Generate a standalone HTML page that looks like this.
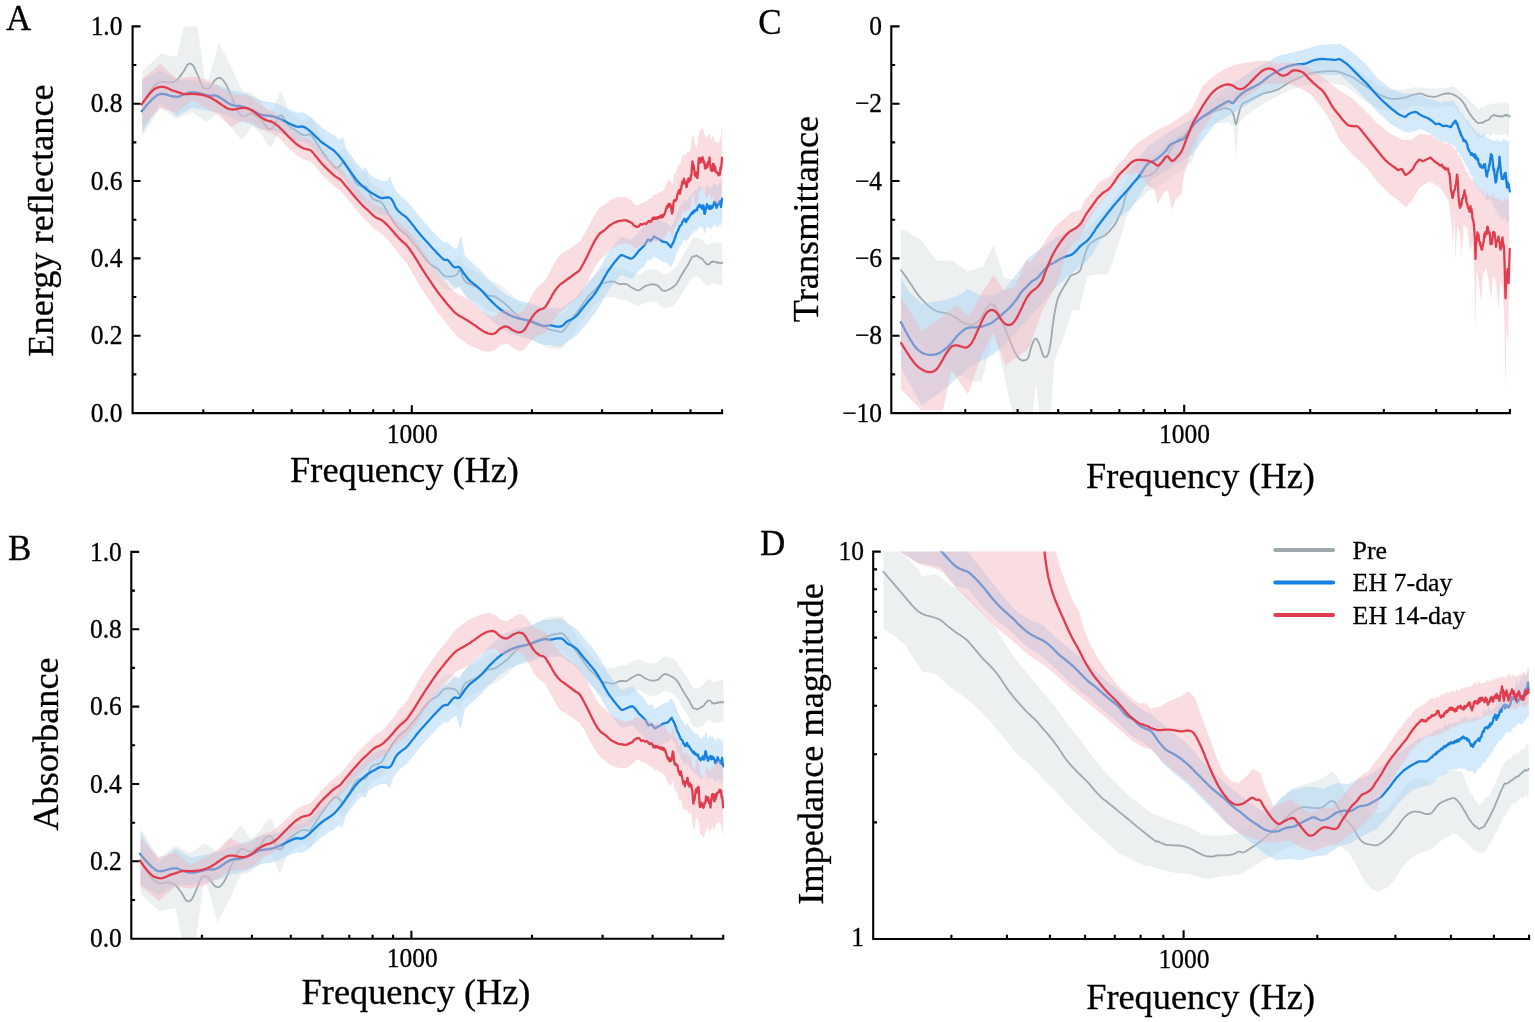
<!DOCTYPE html>
<html lang="en"><head><meta charset="utf-8"><title>Figure</title>
<style>
html,body{margin:0;padding:0;background:#fff;}
body{width:1535px;height:1022px;overflow:hidden;}
svg{display:block;}
text{font-family:'Liberation Serif', serif;fill:#000;stroke:#000;stroke-width:0.3px;stroke-linejoin:round;}
.tk{font-size:25.5px;}
.al{font-size:36.3px;}
.pl{font-size:35px;}
.lg{font-size:25.9px;}
.ax{stroke:#000;stroke-width:2.1;fill:none;stroke-linecap:square;}
.ln{fill:none;stroke-linejoin:round;stroke-linecap:round;}
</style></head>
<body>
<svg width="1535" height="1022" viewBox="0 0 1535 1022">
<rect width="1535" height="1022" fill="#fff"/>
<g id="panel-A">
<clipPath id="clipA"><rect x="132.6" y="26.4" width="590.5" height="386.7"/></clipPath>
<g clip-path="url(#clipA)">
<path d="M142.2 71.4 L160.5 53.8 L177 56.9 L192.1 -11.3 L206 88 L218.9 42.5 L230.8 66.3 L242 90.1 L242 89.3 L243.5 90.9 L245 91.3 L246.5 91.7 L248 92.1 L249.5 92.4 L251 92.8 L252.5 93.9 L254 95.2 L255.5 96.5 L257 97.8 L258.5 99.1 L260 100.4 L261.5 101.7 L263 104 L264.5 106.6 L266 109.2 L267.5 110.9 L269 111.9 L270.5 112.8 L272 112 L273.5 109.1 L275 104.7 L276.5 100.4 L278 96.8 L279.5 93.3 L281 92.1 L282.5 94.5 L284 98.3 L285.5 102.3 L287 106.3 L288.5 110.3 L290 112.2 L291.5 113.4 L293 114.5 L294.5 115.6 L296 116.7 L297.5 117.7 L299 118.7 L300.5 119.6 L302 120.4 L303.5 121.1 L305 121.1 L306.5 120.1 L308 118.7 L309.5 117.3 L311 117.3 L312.5 117.9 L314 121 L315.5 124.3 L317 127.7 L318.5 131.2 L320 134.2 L321.5 136.3 L323 138.4 L324.5 140.5 L326 142.6 L327.5 144.7 L329 146.7 L330.5 148.4 L332 150.1 L333.5 151.8 L335 153.4 L336.5 153.6 L338 153.4 L339.5 152.4 L341 150.9 L342.5 149 L344 148.3 L345.5 149.8 L347 152.6 L348.5 156.1 L350 158.2 L351.5 160.8 L353 163.5 L354.5 166.2 L356 168.9 L357.5 170.3 L359 171 L360.5 171.8 L362 172.4 L363.5 172.6 L365 172.8 L366.5 173 L368 176.1 L369.5 179.3 L371 182.4 L372.5 184.2 L374 185.2 L375.5 186.2 L377 186.8 L378.5 187.4 L380 188 L381.5 188.6 L383 190.9 L384.5 193.3 L386 195.7 L387.5 198.1 L389 200.5 L390.5 202.9 L392 205.3 L393.5 207.7 L395 209.7 L396.5 211.5 L398 213.3 L399.5 215.1 L401 216.6 L402.5 217.8 L404 219 L405.5 220.1 L407 221.4 L408.5 223.2 L410 224.9 L411.5 226.7 L413 228.5 L414.5 230.2 L416 232 L417.5 233.8 L419 235.5 L420.5 237.6 L422 239.6 L423.5 241.7 L425 243.7 L426.5 245.4 L428 246.8 L429.5 248.3 L431 249.8 L432.5 250.9 L434 251.8 L435.5 252.6 L437 253.5 L438.5 254.6 L440 256.2 L441.5 257.8 L443 259.4 L444.5 260.8 L446 260.9 L447.5 261.1 L449 261.3 L450.5 261.5 L452 261.1 L453.5 260.6 L455 260.2 L456.5 259.8 L458 257.8 L459.5 255.6 L461 258 L462.5 261.4 L464 264.7 L465.5 266.2 L467 267.3 L468.5 268.4 L470 269.3 L471.5 269.9 L473 270.5 L474.5 271.1 L476 271.8 L477.5 272.7 L479 273.6 L480.5 274.5 L482 275.4 L483.5 276.6 L485 277.8 L486.5 279 L488 280.2 L489.5 280.6 L491 280.9 L492.5 281.2 L494 281.5 L495.5 282.2 L497 283.1 L498.5 284 L500 284.9 L501.5 286 L503 287.2 L504.5 288.4 L506 289.6 L507.5 291 L509 292.5 L510.5 294 L512 295.5 L513.5 296.9 L515 298.3 L516.5 299.7 L518 301.1 L519.5 302.4 L521 303 L522.5 303.4 L524 303.9 L525.5 304.4 L527 304.8 L528.5 305.2 L530 305.5 L531.5 305.9 L533 306.3 L534.5 306.6 L536 307 L537.5 307.4 L539 307.7 L540.5 307.9 L542 308.2 L543.5 308.4 L545 308.7 L546.5 309.2 L548 310.1 L549.5 310.9 L551 311.6 L552.5 312.1 L554 312.6 L555.5 313.2 L557 313.7 L558.5 314 L560 314.4 L561.5 314.6 L563 313.7 L564.5 312.3 L566 310.7 L567.5 308.8 L569 306.9 L570.5 304.9 L572 302.9 L573.5 300.8 L575 298.8 L576.5 296.8 L578 294.8 L579.5 292.7 L581 290.7 L582.5 288.7 L584 286.7 L585.5 284.6 L587 282.6 L588.5 280.7 L590 279.3 L591.5 277.8 L593 276.4 L594.5 275 L596 273.6 L597.5 272.1 L599 270.7 L600.5 269.3 L602 268.7 L603.5 268.2 L605 267.8 L606.5 267.4 L608 267.1 L609.5 266.9 L611 266.8 L612.5 266.6 L614 266.8 L615.5 267.4 L617 268 L618.5 268.6 L620 269 L621.5 269 L623 269 L624.5 269 L626 269.1 L627.5 270 L629 270.9 L630.5 271.8 L632 272.7 L633.5 273.3 L635 273.9 L636.5 274.5 L638 275.1 L639.5 274.6 L641 273.6 L642.5 272.6 L644 271.7 L645.5 270.9 L647 270.4 L648.5 269.8 L650 269.3 L651.5 269 L653 269.1 L654.5 269.2 L656 269.3 L657.5 269.7 L659 270.9 L660.5 272.2 L662 273.4 L663.5 274.6 L665 274.1 L666.5 273.6 L668 273.1 L669.5 272.6 L671 271.5 L672.5 270.3 L674 269.2 L675.5 268 L677 265.8 L678.5 263.2 L680 260.6 L681.5 258 L683 255.4 L684.5 252.8 L686 250.3 L687.5 247.7 L689 245 L690.5 241.9 L692 238.8 L693.5 238.1 L695 237.8 L696.5 237 L698 237.7 L699.5 238.4 L701 238.8 L702.5 240.1 L704 242 L705.5 243.6 L707 245.3 L708.5 245 L710 244 L711.5 242.5 L713 241.6 L714.5 242.2 L716 242.1 L717.5 242.9 L719 242.5 L720.5 243.4 L722 242.4 L722.3 242.7 L722.3 284.7 L722 284.4 L720.5 285.2 L719 284.2 L717.5 284.5 L716 283.5 L714.5 283.5 L713 282.8 L711.5 283.5 L710 284.9 L708.5 285.7 L707 286 L705.5 284.1 L704 282.4 L702.5 280.4 L701 278.9 L699.5 278.3 L698 277.3 L696.5 276.3 L695 276.8 L693.5 276.8 L692 277.2 L690.5 280 L689 282.8 L687.5 285.2 L686 287.5 L684.5 289.7 L683 292 L681.5 294.3 L680 296.6 L678.5 299 L677 301.4 L675.5 303.5 L674 304.4 L672.5 305.4 L671 306.4 L669.5 307.3 L668 307.6 L666.5 307.9 L665 308.2 L663.5 308.5 L662 307.2 L660.5 305.8 L659 304.3 L657.5 302.9 L656 302.3 L654.5 302 L653 301.7 L651.5 301.4 L650 301.5 L648.5 301.9 L647 302.3 L645.5 302.6 L644 303.2 L642.5 304 L641 304.7 L639.5 305.6 L638 306.1 L636.5 305.4 L635 304.8 L633.5 304.2 L632 303.5 L630.5 302.6 L629 301.6 L627.5 300.7 L626 299.8 L624.5 299.6 L623 299.6 L621.5 299.5 L620 299.5 L618.5 299 L617 298.4 L615.5 297.8 L614 297.1 L612.5 296.9 L611 297 L609.5 297.2 L608 297.3 L606.5 297.6 L605 297.9 L603.5 298.3 L602 298.7 L600.5 299.3 L599 300.8 L597.5 302.4 L596 304 L594.5 305.5 L593 307.1 L591.5 308.7 L590 310.3 L588.5 311.8 L587 313.9 L585.5 316.1 L584 318.3 L582.5 320.4 L581 322.6 L579.5 324.8 L578 327 L576.5 329.1 L575 331.3 L573.5 333.5 L572 335.7 L570.5 337.8 L569 340 L567.5 342.1 L566 344.1 L564.5 345.8 L563 347.4 L561.5 348.5 L560 348.4 L558.5 348.5 L557 348.5 L555.5 348.4 L554 348.4 L552.5 348.3 L551 348.2 L549.5 347.9 L548 347.5 L546.5 347.1 L545 346.4 L543.5 345.7 L542 345 L540.5 344.2 L539 343.5 L537.5 342.8 L536 341.9 L534.5 341.1 L533 340.3 L531.5 339.4 L530 338.6 L528.5 337.8 L527 337 L525.5 336.1 L524 335.2 L522.5 334.2 L521 333.3 L519.5 332.4 L518 331.1 L516.5 329.7 L515 328.3 L513.5 326.9 L512 325.5 L510.5 324 L509 322.5 L507.5 321 L506 319.6 L504.5 318.4 L503 317.2 L501.5 316 L500 314.9 L498.5 314 L497 313.1 L495.5 312.2 L494 311.5 L492.5 311.2 L491 310.9 L489.5 310.6 L488 310.2 L486.5 309 L485 307.8 L483.5 306.6 L482 305.4 L480.5 304.5 L479 303.6 L477.5 302.6 L476 301.7 L474.5 301 L473 300.3 L471.5 299.7 L470 299 L468.5 298.1 L467 297 L465.5 295.8 L464 294.3 L462.5 290.9 L461 287.6 L459.5 285.1 L458 287.3 L456.5 289.2 L455 289.6 L453.5 290 L452 290.4 L450.5 290.7 L449 290.5 L447.5 290.3 L446 290.1 L444.5 289.9 L443 288.5 L441.5 286.9 L440 285.2 L438.5 283.6 L437 282.4 L435.5 281.5 L434 280.6 L432.5 279.7 L431 278.5 L429.5 277 L428 275.5 L426.5 274 L425 272.4 L423.5 270.3 L422 268.2 L420.5 266.1 L419 264 L417.5 262.2 L416 260.4 L414.5 258.6 L413 256.8 L411.5 255 L410 253.2 L408.5 251.4 L407 249.6 L405.5 248.3 L404 247.1 L402.5 245.9 L401 244.7 L399.5 243.1 L398 241.3 L396.5 239.5 L395 237.7 L393.5 235.7 L392 233.3 L390.5 230.9 L389 228.5 L387.5 226.1 L386 223.7 L384.5 221.3 L383 218.9 L381.5 216.6 L380 216 L378.5 215.4 L377 214.8 L375.5 214.2 L374 213.2 L372.5 212.2 L371 210.4 L369.5 207.3 L368 204.1 L366.5 201 L365 200.8 L363.5 200.6 L362 200.4 L360.5 199.8 L359 199 L357.5 198.3 L356 196.9 L354.5 194.2 L353 191.5 L351.5 188.8 L350 186.2 L348.5 184.1 L347 180.6 L345.5 177.8 L344 176.3 L342.5 177 L341 178.9 L339.5 180.4 L338 181.4 L336.5 181.6 L335 181.4 L333.5 179.8 L332 178.1 L330.5 176.4 L329 174.7 L327.5 172.7 L326 170.6 L324.5 168.5 L323 166.4 L321.5 164.3 L320 162.2 L318.5 159.9 L317 157.5 L315.5 155.1 L314 152.9 L312.5 150.9 L311 149.4 L309.5 148.4 L308 148.7 L306.5 149.1 L305 149.1 L303.5 149.1 L302 148.4 L300.5 147.6 L299 146.7 L297.5 145.7 L296 144.7 L294.5 143.6 L293 142.5 L291.5 141.4 L290 140.2 L288.5 139.1 L287 136.9 L285.5 134.7 L284 132.4 L282.5 130.4 L281 129.8 L279.5 130.8 L278 133.6 L276.5 136.5 L275 140.2 L273.5 143.9 L272 146.1 L270.5 146.7 L269 145.6 L267.5 144.5 L266 142.6 L264.5 139.8 L263 137.1 L261.5 134.6 L260 133.1 L258.5 131.7 L257 130.2 L255.5 128.8 L254 127.3 L252.5 125.9 L251 127.4 L249.5 129.6 L248 131.8 L246.5 134 L245 136.2 L243.5 138.3 L242 139.3 L242 140.9 L230.8 126.5 L218.9 112.7 L206 122.1 L192.1 112.1 L177 118.9 L160.5 107.7 L142.2 136.5Z" fill="#d7dee0" fill-opacity="0.45" stroke="none"/>
<path class="ln" d="M141.7 105.1 L142.1 104.4 L142.5 103.6 L143.1 102.6 L143.8 101.5 L144.5 100.3 L145.2 99.1 L145.9 97.9 L146.7 96.7 L147.3 95.8 L147.9 94.7 L148.6 93.7 L149.2 92.6 L149.9 91.5 L150.6 90.4 L151.3 89.4 L152 88.4 L152.7 87.5 L153.4 86.7 L154.5 85.6 L155.6 84.6 L156.8 83.8 L157.9 83.1 L159 82.5 L160 82 L161.4 81.7 L162.6 81.7 L163.8 81.9 L165 82 L166.2 82.2 L167.4 82.5 L168.7 82.6 L170 82.5 L171.3 82.3 L172.6 82 L174 81.6 L175.3 81 L176.7 80 L177.6 79.3 L178.5 78.3 L179.4 77.2 L180.2 76.1 L181.1 74.9 L181.9 73.8 L182.7 72.7 L183.4 71.7 L184.3 70.3 L185 69 L185.6 67.8 L186.2 66.8 L186.7 65.9 L188 64.4 L189.2 63.7 L190.5 63.6 L191.7 64.2 L192.5 64.9 L193.3 65.9 L194.2 67.5 L194.7 68.4 L195.2 69.4 L195.7 70.6 L196.2 71.8 L196.8 73.1 L197.4 74.3 L197.9 75.6 L198.4 76.7 L198.9 78 L199.4 79.3 L199.9 80.6 L200.4 81.9 L200.9 83.1 L201.3 84.1 L201.7 85.1 L202.6 86.6 L203.4 87.7 L204.2 88.4 L205.9 88.8 L207.6 88.7 L208.7 88.6 L210.1 87.6 L210.7 86.8 L211.3 85.7 L212.1 84.5 L212.8 83.2 L213.6 82 L214.4 80.9 L215.1 80 L216.5 78.8 L217.9 78.1 L219.2 77.9 L220.4 78 L221.4 78.6 L222.6 79.7 L223.2 80.5 L223.9 81.4 L224.7 82.4 L225.4 83.6 L226.1 84.7 L226.7 85.9 L227.3 87 L227.8 88.1 L228.4 89.3 L228.9 90.5 L229.4 91.9 L230.1 93.4 L230.5 94.4 L231 95.5 L231.5 96.7 L232 97.9 L232.5 99.1 L233 100.4 L233.5 101.6 L234 102.8 L234.6 104 L235.1 105.1 L235.7 106.4 L236.4 107.7 L237 109 L237.7 110.3 L238.3 111.4 L238.9 112.5 L239.5 113.5 L240.1 114.2 L241.3 115.5 L242.4 115.9 L243.4 116.1 L245 115.8 L246.8 115.1 L247.9 114.6 L249.1 114 L250.5 113.5 L251.8 113.4 L252.8 113.7 L253.8 114.4 L254.8 115.2 L255.8 116 L256.8 116.7 L257.8 117.3 L258.8 117.9 L259.8 118.4 L260.8 119.1 L261.8 120.1 L262.5 121 L263.2 122.1 L263.9 123.3 L264.7 124.6 L265.4 125.7 L266.1 126.8 L266.8 127.6 L268.3 128.7 L269.7 129.2 L270.9 129.2 L272.2 128.5 L273.4 126.7 L273.9 125.9 L274.5 124.8 L275.1 123.5 L275.6 122.3 L276.2 121.1 L276.8 120.1 L277.6 118.6 L278.5 117.3 L279.3 116.1 L280.1 115.4 L281.4 115.4 L282.6 116.4 L283.4 117.4 L284.2 118.7 L285.1 120.1 L285.7 121 L286.2 122 L286.8 123 L287.6 124.1 L288.4 125.1 L289.4 125.9 L290.5 126.8 L291.7 127.7 L292.9 128.5 L294.1 129.3 L295.1 130.1 L296.3 130.9 L297.3 131.6 L298.3 132.3 L299.3 132.9 L300.1 133.4 L301.4 134.2 L302.4 134.7 L303.5 135.1 L305.2 135.2 L306.8 135.1 L308.1 134.6 L309.3 134.2 L310.5 134.8 L311.8 135.9 L312.5 136.7 L313.2 137.6 L314.3 139.3 L314.8 140 L315.3 140.9 L315.9 141.8 L316.5 142.8 L317.2 143.9 L317.9 145 L318.6 146.1 L319.4 147.3 L320.1 148.4 L320.8 149.4 L321.5 150.5 L322.3 151.5 L323.1 152.7 L323.8 153.8 L324.7 154.9 L325.5 156.1 L326.3 157.1 L327 158.2 L327.8 159.2 L328.5 160.1 L329.4 161.3 L330.4 162.4 L331.3 163.5 L332.2 164.6 L333 165.5 L333.8 166.4 L334.5 167.1 L335.1 167.6 L336.7 168.2 L337.6 167.6 L338.8 167 L340.1 165.9 L340.9 164.9 L341.8 163.6 L342.7 162.4 L343.5 161.8 L344.8 162.4 L346 164.3 L346.5 165.3 L347 166.5 L347.5 167.9 L348 169.1 L348.5 170.1 L349.1 171 L350.3 172.5 L350.7 173.3 L351.2 174.4 L351.9 175.5 L352.5 176.8 L353.2 178.2 L353.9 179.5 L354.6 180.8 L355.3 182 L355.9 183 L356.5 183.8 L357.9 185.1 L359.1 185.7 L360.3 186 L361.5 186.3 L362.8 186.4 L364 186.2 L365.3 186.2 L366.5 187.1 L367.1 187.8 L367.7 188.9 L368.3 190.1 L368.8 191.5 L369.4 192.9 L370 194.3 L370.5 195.6 L371.1 196.7 L371.6 197.6 L372.8 199 L373.9 199.5 L375.3 200.1 L376.4 200.5 L377.6 200.7 L378.9 201 L380.3 201.6 L381.6 202.6 L382.3 203.4 L383 204.3 L383.7 205.4 L384.4 206.5 L385.1 207.7 L385.8 209 L386.4 210.2 L387.1 211.5 L387.8 212.6 L388.5 213.7 L389.2 214.9 L389.9 216 L390.6 217.2 L391.3 218.3 L392 219.5 L392.7 220.6 L393.4 221.6 L394.1 222.6 L394.9 223.7 L395.7 224.7 L396.4 225.7 L397.2 226.7 L398 227.6 L398.8 228.5 L399.6 229.3 L400.4 230.1 L401.4 231.1 L402.5 231.9 L403.5 232.6 L404.5 233.4 L405.6 234.2 L406.6 235.2 L407.4 236 L408.2 236.9 L409 237.8 L409.8 238.8 L410.5 239.7 L411.3 240.7 L412.1 241.7 L412.9 242.7 L413.7 243.6 L414.5 244.5 L415.2 245.4 L416 246.3 L416.8 247.3 L417.6 248.2 L418.4 249.2 L419.2 250.2 L419.9 251.2 L420.7 252.3 L421.5 253.5 L422.3 254.6 L423.1 255.8 L423.8 256.9 L424.6 258 L425.4 258.9 L426.3 260 L427.2 261 L428.1 261.9 L429 262.8 L429.9 263.7 L430.8 264.5 L431.7 265.2 L432.7 265.9 L433.8 266.5 L434.8 267.1 L435.9 267.6 L436.9 268.2 L437.9 269 L438.8 269.8 L439.7 270.9 L440.6 272 L441.5 273.1 L442.4 274.1 L443.3 275.1 L444.2 275.7 L445.5 276.3 L446.7 276.6 L448 276.7 L449.2 276.6 L450.5 276.5 L451.8 276.3 L453.1 276.1 L454.5 275.7 L455.7 275.3 L456.7 274.7 L457.7 273.5 L458.3 271.7 L459 270.4 L459.7 270.2 L460.2 270.7 L460.6 271.6 L461.1 272.7 L461.6 274 L462.1 275.4 L462.6 276.8 L463.2 278.2 L463.7 279.3 L464.2 280.2 L465.2 281.4 L466.1 282.3 L467.1 282.9 L468.2 283.4 L469.3 284 L470.4 284.6 L471.7 285 L472.9 285.5 L474.2 285.9 L475.5 286.5 L476.6 287 L477.6 287.6 L478.6 288.2 L479.7 288.9 L480.7 289.5 L481.8 290.3 L482.8 291.1 L483.9 292 L484.9 292.9 L486 293.8 L487 294.6 L488 295.3 L489.3 295.7 L490.5 295.9 L491.8 296 L493 296.2 L494.3 296.5 L495.3 297 L496.4 297.5 L497.4 298.2 L498.5 298.8 L499.5 299.6 L500.6 300.3 L501.6 301 L502.7 301.8 L503.7 302.6 L504.7 303.5 L505.8 304.4 L506.8 305.3 L507.7 306.1 L508.6 307 L509.5 307.9 L510.4 308.8 L511.3 309.8 L512.2 310.7 L513.1 311.6 L514 312.4 L514.9 313.3 L515.8 314.2 L516.7 315.1 L517.6 315.9 L518.5 316.6 L519.4 317.3 L520.6 318.1 L521.9 318.7 L523.1 319.3 L524.4 319.8 L525.6 320.3 L526.9 320.9 L528.1 321.4 L529.4 321.8 L530.6 322.3 L531.9 322.8 L533.1 323.3 L534.4 323.9 L535.6 324.4 L536.9 324.9 L538.1 325.3 L539.4 325.8 L540.6 326.1 L541.9 326.5 L543.1 326.9 L544.4 327.3 L545.7 327.8 L546.9 328.4 L548.2 328.9 L549.4 329.4 L550.7 329.8 L551.9 330.2 L553.2 330.5 L554.5 330.7 L555.8 330.9 L556.9 331.1 L558.3 331.4 L559.6 331.7 L560.8 331.8 L561.9 331.6 L563 331 L563.9 330.1 L564.8 329 L565.7 327.8 L566.4 327 L567.1 326.1 L567.8 325.2 L568.5 324.1 L569.5 322.8 L570.1 321.9 L570.8 320.9 L571.6 319.8 L572.4 318.7 L573.3 317.5 L574.1 316.3 L574.9 315.2 L575.7 314.1 L576.5 313 L577.3 311.9 L578.1 310.8 L578.8 309.7 L579.6 308.6 L580.4 307.5 L581.2 306.4 L582 305.3 L582.8 304.2 L583.5 303 L584.3 301.9 L585.1 300.8 L585.9 299.6 L586.7 298.5 L587.5 297.5 L588.2 296.5 L589.1 295.5 L590 294.6 L590.9 293.7 L591.8 292.8 L592.7 292 L593.6 291.1 L594.5 290.3 L595.4 289.3 L596.3 288.3 L597.2 287.3 L598.1 286.4 L599 285.5 L599.9 284.7 L600.8 284 L602 283.3 L603.3 282.9 L604.5 282.7 L605.8 282.5 L607 282.2 L608.3 282 L609.5 281.7 L610.8 281.5 L612 281.4 L613.3 281.5 L614.5 281.8 L615.8 282.4 L617 283 L618.3 283.6 L619.6 284 L620.8 284.1 L622.1 284 L623.3 283.8 L624.6 283.8 L625.8 284 L626.9 284.4 L627.9 285 L628.9 285.7 L630 286.5 L631 287.2 L632.1 287.8 L633.3 288.4 L634.6 289.1 L635.8 289.8 L637.1 290.2 L638.3 290.3 L639.4 290 L640.4 289.4 L641.5 288.7 L642.5 287.9 L643.6 287.1 L644.6 286.5 L645.9 285.9 L647.1 285.4 L648.4 285 L649.6 284.7 L650.9 284.5 L652.1 284.4 L653.4 284.4 L654.6 284.5 L655.9 284.8 L657.1 285.3 L658.2 286 L659.2 287 L660.3 288.2 L661.3 289.3 L662.3 290.2 L663.4 290.8 L664.6 290.9 L665.9 290.7 L667.1 290.3 L668.4 289.7 L669.7 289 L670.7 288.5 L671.7 287.9 L672.8 287.3 L673.8 286.5 L674.9 285.6 L675.9 284.5 L676.5 283.7 L677.2 282.8 L677.8 281.8 L678.4 280.7 L679 279.6 L679.7 278.4 L680.3 277.3 L680.9 276.1 L681.6 275 L682.2 274 L682.9 272.8 L683.7 271.6 L684.4 270.3 L685.2 269.1 L686 267.9 L686.7 266.8 L687.4 265.7 L687.9 264.8 L688.4 264 L689.5 261.9 L690 260.9 L691 258.9 L692 257 L693 256.5 L694 256.3 L695 256.3 L696 255.6 L697 255.7 L698 256.5 L699 257 L700 257.8 L701 257.9 L702 258.8 L703 259.7 L704 261.2 L705 262.5 L706 263.2 L707 264.7 L708 264.4 L709 264.3 L710 263.4 L711 262 L712 262 L713 261.2 L714 262 L715 261.7 L716 261.8 L717 263.1 L718 262.3 L719 262.3 L720 263.4 L721 263.2 L722 262.4 L722.3 262.7" stroke="#9ea8af" stroke-width="1.8"/>
<path d="M142.2 80.1 L160.5 70.1 L177 80.1 L192.1 80.1 L206 82.6 L218.9 85.1 L230.8 90.1 L242 92.6 L242 92.6 L243 92.9 L244 93.2 L245 93.5 L246 93.9 L247 94.2 L248 94.6 L249 95 L250 95.4 L251 95.8 L252 96.2 L253 96.6 L254 97.1 L255 97.7 L256 98.2 L257 98.8 L258 99.3 L259 99.9 L260 100.3 L261 100.5 L262 100.7 L263 100.9 L264 101.1 L265 101.3 L266 101.5 L267 101.6 L268 101.7 L269 101.8 L270 102 L271 102.1 L272 102.2 L273 102.5 L274 102.8 L275 103.1 L276 103.5 L277 103.8 L278 104.1 L279 104.5 L280 105 L281 105.5 L282 106 L283 106.5 L284 106.9 L285 107.4 L286 107.8 L287 108.3 L288 108.8 L289 109.2 L290 109.7 L291 110.1 L292 110.5 L293 110.9 L294 111.3 L295 111.6 L296 112 L297 112.4 L298 112.4 L299 112.4 L300 112.4 L301 112.3 L302 112.3 L303 112.3 L304 112.7 L305 113.3 L306 113.9 L307 114.5 L308 115.2 L309 115.8 L310 116.5 L311 117.5 L312 118.4 L313 119.3 L314 120.3 L315 121.2 L316 122.2 L317 123.1 L318 124 L319 124.8 L320 125.7 L321 126.6 L322 127.5 L323 128.2 L324 128.9 L325 129.6 L326 130.2 L327 130.9 L328 131.5 L329 132.2 L330 132.9 L331 133.4 L332 134 L333 134.5 L334 135 L335 135.6 L336 136.6 L337 137.5 L338 138.4 L339 139.3 L340 140.2 L341 139.1 L342 138.1 L343 137.1 L344 140.8 L345 144.6 L346 148.3 L347 149.7 L348 151.1 L349 152.5 L350 153.9 L351 155.3 L352 156.7 L353 158.1 L354 159.5 L355 160.9 L356 162.3 L357 163.5 L358 164.5 L359 165.5 L360 166.5 L361 167.5 L362 168.5 L363 169.5 L364 168.6 L365 167.7 L366 166.9 L367 169.3 L368 171.8 L369 174.3 L370 174.9 L371 175.5 L372 176.1 L373 176.7 L374 177.3 L375 177.9 L376 178.4 L377 178.9 L378 179.4 L379 179.8 L380 180.3 L381 180.8 L382 181.1 L383 181.1 L384 181.1 L385 181.1 L386 181.1 L387 181.1 L388 179.4 L389 177.7 L390 176.1 L391 178.9 L392 182.3 L393 185.6 L394 187.4 L395 189.1 L396 190.8 L397 192.2 L398 193.2 L399 194.2 L400 195.2 L401 196.2 L402 197.1 L403 197.9 L404 198.6 L405 199.4 L406 200.1 L407 201.1 L408 202.3 L409 203.5 L410 204.7 L411 205.9 L412 207.1 L413 208.3 L414 209.6 L415 210.8 L416 212.1 L417 213.4 L418 214.7 L419 216 L420 217.1 L421 218.2 L422 219.3 L423 220.5 L424 221.6 L425 222.7 L426 223.8 L427 224.9 L428 226.1 L429 227.2 L430 228.3 L431 229.4 L432 230.5 L433 231.6 L434 232.7 L435 233.8 L436 234.8 L437 235.9 L438 237 L439 237.9 L440 238.8 L441 239.8 L442 240.7 L443 241.6 L444 242.5 L445 242.7 L446 242.6 L447 242.6 L448 242.6 L449 243.6 L450 244.6 L451 245.5 L452 246.5 L453 247.5 L454 248.4 L455 248.5 L456 248.4 L457 248.2 L458 244.5 L459 240.7 L460 238 L461 235.6 L462 240.7 L463 245.8 L464 250.9 L465 255.9 L466 256.9 L467 257.9 L468 258.9 L469 259.9 L470 260.9 L471 261.7 L472 262.6 L473 263.4 L474 264.2 L475 265.1 L476 266 L477 266.9 L478 267.8 L479 268.7 L480 269.6 L481 270.5 L482 271.5 L483 272.7 L484 273.8 L485 275 L486 276.2 L487 277.3 L488 278.5 L489 279.5 L490 280.6 L491 281.6 L492 282.6 L493 283.7 L494 284.7 L495 285.7 L496 286.6 L497 287.5 L498 288.4 L499 289.4 L500 290.3 L501 291.1 L502 291.8 L503 292.4 L504 293.1 L505 293.8 L506 294.5 L507 295.1 L508 295.7 L509 296.2 L510 296.7 L511 297.2 L512 297.7 L513 298.2 L514 298.6 L515 299 L516 299.3 L517 299.7 L518 300.1 L519 300.4 L520 300.7 L521 300.9 L522 301.1 L523 301.3 L524 301.5 L525 301.7 L526 301.9 L527 302.2 L528 302.5 L529 302.8 L530 303 L531 303.3 L532 303.6 L533 304 L534 304.4 L535 304.8 L536 305.2 L537 305.6 L538 306 L539 306.3 L540 306.6 L541 306.9 L542 307.2 L543 307.4 L544 307.7 L545 307.8 L546 307.7 L547 307.6 L548 307.5 L549 307.5 L550 307.4 L551 307.4 L552 307.6 L553 307.8 L554 308 L555 308.2 L556 308.4 L557 308.6 L558 308.5 L559 308.4 L560 308.3 L561 308.2 L562 308 L563 307.1 L564 306.2 L565 305.3 L566 304.4 L567 303.5 L568 303 L569 302.5 L570 302 L571 301.5 L572 301 L573 300.3 L574 299.5 L575 298.8 L576 298 L577 297.3 L578 296 L579 294.8 L580 293.5 L581 292.3 L582 291 L583 289.8 L584 288.6 L585 287.4 L586 286.2 L587 285 L588 283.8 L589 282.6 L590 281.4 L591 280.2 L592 279 L593 277.8 L594 276.6 L595 275.2 L596 273.6 L597 272 L598 270.4 L599 268.8 L600 267.2 L601 265.5 L602 263.7 L603 261.9 L604 260.1 L605 258.2 L606 256.4 L607 254.6 L608 253.2 L609 251.7 L610 250.3 L611 248.9 L612 247.5 L613 246 L614 244.8 L615 243.5 L616 242.3 L617 241.1 L618 239.9 L619 238.6 L620 237.7 L621 237.2 L622 236.7 L623 237 L624 237.4 L625 237.7 L626 238.1 L627 238.5 L628 238.7 L629 239 L630 239.2 L631 239.4 L632 239.6 L633 238.6 L634 237.4 L635 236.3 L636 235.2 L637 234 L638 232.9 L639 231.8 L640 230.8 L641 229.7 L642 228.7 L643 227.7 L644 226.7 L645 225.3 L646 223.5 L647 221.6 L648 220.6 L649 220.9 L650 221.1 L651 221.2 L652 219.9 L653 218.5 L654 217.2 L655 217.5 L656 218.1 L657 218.7 L658 219.1 L659 219.6 L660 220.1 L661 220.9 L662 221.7 L663 222.1 L664 222.3 L665 222.5 L666 222.7 L667 223 L668 224 L669 225.2 L670 226.5 L671 227.6 L672 224.8 L673 223.5 L674 220.9 L675 218.2 L676 215 L677 212.3 L678 210.6 L679 208.4 L680 205.9 L681 205 L682 203.6 L683 201.3 L684 199.2 L685 200 L686 202.2 L687 199.8 L688 199.1 L689 197.5 L690 195.3 L691 194.5 L692 192.5 L693 193.3 L694 190.7 L695 190.5 L696 190 L697 190.4 L698 187.4 L699 186.5 L700 185 L701 186.2 L702 188.7 L703 185.3 L704 190.9 L705 192.8 L706 187.7 L707 184.2 L708 187.3 L709 187.7 L710 185.7 L711 188.7 L712 186.1 L713 185.7 L714 182.9 L715 182.9 L716 184.6 L717 186.4 L718 183.9 L719 184.3 L720 181.2 L721 187 L722 178.9 L722.3 178.8 L722.3 220.8 L722 220.9 L721 228.9 L720 223.1 L719 226.2 L718 225.7 L717 228.2 L716 226.3 L715 224.5 L714 224.5 L713 227.2 L712 227.6 L711 230.2 L710 227.1 L709 229.1 L708 228.6 L707 225.5 L706 228.9 L705 234 L704 232.1 L703 226.4 L702 229.7 L701 227.1 L700 226 L699 227.4 L698 228.3 L697 231.2 L696 230.7 L695 231.2 L694 231.3 L693 233.9 L692 233 L691 235.1 L690 235.8 L689 238 L688 239.5 L687 240.2 L686 242.5 L685 240.2 L684 239.4 L683 241.4 L682 243.7 L681 245 L680 245.9 L679 248.4 L678 250.5 L677 252.3 L676 254.9 L675 258.1 L674 260.8 L673 263.3 L672 264.6 L671 267.3 L670 266.2 L669 265 L668 263.7 L667 262.6 L666 262.4 L665 262.1 L664 261.9 L663 261.6 L662 261.3 L661 260.4 L660 259.6 L659 259.1 L658 258.6 L657 258.1 L656 257.5 L655 256.9 L654 256.6 L653 257.9 L652 259.2 L651 260.5 L650 260.4 L649 260.1 L648 259.8 L647 260.8 L646 262.6 L645 264.4 L644 265.8 L643 266.8 L642 267.8 L641 268.8 L640 269.8 L639 270.8 L638 271.8 L637 272.9 L636 274.1 L635 275.2 L634 276.3 L633 277.4 L632 278.4 L631 278.2 L630 277.9 L629 277.7 L628 277.4 L627 277.2 L626 276.8 L625 276.4 L624 276 L623 275.6 L622 275.2 L621 275.7 L620 276.2 L619 277.1 L618 278.3 L617 279.5 L616 280.7 L615 281.9 L614 283.1 L613 284.4 L612 285.8 L611 287.2 L610 288.6 L609 290 L608 291.4 L607 292.8 L606 294.6 L605 296.4 L604 298.2 L603 300 L602 301.8 L601 303.6 L600 305.2 L599 306.8 L598 308.4 L597 310 L596 311.6 L595 313.2 L594 314.6 L593 315.8 L592 317 L591 318.2 L590 319.4 L589 320.6 L588 321.8 L587 323 L586 324.2 L585 325.4 L584 326.6 L583 327.8 L582 329 L581 330.3 L580 331.5 L579 332.8 L578 334 L577 335.3 L576 336 L575 336.8 L574 337.5 L573 338.3 L572 339 L571 339.5 L570 340 L569 340.5 L568 341 L567 341.5 L566 342.4 L565 343.3 L564 344.2 L563 345.1 L562 346 L561 346.2 L560 346.3 L559 346.3 L558 346.4 L557 346.4 L556 346.2 L555 345.9 L554 345.7 L553 345.4 L552 345.2 L551 344.9 L550 344.9 L549 344.9 L548 344.9 L547 345 L546 345 L545 345 L544 344.9 L543 344.6 L542 344.3 L541 343.9 L540 343.6 L539 343.3 L538 342.9 L537 342.5 L536 342 L535 341.6 L534 341.1 L533 340.7 L532 340.2 L531 339.9 L530 339.5 L529 339.2 L528 338.9 L527 338.6 L526 338.2 L525 337.9 L524 337.7 L523 337.4 L522 337.2 L521 336.9 L520 336.7 L519 336.5 L518 336.2 L517 335.9 L516 335.7 L515 335.4 L514 335.1 L513 334.8 L512 334.4 L511 333.9 L510 333.5 L509 333 L508 332.6 L507 332.2 L506 331.6 L505 331 L504 330.4 L503 329.8 L502 329.2 L501 328.6 L500 327.8 L499 327 L498 326.2 L497 325.3 L496 324.5 L495 323.6 L494 322.8 L493 321.8 L492 320.8 L491 319.9 L490 318.9 L489 318 L488 317 L487 315.9 L486 314.8 L485 313.7 L484 312.7 L483 311.6 L482 310.5 L481 309.6 L480 308.8 L479 307.9 L478 307.1 L477 306.2 L476 305.4 L475 304.6 L474 303.8 L473 303.1 L472 302.3 L471 301.6 L470 300.8 L469 299.9 L468 298.7 L467 297.4 L466 296.2 L465 294.9 L464 293.7 L463 292.3 L462 291 L461 289.6 L460 288.3 L459 287.2 L458 287.2 L457 287.2 L456 287.2 L455 287.2 L454 287 L453 285.8 L452 284.7 L451 283.6 L450 282.5 L449 281.4 L448 280.2 L447 280.1 L446 279.9 L445 279.8 L444 279.5 L443 278.5 L442 277.6 L441 276.6 L440 275.7 L439 274.7 L438 273.7 L437 272.6 L436 271.5 L435 270.4 L434 269.2 L433 268.1 L432 267 L431 265.8 L430 264.7 L429 263.5 L428 262.3 L427 261.2 L426 260 L425 258.8 L424 257.7 L423 256.5 L422 255.3 L421 254.2 L420 253 L419 251.8 L418 250.5 L417 249.2 L416 247.8 L415 246.5 L414 245.2 L413 243.9 L412 242.6 L411 241.4 L410 240.1 L409 238.9 L408 237.6 L407 236.4 L406 235.4 L405 234.6 L404 233.8 L403 233 L402 232.2 L401 231.3 L400 230.2 L399 229.1 L398 228 L397 226.8 L396 225.2 L395 223.4 L394 221.5 L393 219.6 L392 217.9 L391 216.2 L390 215.1 L389 215.1 L388 215.1 L387 215.1 L386 215.1 L385 215.1 L384 215.1 L383 215.1 L382 215.1 L381 214.8 L380 214.3 L379 213.8 L378 213.4 L377 212.9 L376 212.4 L375 211.9 L374 211.3 L373 210.7 L372 210.1 L371 209.5 L370 208.9 L369 208.3 L368 207.5 L367 206.7 L366 205.9 L365 205.1 L364 204.3 L363 203.5 L362 202.5 L361 201.5 L360 200.5 L359 199.5 L358 198.5 L357 197.5 L356 196.3 L355 194.9 L354 193.5 L353 192.1 L352 190.7 L351 189.3 L350 187.9 L349 186.5 L348 185.1 L347 183.7 L346 182.3 L345 180.9 L344 179.5 L343 178.1 L342 176.8 L341 175.4 L340 174.2 L339 172.9 L338 171.6 L337 170.3 L336 169 L335 167.6 L334 166.6 L333 165.7 L332 164.8 L331 163.8 L330 162.9 L329 162.2 L328 161.4 L327 160.7 L326 160 L325 159.3 L324 158.6 L323 157.9 L322 157.2 L321 156.3 L320 155.3 L319 154.4 L318 153.4 L317 152.5 L316 151.6 L315 150.6 L314 149.6 L313 148.6 L312 147.6 L311 146.7 L310 145.7 L309 144.9 L308 144.2 L307 143.6 L306 142.9 L305 142.2 L304 141.6 L303 141.1 L302 141.1 L301 141.1 L300 141.1 L299 141.1 L298 141 L297 141 L296 140.6 L295 140.1 L294 139.7 L293 139.3 L292 138.9 L291 138.5 L290 138 L289 137.5 L288 137 L287 136.5 L286 136 L285 135.5 L284 135 L283 134.5 L282 134 L281 133.5 L280 133.1 L279 132.6 L278 132.2 L277 131.9 L276 131.6 L275 131.3 L274 131 L273 130.8 L272 130.5 L271 130.4 L270 130.3 L269 130.2 L268 130.1 L267 130 L266 129.9 L265 129.7 L264 129.6 L263 129.4 L262 129.2 L261 129 L260 128.9 L259 128.5 L258 128 L257 127.4 L256 126.9 L255 126.4 L254 125.8 L253 125.3 L252 124.9 L251 124.6 L250 124.2 L249 123.8 L248 123.4 L247 123.1 L246 122.8 L245 122.5 L244 122.2 L243 121.9 L242 121.6 L242 121.5 L230.8 117.7 L218.9 112.7 L206 110.2 L192.1 107.7 L177 116.4 L160.5 102.7 L142.2 132.7Z" fill="#9fd0f4" fill-opacity="0.45" stroke="none"/>
<path class="ln" d="M141.8 111.2 L142.3 110.6 L142.9 109.8 L143.7 108.9 L144.5 107.8 L145.4 106.7 L146.3 105.6 L147.2 104.6 L148 103.7 L148.9 102.7 L149.9 101.7 L150.8 100.7 L151.7 99.8 L152.6 98.9 L153.5 98.1 L154.3 97.4 L155.6 96.3 L156.8 95.4 L158 94.7 L159.3 94.2 L160.5 94 L161.7 93.9 L163 94 L164.3 94.2 L165.6 94.4 L166.8 94.7 L168.1 95.1 L169.3 95.5 L170.6 95.9 L171.8 96.2 L173.1 96.4 L174.3 96.6 L175.6 96.7 L176.8 96.8 L178.1 96.7 L179.4 96.3 L180.6 95.8 L181.9 95.2 L183.1 94.7 L184.4 94.2 L185.6 93.7 L186.9 93.3 L188.1 92.9 L189.4 92.6 L190.6 92.4 L191.9 92.3 L193.1 92.3 L194.4 92.4 L195.6 92.5 L196.9 92.7 L198.1 92.9 L199.4 93.2 L200.6 93.5 L201.9 93.8 L203.2 94.2 L204.4 94.5 L205.7 94.8 L206.9 95.2 L208.2 95.5 L209.4 95.7 L210.7 95.7 L211.9 95.6 L213.2 95.5 L214.4 95.5 L215.7 95.7 L216.9 96 L218.2 96.6 L219.4 97.2 L220.7 97.9 L221.9 98.7 L223 99.4 L224 100.1 L225.1 101 L226.1 101.8 L227.2 102.5 L228.2 103.2 L229.5 103.8 L230.7 104.4 L232 104.9 L233.2 105.3 L234.5 105.7 L235.7 105.9 L237 106 L238.2 106 L239.5 106 L240.7 106.2 L242 106.5 L243.2 106.8 L244.5 107.3 L245.7 107.7 L247 108.2 L248.2 108.6 L249.5 109.1 L250.7 109.6 L252 110.1 L253.3 110.7 L254.5 111.4 L255.8 112.1 L257 112.9 L258.3 113.6 L259.5 114.2 L260.8 114.6 L262 114.9 L263.3 115.1 L264.5 115.3 L265.8 115.4 L267 115.6 L268.3 115.7 L269.5 115.8 L270.8 116 L272 116.2 L273.3 116.5 L274.5 116.9 L275.8 117.3 L277 117.7 L278.3 118.2 L279.6 118.7 L280.8 119.3 L282.1 120 L283.3 120.6 L284.6 121.2 L285.8 121.8 L287.1 122.4 L288.3 123.1 L289.6 123.6 L290.8 124.2 L292.1 124.8 L293.3 125.4 L294.6 125.9 L295.8 126.4 L297.1 126.7 L298.3 126.8 L299.6 126.7 L300.8 126.6 L302.1 126.5 L303.4 126.7 L304.4 127.1 L305.4 127.7 L306.5 128.3 L307.5 129.1 L308.6 129.9 L309.6 130.7 L310.5 131.5 L311.4 132.3 L312.3 133.2 L313.2 134.1 L314.1 135 L315 135.9 L315.9 136.7 L316.8 137.6 L317.7 138.4 L318.6 139.3 L319.5 140.2 L320.3 141 L321.2 141.8 L322.1 142.5 L323.2 143.3 L324.2 144 L325.3 144.7 L326.3 145.4 L327.4 146.1 L328.4 146.8 L329.4 147.5 L330.5 148.2 L331.5 148.8 L332.6 149.6 L333.6 150.4 L334.7 151.3 L335.6 152.2 L336.5 153.2 L337.5 154.2 L338.5 155.3 L339.4 156.4 L340.2 157.4 L340.9 158.3 L341.8 159.4 L342.5 160.3 L343.1 161.2 L344 162.5 L344.6 163.4 L345.3 164.4 L346.1 165.5 L346.9 166.6 L347.8 167.8 L348.6 169 L349.5 170.1 L350.3 171.3 L351 172.4 L351.8 173.5 L352.6 174.7 L353.4 175.8 L354.2 176.9 L355 178 L355.7 179.1 L356.5 180 L357.4 181.1 L358.3 182 L359.2 183 L360.1 183.8 L361 184.7 L361.9 185.5 L362.8 186.3 L363.8 187.2 L364.9 188.1 L365.9 189 L367 189.8 L368 190.6 L369.1 191.3 L370.1 192 L371.1 192.7 L372.2 193.3 L373.2 193.9 L374.3 194.5 L375.3 195.1 L376.5 195.8 L377.7 196.5 L378.9 197.1 L380.2 197.7 L381.6 198.1 L382.7 198.1 L384 198 L385.3 197.7 L386.6 197.5 L387.9 197.4 L389.2 197.5 L390.3 198.1 L391.1 198.7 L391.8 199.6 L392.4 200.7 L393.1 201.9 L393.7 203.1 L394.3 204.4 L394.9 205.7 L395.5 206.9 L396 208 L396.6 208.8 L397.7 210.2 L398.7 211.3 L399.7 212.2 L400.6 213 L401.6 213.9 L402.6 214.6 L403.6 215.3 L404.5 215.9 L405.5 216.6 L406.6 217.6 L407.3 218.4 L408.1 219.2 L408.9 220.1 L409.7 221.1 L410.5 222.1 L411.3 223.1 L412.1 224.1 L412.9 225.1 L413.7 226.1 L414.5 227.1 L415.2 228.1 L416 229.2 L416.8 230.2 L417.6 231.2 L418.4 232.2 L419.2 233.1 L420 234.2 L420.9 235.2 L421.8 236.2 L422.7 237.2 L423.6 238.2 L424.5 239.2 L425.4 240.2 L426.3 241.2 L427.2 242.2 L428.1 243.2 L429 244.2 L429.9 245.2 L430.8 246.2 L431.7 247.2 L432.6 248.2 L433.5 249.2 L434.4 250.1 L435.3 251.1 L436.1 252.1 L437 253 L437.9 253.9 L438.9 254.9 L439.8 255.8 L440.8 256.8 L441.7 257.7 L442.6 258.5 L443.4 259.2 L444.2 259.7 L445.5 260 L446.6 259.7 L448 260.2 L448.7 260.9 L449.6 261.9 L450.5 263.1 L451.5 264.4 L452.4 265.5 L453.4 266.5 L454.2 267.2 L455.6 267.5 L456.8 267.2 L458 266.9 L459.2 267.2 L459.9 267.8 L460.7 268.7 L461.4 269.7 L462.1 270.8 L462.8 271.9 L463.5 273 L464.2 274 L465.1 275.1 L465.9 276.1 L466.7 277.2 L467.5 278.3 L468.3 279.3 L469.3 280.2 L470.2 281.1 L471.2 282 L472.3 282.8 L473.4 283.6 L474.5 284.4 L475.5 285.3 L476.6 286.1 L477.6 287 L478.6 287.9 L479.7 288.8 L480.7 289.8 L481.8 290.8 L482.7 291.7 L483.6 292.7 L484.5 293.7 L485.4 294.7 L486.2 295.8 L487.1 296.8 L488 297.8 L488.9 298.7 L489.8 299.6 L490.7 300.6 L491.6 301.4 L492.5 302.3 L493.4 303.2 L494.3 304 L495.3 305 L496.4 306 L497.4 306.9 L498.5 307.9 L499.5 308.7 L500.6 309.5 L501.6 310.3 L502.7 311 L503.7 311.7 L504.7 312.4 L505.8 313 L506.8 313.6 L508.1 314.2 L509.3 314.9 L510.6 315.5 L511.8 316 L513.1 316.6 L514.3 317 L515.6 317.5 L516.8 317.9 L518.1 318.2 L519.4 318.6 L520.6 318.9 L521.9 319.1 L523.1 319.3 L524.4 319.5 L525.6 319.8 L526.9 320.1 L528.1 320.4 L529.4 320.8 L530.6 321.2 L531.9 321.6 L533.1 322 L534.4 322.6 L535.6 323.1 L536.9 323.6 L538.1 324.1 L539.4 324.5 L540.6 324.9 L541.9 325.3 L543.1 325.6 L544.4 325.8 L545.7 325.8 L546.9 325.7 L548.2 325.5 L549.4 325.4 L550.7 325.3 L551.9 325.5 L553.2 325.8 L554.5 326.1 L555.8 326.4 L556.9 326.6 L558.3 326.7 L559.5 326.7 L560.7 326.5 L561.9 326.1 L562.9 325.4 L563.9 324.5 L564.9 323.4 L565.9 322.4 L566.9 321.6 L568.2 320.8 L569.5 320.3 L570.7 319.7 L572 319.1 L573 318.4 L574 317.8 L575 317.1 L576 316.2 L577 315.3 L577.8 314.4 L578.6 313.5 L579.4 312.4 L580.2 311.3 L581.1 310.2 L582 309 L582.7 308.2 L583.5 307.3 L584.2 306.3 L585 305.4 L585.8 304.4 L586.6 303.4 L587.4 302.5 L588.2 301.5 L589 300.6 L589.8 299.7 L590.6 298.8 L591.4 297.9 L592.2 297 L592.9 296.1 L593.7 295.1 L594.5 294 L595.2 293 L595.9 292 L596.6 290.9 L597.3 289.8 L598 288.7 L598.7 287.5 L599.4 286.4 L600.1 285.2 L600.8 284 L601.4 282.9 L602 281.8 L602.6 280.6 L603.3 279.5 L603.9 278.3 L604.5 277.1 L605.1 276 L605.8 274.8 L606.4 273.8 L607 272.7 L607.8 271.5 L608.6 270.3 L609.4 269.2 L610.2 268.1 L610.9 267 L611.7 266 L612.5 265 L613.3 264 L614.1 262.9 L614.9 261.8 L615.8 260.8 L616.7 259.7 L617.5 258.7 L618.2 257.9 L618.9 257.1 L619.6 256.4 L620.9 255.2 L622.1 255.2 L623.1 255.5 L624.4 256 L625.8 256.7 L627.1 257.2 L628.3 257.8 L629.5 258.4 L630.7 258.7 L632.1 258.4 L633 257.8 L634 256.8 L635 255.7 L636 254.4 L637 253.2 L637.8 252.1 L638.3 251.4 L644.6 245.2 L647.6 239.7 L650.9 240.7 L654.1 236.4 L657.1 238.2 L660.1 239.7 L662.1 241.4 L667.1 242.7 L670 246.2 L670.5 246.7 L671 247.3 L671.5 245.9 L672 244.6 L672.5 243.8 L673 243.3 L673.5 242 L674 240.8 L674.5 238.9 L675 238.1 L675.5 236.4 L676 234.9 L676.5 233.4 L677 232.3 L677.5 232 L678 230.5 L678.5 229.2 L679 228.4 L679.5 226.6 L680 225.9 L680.5 225.6 L681 225 L681.5 224.4 L682 223.6 L682.5 221.3 L683 221.3 L683.5 220.5 L684 219.2 L684.5 218.7 L685 220 L685.5 219.9 L686 222.2 L686.5 221.3 L687 219.8 L687.5 218.5 L688 219.1 L688.5 217.6 L689 217.5 L689.5 216.7 L690 215.3 L690.5 214.6 L691 214.5 L691.5 213.6 L692 212.5 L692.5 212.4 L693 213.3 L693.5 211 L694 210.7 L694.5 211.8 L695 210.5 L695.5 210.6 L696 210 L696.5 209.1 L697 210.4 L697.5 207.5 L698 207.4 L698.5 206 L699 206.5 L699.5 204.7 L700 205 L700.5 206.8 L701 206.2 L701.5 207.5 L702 208.7 L702.5 205.8 L703 205.3 L703.5 205.7 L704 210.9 L704.5 213.9 L705 212.8 L705.5 210.6 L706 207.7 L706.5 207.1 L707 204.2 L707.5 206.1 L708 207.3 L708.5 208 L709 207.7 L709.5 209 L710 205.7 L710.5 206.4 L711 208.7 L711.5 207.7 L712 206.1 L712.5 207.6 L713 205.7 L713.5 205.7 L714 202.9 L714.5 201.7 L715 202.9 L715.5 202.6 L716 204.6 L716.5 207.9 L717 206.4 L717.5 205 L718 203.9 L718.5 203.1 L719 204.3 L719.5 201.4 L720 201.2 L720.5 202 L721 207 L721.5 202.3 L722 198.9 L722.3 198.8" stroke="#1581e0" stroke-width="2.3"/>
<path d="M142.2 78.9 L160.5 63.8 L177 78.9 L192.1 76.4 L206 79.5 L218.9 86.4 L230.8 93.9 L242 95.2 L242 95.2 L243.5 95.3 L245 95.3 L246.5 95.4 L248 96 L249.5 96.8 L251 97.5 L252.5 98.3 L254 99.4 L255.5 100.6 L257 101.9 L258.5 103.2 L260 104.4 L261.5 105.3 L263 106.3 L264.5 107.3 L266 108.3 L267.5 108.9 L269 109.5 L270.5 110.1 L272 110.6 L273.5 111.8 L275 112.9 L276.5 114 L278 115.2 L279.5 116.7 L281 118.3 L282.5 119.9 L284 121.4 L285.5 122.8 L287 124.3 L288.5 125.8 L290 127.2 L291.5 128.6 L293 130 L294.5 131.3 L296 132.6 L297.5 133.8 L299 134.7 L300.5 135.6 L302 136.5 L303.5 137.3 L305 137.8 L306.5 138.2 L308 138.7 L309.5 139.1 L311 139.7 L312.5 141.4 L314 143.1 L315.5 144.8 L317 146.6 L318.5 148.4 L320 150.2 L321.5 152 L323 153.7 L324.5 155.2 L326 156.7 L327.5 158.2 L329 159.6 L330.5 161 L332 162.4 L333.5 163.7 L335 165 L336.5 166.1 L338 167.1 L339.5 168.1 L341 169.2 L342.5 171 L344 172.8 L345.5 174.6 L347 176.4 L348.5 178.2 L350 180 L351.5 181.8 L353 183.6 L354.5 185.4 L356 187.2 L357.5 188.9 L359 190.5 L360.5 192.1 L362 193.7 L363.5 195.2 L365 196.6 L366.5 198 L368 199.4 L369.5 200.7 L371 201.9 L372.5 203.1 L374 204.3 L375.5 205.4 L377 206 L378.5 206.5 L380 207 L381.5 207.6 L383 208.7 L384.5 209.8 L386 211 L387.5 212.1 L389 213.5 L390.5 215 L392 216.5 L393.5 218 L395 219.5 L396.5 220.8 L398 222.2 L399.5 223.6 L401 224.8 L402.5 225.8 L404 226.9 L405.5 227.9 L407 229.1 L408.5 230.9 L410 232.7 L411.5 234.5 L413 236.3 L414.5 238.4 L416 240.5 L417.5 242.6 L419 244.7 L420.5 247.1 L422 249.5 L423.5 251.9 L425 254.3 L426.5 256.6 L428 258.8 L429.5 261 L431 263.2 L432.5 265.4 L434 267.6 L435.5 269.8 L437 271.9 L438.5 274 L440 275.9 L441.5 277.8 L443 279.7 L444.5 281.6 L446 283.2 L447.5 284.8 L449 286.4 L450.5 288.1 L452 289.4 L453.5 290.7 L455 292 L456.5 293.3 L458 294.1 L459.5 294.9 L461 295.6 L462.5 296.3 L464 297 L465.5 297.7 L467 298.5 L468.5 299.2 L470 300.3 L471.5 301.6 L473 302.9 L474.5 304.2 L476 305.6 L477.5 307 L479 308.3 L480.5 309.7 L482 311 L483.5 312.1 L485 313.1 L486.5 314.1 L488 315.1 L489.5 315.5 L491 315.9 L492.5 316.2 L494 316.6 L495.5 315.6 L497 314.3 L498.5 313.1 L500 311.8 L501.5 311.1 L503 310.7 L504.5 310.2 L506 309.8 L507.5 310 L509 310.9 L510.5 311.7 L512 312.3 L513.5 312.8 L515 313 L516.5 313.1 L518 313.3 L519.5 313.4 L521 312.3 L522.5 311.3 L524 310.2 L525.5 307.8 L527 304.8 L528.5 301.8 L530 299 L531.5 296.2 L533 293.5 L534.5 290.8 L536 289 L537.5 287.2 L539 285.5 L540.5 284.2 L542 283.3 L543.5 282.3 L545 280.6 L546.5 278 L548 275.4 L549.5 272.7 L551 269.7 L552.5 266.7 L554 263.7 L555.5 261.3 L557 259 L558.5 256.8 L560 254.8 L561.5 253.8 L563 252.9 L564.5 251.9 L566 250.9 L567.5 249.9 L569 249 L570.5 248 L572 247 L573.5 246 L575 245.1 L576.5 244.1 L578 243.1 L579.5 242.1 L581 239.6 L582.5 237.2 L584 234.7 L585.5 232 L587 229.1 L588.5 226.3 L590 223.4 L591.5 220.6 L593 217.7 L594.5 214.9 L596 212.8 L597.5 210.7 L599 208.6 L600.5 207.2 L602 206.2 L603.5 205.3 L605 204.2 L606.5 203 L608 201.8 L609.5 200.6 L611 199.8 L612.5 199.1 L614 198.3 L615.5 197.8 L617 197.5 L618.5 197.1 L620 196.8 L621.5 196.9 L623 196.9 L624.5 197 L626 197.1 L627.5 198.1 L629 199 L630.5 199.9 L632 200.9 L633.5 203 L635 204.3 L636.5 205.2 L638 205.3 L639.5 204.4 L641 203 L642.5 203.2 L644 202 L645.5 201.9 L647 201 L648.5 198.9 L650 198.8 L651.5 198.1 L653 194.9 L654.5 194.3 L656 195.4 L657.5 193.5 L659 193 L660.5 191.6 L662 191.6 L663.5 190.6 L665 187.4 L666.5 183.2 L668 181.4 L669.5 178.1 L671 181.2 L672.5 186 L674 173.6 L675.5 173.7 L677 169.6 L678.5 163.7 L680 165.5 L681.5 158.1 L683 155.5 L684.5 154.6 L686 155.9 L687.5 151.3 L689 152.8 L690.5 150.5 L692 137.4 L693.5 135.5 L695 146 L696.5 147.7 L698 141.8 L699.5 130 L701 129.9 L702.5 127.3 L704 131.4 L705.5 136.7 L707 137.6 L708.5 134 L710 134.1 L711.5 140.1 L713 133.9 L714.5 140.6 L716 142 L717.5 143 L719 142.9 L720.5 137.7 L722 127.6 L722 189.6 L720.5 199.5 L719 204.5 L717.5 204.5 L716 203.4 L714.5 201.9 L713 195.1 L711.5 201.1 L710 195 L708.5 194.8 L707 198.2 L705.5 197.2 L704 191.7 L702.5 187.5 L701 190 L699.5 189.9 L698 201.4 L696.5 207 L695 205 L693.5 194.2 L692 195.8 L690.5 208.6 L689 210.6 L687.5 208.8 L686 213.1 L684.5 211.5 L683 212.1 L681.5 214.4 L680 221.5 L678.5 219.1 L677 224.4 L675.5 227.9 L674 227.2 L672.5 239 L671 233.6 L669.5 229.9 L668 232.6 L666.5 233.8 L665 237.4 L663.5 240 L662 240.4 L660.5 239.8 L659 240.7 L657.5 240.7 L656 242.2 L654.5 240.6 L653 240.8 L651.5 243.5 L650 243.8 L648.5 243.4 L647 245.1 L645.5 245.6 L644 245.2 L642.5 246 L641 245.3 L639.5 246.5 L638 247.9 L636.5 248.2 L635 247.8 L633.5 247 L632 245.3 L630.5 244.8 L629 244.3 L627.5 243.8 L626 243.3 L624.5 243.6 L623 244 L621.5 244.4 L620 244.8 L618.5 245.4 L617 246.1 L615.5 246.7 L614 247.5 L612.5 248.6 L611 249.6 L609.5 250.7 L608 252.2 L606.5 253.7 L605 255.2 L603.5 256.6 L602 257.8 L600.5 259.1 L599 260.7 L597.5 262.9 L596 265.2 L594.5 267.4 L593 270.4 L591.5 273.4 L590 276.4 L588.5 279.4 L587 282.4 L585.5 285.4 L584 288.3 L582.5 290.9 L581 293.5 L579.5 296.2 L578 297.5 L576.5 298.8 L575 300.1 L573.5 301.3 L572 302.6 L570.5 303.9 L569 305.2 L567.5 306.4 L566 307.7 L564.5 309 L563 310.3 L561.5 311.5 L560 312.8 L558.5 314.2 L557 315.8 L555.5 317.5 L554 319.3 L552.5 321.7 L551 324.1 L549.5 326.5 L548 328.6 L546.5 330.6 L545 332.6 L543.5 333.7 L542 334.1 L540.5 334.4 L539 334.8 L537.5 335.6 L536 336.3 L534.5 337.1 L533 338.8 L531.5 340.5 L530 342.3 L528.5 344.2 L527 346.2 L525.5 348.1 L524 349.8 L522.5 350.3 L521 350.7 L519.5 351.2 L518 350.5 L516.5 349.7 L515 349 L513.5 348.2 L512 347.1 L510.5 345.9 L509 344.9 L507.5 344 L506 343.8 L504.5 344.2 L503 344.7 L501.5 345.1 L500 345.8 L498.5 347.1 L497 348.3 L495.5 349.6 L494 350.6 L492.5 350.9 L491 351.3 L489.5 351.7 L488 352 L486.5 351.7 L485 351.4 L483.5 351.1 L482 350.8 L480.5 350.2 L479 349.5 L477.5 348.9 L476 348.2 L474.5 347.6 L473 347 L471.5 346.4 L470 345.8 L468.5 345 L467 343.9 L465.5 342.8 L464 341.6 L462.5 340.5 L461 339.3 L459.5 338.2 L458 337.1 L456.5 335.8 L455 334.1 L453.5 332.4 L452 330.6 L450.5 328.9 L449 326.8 L447.5 324.8 L446 322.8 L444.5 320.7 L443 318.8 L441.5 316.9 L440 315.1 L438.5 313.2 L437 311.2 L435.5 309.1 L434 307 L432.5 304.9 L431 302.8 L429.5 300.6 L428 298.4 L426.5 296.3 L425 294.1 L423.5 291.7 L422 289.4 L420.5 287.1 L419 284.7 L417.5 282 L416 279.2 L414.5 276.4 L413 273.7 L411.5 271.2 L410 268.7 L408.5 266.3 L407 263.8 L405.5 261.9 L404 260.3 L402.5 258.6 L401 256.9 L399.5 255 L398 253 L396.5 250.9 L395 248.9 L393.5 246.9 L392 245.1 L390.5 243.2 L389 241.3 L387.5 239.6 L386 238.1 L384.5 236.6 L383 235.1 L381.5 233.6 L380 232.7 L378.5 231.8 L377 230.9 L375.5 230 L374 228.5 L372.5 226.9 L371 225.4 L369.5 223.8 L368 222.3 L366.5 220.9 L365 219.5 L363.5 218 L362 216.5 L360.5 214.8 L359 213.1 L357.5 211.4 L356 209.7 L354.5 207.8 L353 206 L351.5 204.1 L350 202.2 L348.5 200.4 L347 198.5 L345.5 196.7 L344 194.8 L342.5 193 L341 191.2 L339.5 190.1 L338 189.1 L336.5 188.1 L335 187 L333.5 185.7 L332 184.4 L330.5 183 L329 181.6 L327.5 180.2 L326 178.7 L324.5 177.2 L323 175.7 L321.5 174 L320 172.2 L318.5 170.4 L317 168.6 L315.5 166.8 L314 165.1 L312.5 163.4 L311 161.7 L309.5 161.1 L308 160.7 L306.5 160.2 L305 159.8 L303.5 159.3 L302 158.5 L300.5 157.6 L299 156.7 L297.5 155.8 L296 154.5 L294.5 153.1 L293 151.7 L291.5 150.4 L290 148.9 L288.5 147.4 L287 145.9 L285.5 144.4 L284 142.9 L282.5 141.4 L281 140 L279.5 138.6 L278 137.3 L276.5 136.3 L275 135.4 L273.5 134.4 L272 133.5 L270.5 133.1 L269 132.7 L267.5 132.3 L266 131.9 L264.5 131.1 L263 130.3 L261.5 129.4 L260 128.6 L258.5 127.6 L257 126.5 L255.5 125.3 L254 124.2 L252.5 123.3 L251 122.7 L249.5 122 L248 121.4 L246.5 121 L245 121 L243.5 121.1 L242 121.2 L242 121.5 L230.8 127.1 L218.9 115.2 L206 107.7 L192.1 100.2 L177 112.7 L160.5 107.7 L142.2 126.5Z" fill="#f2b3bc" fill-opacity="0.45" stroke="none"/>
<path class="ln" d="M141.8 104.2 L142.3 103.5 L142.9 102.6 L143.7 101.5 L144.5 100.3 L145.4 99.1 L146.3 97.8 L147.2 96.7 L148 95.7 L148.9 94.6 L149.8 93.5 L150.7 92.5 L151.6 91.5 L152.5 90.6 L153.4 89.8 L154.3 89.1 L155.6 88.4 L156.9 87.8 L158.2 87.4 L159.4 87.1 L160.6 86.9 L161.9 86.8 L163.1 86.8 L164.3 87 L165.6 87.4 L166.7 87.8 L168 88.4 L169.3 89 L170.6 89.6 L171.8 90.1 L173.1 90.6 L174.3 91 L175.6 91.4 L176.8 91.8 L178.1 92.2 L179.4 92.6 L180.6 93.1 L181.9 93.5 L183.1 93.9 L184.4 94.2 L185.6 94.2 L186.9 94.2 L188.1 94.1 L189.4 94 L190.6 93.9 L191.9 93.9 L193.1 93.9 L194.4 94 L195.6 94.1 L196.9 94.2 L198.1 94.3 L199.4 94.5 L200.6 94.6 L201.9 94.9 L203.2 95.2 L204.4 95.5 L205.7 95.8 L206.9 96.2 L208.2 96.6 L209.4 97.2 L210.7 97.8 L211.9 98.4 L213.2 99.1 L214.4 99.9 L215.7 100.7 L216.7 101.3 L217.8 102.1 L218.8 102.8 L219.9 103.5 L220.9 104.2 L221.9 104.9 L223 105.6 L224 106.3 L225.1 107 L226.1 107.7 L227.2 108.2 L228.2 108.7 L229.5 109.1 L230.7 109.3 L232 109.4 L233.2 109.5 L234.5 109.4 L235.7 109.3 L237 109 L238.2 108.7 L239.5 108.4 L240.7 108.2 L242 108.1 L243.2 107.9 L244.5 107.9 L245.7 108 L247 108.2 L248.2 108.6 L249.5 109.1 L250.7 109.7 L252 110.4 L253.3 111.2 L254.3 111.9 L255.3 112.8 L256.4 113.6 L257.4 114.5 L258.5 115.4 L259.5 116.2 L260.6 116.9 L261.6 117.6 L262.6 118.3 L263.7 118.9 L264.7 119.4 L265.8 120 L267 120.4 L268.3 120.8 L269.5 121.1 L270.8 121.4 L272 122 L273.1 122.5 L274.1 123.1 L275.2 123.8 L276.2 124.6 L277.3 125.4 L278.3 126.2 L279.2 127 L280.1 127.9 L281 128.8 L281.9 129.7 L282.8 130.6 L283.7 131.6 L284.6 132.5 L285.5 133.4 L286.4 134.3 L287.2 135.2 L288.1 136.1 L289 137 L289.9 137.9 L290.8 138.7 L291.7 139.6 L292.6 140.5 L293.5 141.4 L294.4 142.2 L295.3 143 L296.2 143.8 L297.1 144.5 L298.1 145.3 L299.1 146 L300.1 146.6 L301.2 147.2 L302.2 147.7 L303.4 148.3 L304.6 148.7 L305.9 149 L307.2 149.3 L308.5 149.6 L309.7 150 L310.9 150.5 L311.8 151.3 L312.7 152.1 L313.4 153.1 L314.2 154.1 L315 155.2 L315.9 156.3 L316.6 157.1 L317.4 158.1 L318.1 159 L318.9 160 L319.7 161 L320.5 162 L321.3 162.9 L322.1 163.8 L323 164.8 L323.9 165.7 L324.8 166.6 L325.7 167.5 L326.6 168.3 L327.5 169.2 L328.4 170.1 L329.3 170.9 L330.2 171.8 L331.1 172.6 L332 173.5 L332.9 174.3 L333.8 175.1 L334.7 175.8 L335.7 176.6 L336.9 177.4 L338 178.1 L339.1 178.8 L340.1 179.4 L340.9 180.1 L341.8 181 L342.5 181.7 L343.1 182.6 L344 183.8 L344.6 184.6 L345.3 185.4 L346.1 186.3 L346.9 187.3 L347.8 188.3 L348.6 189.3 L349.5 190.3 L350.3 191.3 L351 192.3 L351.8 193.2 L352.6 194.2 L353.4 195.1 L354.2 196.1 L355 197 L355.7 197.9 L356.5 198.8 L357.4 199.8 L358.3 200.8 L359.2 201.8 L360.1 202.8 L361 203.8 L361.9 204.7 L362.8 205.6 L363.7 206.5 L364.6 207.3 L365.5 208.1 L366.4 208.9 L367.3 209.7 L368.2 210.5 L369.1 211.4 L369.9 212.2 L370.8 213.1 L371.7 214 L372.6 214.8 L373.5 215.7 L374.4 216.4 L375.3 217.1 L376.6 217.9 L377.8 218.4 L379.1 218.9 L380.3 219.4 L381.6 220.1 L382.6 220.9 L383.7 221.7 L384.7 222.6 L385.8 223.6 L386.8 224.6 L387.8 225.6 L388.7 226.6 L389.6 227.5 L390.5 228.5 L391.4 229.6 L392.3 230.6 L393.2 231.6 L394.1 232.6 L395 233.7 L395.9 234.7 L396.8 235.7 L397.7 236.8 L398.6 237.8 L399.5 238.7 L400.4 239.7 L401.4 240.6 L402.5 241.5 L403.5 242.3 L404.5 243.1 L405.6 244.1 L406.6 245.2 L407.4 246.1 L408.2 247.1 L409 248.2 L409.8 249.3 L410.5 250.4 L411.3 251.6 L412.1 252.8 L412.9 253.9 L413.6 255 L414.3 256.1 L415 257.2 L415.7 258.3 L416.4 259.4 L417.1 260.6 L417.8 261.7 L418.5 262.8 L419.2 264 L419.8 265.1 L420.5 266.2 L421.2 267.3 L421.9 268.5 L422.6 269.6 L423.3 270.7 L424 271.8 L424.7 272.9 L425.4 274 L426.1 275 L426.8 276.1 L427.5 277.1 L428.2 278.2 L428.9 279.2 L429.6 280.2 L430.3 281.2 L431 282.2 L431.7 283.2 L432.4 284.3 L433.1 285.3 L433.8 286.3 L434.5 287.3 L435.2 288.3 L435.9 289.3 L436.5 290.3 L437.2 291.3 L437.9 292.3 L438.7 293.3 L439.5 294.4 L440.3 295.4 L441.1 296.4 L441.9 297.4 L442.6 298.3 L443.4 299.3 L444.2 300.3 L445 301.3 L445.8 302.2 L446.5 303.2 L447.3 304.1 L448.1 305.1 L448.9 306 L449.7 306.9 L450.5 307.8 L451.4 308.8 L452.3 309.7 L453.1 310.7 L454 311.6 L454.9 312.5 L455.8 313.3 L456.7 314.1 L457.8 314.8 L458.8 315.5 L459.9 316.1 L460.9 316.7 L461.9 317.2 L463 317.8 L464 318.4 L465.1 319 L466.1 319.7 L467.2 320.3 L468.2 320.9 L469.3 321.6 L470.3 322.3 L471.3 322.9 L472.4 323.7 L473.4 324.4 L474.5 325.1 L475.5 325.8 L476.6 326.6 L477.6 327.4 L478.6 328.2 L479.7 328.9 L480.7 329.7 L481.8 330.3 L483 331.1 L484.3 331.8 L485.5 332.4 L486.8 332.9 L488 333.3 L489.3 333.7 L490.5 333.9 L491.8 334 L493 333.9 L494.3 333.6 L495.3 333 L496.4 332.1 L497.4 331.1 L498.5 330 L499.5 329.1 L500.6 328.3 L501.8 327.7 L503.1 327.1 L504.3 326.7 L505.6 326.5 L506.8 326.6 L507.9 326.9 L508.9 327.5 L510 328.2 L511 329 L512 329.8 L513.1 330.3 L514.4 330.9 L515.7 331.5 L516.9 332 L518.2 332.3 L519.4 332.3 L520.7 332.2 L521.9 331.7 L523.1 331 L524.4 329.8 L525 329.1 L525.6 328.2 L526.2 327.1 L526.9 326 L527.5 324.9 L528.1 323.7 L528.7 322.6 L529.4 321.6 L530.1 320.4 L530.8 319.3 L531.5 318.1 L532.2 317 L532.9 315.9 L533.7 315 L534.4 314.1 L535.4 313 L536.4 312 L537.4 311.2 L538.4 310.5 L539.4 309.8 L540.6 309.3 L541.9 309 L543.1 308.6 L544.4 307.8 L545.1 307 L545.8 306.1 L546.5 305 L547.3 303.9 L548 302.7 L548.7 301.5 L549.4 300.3 L550 299.2 L550.7 298.1 L551.3 297 L551.9 295.8 L552.5 294.7 L553.2 293.6 L553.8 292.5 L554.4 291.5 L555.3 290.3 L556.1 289.1 L556.9 288.1 L557.8 287.1 L558.6 286.1 L559.4 285.3 L560.4 284.3 L561.4 283.6 L562.4 282.9 L563.4 282.2 L564.4 281.5 L565.4 280.7 L566.4 280 L567.4 279.2 L568.4 278.5 L569.5 277.7 L570.5 277 L571.5 276.2 L572.5 275.5 L573.5 274.7 L574.5 274 L575.5 273.3 L576.5 272.7 L577.5 272.1 L578.5 271.3 L579.5 270.2 L580.1 269.4 L580.7 268.4 L581.3 267.4 L582 266.2 L582.6 265.1 L583.2 263.9 L583.9 262.6 L584.5 261.5 L585 260.4 L585.6 259.3 L586.2 258.2 L586.7 257.1 L587.3 256 L587.8 254.8 L588.4 253.7 L588.9 252.6 L589.5 251.4 L590 250.3 L590.6 249.2 L591.2 248 L591.7 246.8 L592.3 245.7 L592.8 244.6 L593.4 243.5 L593.9 242.4 L594.5 241.4 L595.2 240.2 L595.9 239 L596.6 237.8 L597.4 236.7 L598.1 235.7 L598.8 234.8 L599.5 233.9 L600.5 232.9 L601.5 232.2 L602.5 231.5 L603.5 230.9 L604.5 230.1 L605.5 229.3 L606.5 228.3 L607.5 227.4 L608.5 226.4 L609.5 225.6 L610.8 224.7 L612 224 L613.3 223.3 L614.5 222.6 L615.8 222.1 L617 221.6 L618.2 221.2 L619.6 220.9 L620.8 220.6 L622.3 220.5 L623.7 220.3 L624.9 220.2 L625.8 220.1 L632.1 223.1 L633.7 225.3 L636.2 226.8 L638.7 226.5 L640.6 224 L642.5 224.6 L644.3 223.4 L646.2 224 L648.7 220.9 L650 221.3 L650.5 222.1 L651 221.2 L651.5 220.8 L652 220 L652.5 218.2 L653 217.8 L653.5 219.1 L654 217.8 L654.5 217.4 L655 218.8 L655.5 217.8 L656 218.8 L656.5 218.2 L657 218.6 L657.5 217.1 L658 217.8 L658.5 218 L659 216.8 L659.5 217.1 L660 217.1 L660.5 215.7 L661 217.7 L661.5 217.2 L662 216 L662.5 214.9 L663 216.8 L663.5 215.3 L664 215.2 L664.5 214.3 L665 212.4 L665.5 211.6 L666 208.6 L666.5 208.5 L667 206.2 L667.5 207.5 L668 207 L668.5 204 L669 203.9 L669.5 204 L670 206.4 L670.5 204.4 L671 207.4 L671.5 209.5 L672 213.5 L672.5 212.5 L673 207.4 L673.5 203.3 L674 200.4 L674.5 201.3 L675 200.1 L675.5 200.8 L676 199.7 L676.5 199.3 L677 197 L677.5 193.8 L678 193.9 L678.5 191.4 L679 190.3 L679.5 190.8 L680 193.5 L680.5 189.1 L681 189.4 L681.5 186.2 L682 183.6 L682.5 181.3 L683 183.8 L683.5 183.3 L684 178.6 L684.5 183 L685 182.1 L685.5 182.3 L686 184.5 L686.5 187.1 L687 186 L687.5 180.1 L688 181.9 L688.5 178.5 L689 181.7 L689.5 179 L690 180.5 L690.5 179.5 L691 175.4 L691.5 174.5 L692 166.6 L692.5 161.3 L693 165.8 L693.5 164.8 L694 168.1 L694.5 171.8 L695 175.5 L695.5 173.1 L696 172.4 L696.5 177.4 L697 174 L697.5 178 L698 171.6 L698.5 161.4 L699 157.9 L699.5 160 L700 162.5 L700.5 162.4 L701 159.9 L701.5 158 L702 158.1 L702.5 157.3 L703 158.8 L703.5 162.7 L704 161.4 L704.5 163 L705 168.6 L705.5 166.7 L706 167.5 L706.5 164.6 L707 167.6 L707.5 167 L708 161.8 L708.5 164 L709 162.5 L709.5 157.5 L710 164.1 L710.5 166.1 L711 170.4 L711.5 170.1 L712 171 L712.5 169.9 L713 163.9 L713.5 163.8 L714 168.3 L714.5 170.6 L715 166.6 L715.5 169.4 L716 172 L716.5 171.7 L717 172.6 L717.5 173 L718 174 L718.5 175.4 L719 172.9 L719.5 172.7 L720 174.5 L720.5 167.7 L721 168.7 L721.5 164.8 L722 157.6" stroke="#e03c4e" stroke-width="2.3"/>
</g>
<path class="ax" d="M132.6 26.4 V413.1 H722.1 M132.6 26.4 h6.9 M132.6 65 h2.7 M132.6 103.7 h6.9 M132.6 142.4 h2.7 M132.6 181 h6.9 M132.6 219.7 h2.7 M132.6 258.4 h6.9 M132.6 297 h2.7 M132.6 335.7 h6.9 M132.6 374.4 h2.7 M203.3 413.1 v-2.8 M253.1 413.1 v-2.8 M291.7 413.1 v-2.8 M323.3 413.1 v-2.8 M350 413.1 v-2.8 M373.2 413.1 v-2.8 M393.6 413.1 v-2.8 M411.8 413.1 v-6.9 M531.9 413.1 v-2.8 M602.1 413.1 v-2.8 M651.9 413.1 v-2.8 M690.5 413.1 v-2.8 M722.1 413.1 v-2.8"/>
<text class="tk" transform="translate(122.5 35) scale(1 1.06)" text-anchor="end">1.0</text>
<text class="tk" transform="translate(122.5 112.3) scale(1 1.06)" text-anchor="end">0.8</text>
<text class="tk" transform="translate(122.5 189.6) scale(1 1.06)" text-anchor="end">0.6</text>
<text class="tk" transform="translate(122.5 267) scale(1 1.06)" text-anchor="end">0.4</text>
<text class="tk" transform="translate(122.5 344.3) scale(1 1.06)" text-anchor="end">0.2</text>
<text class="tk" transform="translate(122.5 421.7) scale(1 1.06)" text-anchor="end">0.0</text>
<text class="tk" transform="translate(412.2 442.9) scale(1 1.06)" text-anchor="middle">1000</text>
<text class="al" x="404.5" y="482" text-anchor="middle">Frequency (Hz)</text>
<text class="al" transform="translate(53.3 220.5) rotate(-90)" text-anchor="middle">Energy reflectance</text>
<text class="pl" x="6" y="30">A</text>
</g>
<g id="panel-B">
<clipPath id="clipB"><rect x="131.3" y="551.9" width="592.9" height="386.8"/></clipPath>
<g clip-path="url(#clipB)">
<path d="M140.5 893.7 L158.9 911.2 L175.4 908.1 L190.7 976.4 L204.6 877 L217.6 922.5 L229.6 898.7 L240.8 874.9 L240.8 875.7 L242.3 874.1 L243.8 873.7 L245.3 873.3 L246.8 873 L248.3 872.6 L249.8 872.2 L251.3 871.1 L252.8 869.8 L254.4 868.5 L255.9 867.2 L257.4 865.9 L258.9 864.6 L260.4 863.3 L261.9 861 L263.4 858.4 L264.9 855.8 L266.4 854.1 L267.9 853.2 L269.4 852.2 L270.9 853 L272.4 855.9 L273.9 860.3 L275.5 864.6 L277 868.3 L278.5 871.7 L280 872.9 L281.5 870.6 L283 866.7 L284.5 862.7 L286 858.7 L287.5 854.7 L289 852.8 L290.5 851.7 L292 850.5 L293.5 849.4 L295 848.4 L296.6 847.4 L298.1 846.4 L299.6 845.4 L301.1 844.7 L302.6 843.9 L304.1 843.9 L305.6 845 L307.1 846.4 L308.6 847.7 L310.1 847.7 L311.6 847.1 L313.1 844 L314.6 840.7 L316.1 837.3 L317.7 833.9 L319.2 830.8 L320.7 828.7 L322.2 826.6 L323.7 824.5 L325.2 822.4 L326.7 820.3 L328.2 818.3 L329.7 816.6 L331.2 814.9 L332.7 813.3 L334.2 811.6 L335.7 811.4 L337.2 811.6 L338.8 812.6 L340.3 814.1 L341.8 816 L343.3 816.7 L344.8 815.2 L346.3 812.4 L347.8 808.9 L349.3 806.8 L350.8 804.3 L352.3 801.6 L353.8 798.9 L355.3 796.2 L356.8 794.7 L358.3 794 L359.9 793.2 L361.4 792.6 L362.9 792.4 L364.4 792.2 L365.9 792 L367.4 788.9 L368.9 785.8 L370.4 782.6 L371.9 780.8 L373.4 779.8 L374.9 778.9 L376.4 778.3 L377.9 777.7 L379.4 777.1 L381 776.5 L382.5 774.1 L384 771.7 L385.5 769.3 L387 766.9 L388.5 764.5 L390 762.1 L391.5 759.7 L393 757.3 L394.5 755.3 L396 753.5 L397.5 751.7 L399 749.9 L400.5 748.4 L402.1 747.2 L403.6 746.1 L405.1 744.9 L406.6 743.6 L408.1 741.8 L409.6 740 L411.1 738.3 L412.6 736.5 L414.1 734.8 L415.6 733 L417.1 731.2 L418.6 729.5 L420.1 727.4 L421.6 725.4 L423.2 723.3 L424.7 721.2 L426.2 719.6 L427.7 718.2 L429.2 716.7 L430.7 715.2 L432.2 714.1 L433.7 713.2 L435.2 712.4 L436.7 711.5 L438.2 710.4 L439.7 708.8 L441.2 707.2 L442.7 705.6 L444.3 704.2 L445.8 704 L447.3 703.9 L448.8 703.7 L450.3 703.5 L451.8 703.9 L453.3 704.4 L454.8 704.8 L456.3 705.2 L457.8 707.2 L459.3 709.4 L460.8 707 L462.3 703.6 L463.8 700.3 L465.4 698.8 L466.9 697.7 L468.4 696.6 L469.9 695.7 L471.4 695.1 L472.9 694.5 L474.4 693.9 L475.9 693.2 L477.4 692.3 L478.9 691.4 L480.4 690.5 L481.9 689.5 L483.4 688.3 L484.9 687.1 L486.5 685.9 L488 684.7 L489.5 684.4 L491 684.1 L492.5 683.8 L494 683.5 L495.5 682.7 L497 681.8 L498.5 680.9 L500 680 L501.5 679 L503 677.8 L504.5 676.6 L506 675.4 L507.6 674 L509.1 672.5 L510.6 671 L512.1 669.5 L513.6 668 L515.1 666.7 L516.6 665.3 L518.1 663.9 L519.6 662.6 L521.1 662 L522.6 661.5 L524.1 661 L525.6 660.6 L527.1 660.2 L528.7 659.8 L530.2 659.4 L531.7 659.1 L533.2 658.7 L534.7 658.3 L536.2 658 L537.7 657.6 L539.2 657.3 L540.7 657 L542.2 656.8 L543.7 656.5 L545.2 656.2 L546.7 655.7 L548.2 654.9 L549.8 654.1 L551.3 653.4 L552.8 652.8 L554.3 652.3 L555.8 651.8 L557.3 651.3 L558.8 650.9 L560.3 650.6 L561.8 650.4 L563.3 651.3 L564.8 652.7 L566.3 654.2 L567.8 656.2 L569.3 658.1 L570.9 660.1 L572.4 662.1 L573.9 664.1 L575.4 666.2 L576.9 668.2 L578.4 670.2 L579.9 672.2 L581.4 674.3 L582.9 676.3 L584.4 678.3 L585.9 680.4 L587.4 682.4 L588.9 684.3 L590.4 685.7 L592 687.1 L593.5 688.6 L595 690 L596.5 691.4 L598 692.8 L599.5 694.3 L601 695.7 L602.5 696.3 L604 696.8 L605.5 697.2 L607 697.6 L608.5 697.9 L610 698 L611.5 698.2 L613.1 698.4 L614.6 698.2 L616.1 697.6 L617.6 697 L619.1 696.4 L620.6 696 L622.1 696 L623.6 696 L625.1 696 L626.6 695.9 L628.1 695 L629.6 694.1 L631.1 693.2 L632.6 692.3 L634.2 691.7 L635.7 691.1 L637.2 690.5 L638.7 689.9 L640.2 690.4 L641.7 691.4 L643.2 692.3 L644.7 693.3 L646.2 694 L647.7 694.6 L649.2 695.2 L650.7 695.7 L652.2 696 L653.7 695.9 L655.3 695.8 L656.8 695.7 L658.3 695.3 L659.8 694 L661.3 692.8 L662.8 691.5 L664.3 690.4 L665.8 690.9 L667.3 691.4 L668.8 691.9 L670.3 692.4 L671.8 693.5 L673.3 694.7 L674.8 695.8 L676.4 697 L677.9 699.2 L679.4 701.8 L680.9 704.4 L682.4 707 L683.9 709.6 L685.4 712.2 L686.9 714.7 L688.4 717.3 L689.9 720 L691.4 723.1 L692.9 726.2 L694.4 726.9 L695.9 727.2 L697.5 728 L699 727.3 L700.5 726.6 L702 726.2 L703.5 724.9 L705 723 L706.5 721.4 L708 719.6 L709.5 720 L711 721 L712.5 722.5 L714 723.3 L715.5 722.8 L717 722.9 L718.6 722 L720.1 722.5 L721.6 721.6 L723.1 722.6 L723.3 722.3 L723.3 680.3 L723.1 680.6 L721.6 679.8 L720.1 680.8 L718.6 680.5 L717 681.5 L715.5 681.5 L714 682.2 L712.5 681.5 L711 680.1 L709.5 679.2 L708 679 L706.5 680.9 L705 682.6 L703.5 684.6 L702 686.1 L700.5 686.7 L699 687.7 L697.5 688.7 L695.9 688.2 L694.4 688.2 L692.9 687.8 L691.4 685 L689.9 682.2 L688.4 679.8 L686.9 677.5 L685.4 675.3 L683.9 673 L682.4 670.7 L680.9 668.3 L679.4 665.9 L677.9 663.5 L676.4 661.5 L674.8 660.6 L673.3 659.6 L671.8 658.6 L670.3 657.7 L668.8 657.4 L667.3 657.1 L665.8 656.8 L664.3 656.5 L662.8 657.8 L661.3 659.2 L659.8 660.7 L658.3 662.1 L656.8 662.7 L655.3 663 L653.7 663.2 L652.2 663.5 L650.7 663.5 L649.2 663.1 L647.7 662.7 L646.2 662.4 L644.7 661.8 L643.2 661 L641.7 660.2 L640.2 659.4 L638.7 658.9 L637.2 659.5 L635.7 660.2 L634.2 660.8 L632.6 661.5 L631.1 662.4 L629.6 663.3 L628.1 664.3 L626.6 665.2 L625.1 665.4 L623.6 665.4 L622.1 665.4 L620.6 665.5 L619.1 665.9 L617.6 666.6 L616.1 667.2 L614.6 667.9 L613.1 668.1 L611.5 667.9 L610 667.8 L608.5 667.7 L607 667.4 L605.5 667 L604 666.7 L602.5 666.3 L601 665.7 L599.5 664.2 L598 662.6 L596.5 661 L595 659.4 L593.5 657.9 L592 656.3 L590.4 654.7 L588.9 653.1 L587.4 651.1 L585.9 648.9 L584.4 646.7 L582.9 644.5 L581.4 642.4 L579.9 640.2 L578.4 638 L576.9 635.8 L575.4 633.7 L573.9 631.5 L572.4 629.3 L570.9 627.1 L569.3 625 L567.8 622.9 L566.3 620.8 L564.8 619.2 L563.3 617.6 L561.8 616.5 L560.3 616.6 L558.8 616.5 L557.3 616.4 L555.8 616.5 L554.3 616.6 L552.8 616.7 L551.3 616.8 L549.8 617.1 L548.2 617.5 L546.7 617.9 L545.2 618.5 L543.7 619.3 L542.2 620 L540.7 620.7 L539.2 621.4 L537.7 622.2 L536.2 623 L534.7 623.9 L533.2 624.7 L531.7 625.5 L530.2 626.4 L528.7 627.2 L527.1 628 L525.6 628.9 L524.1 629.8 L522.6 630.8 L521.1 631.7 L519.6 632.6 L518.1 633.9 L516.6 635.3 L515.1 636.7 L513.6 638 L512.1 639.5 L510.6 641 L509.1 642.5 L507.6 644 L506 645.3 L504.5 646.5 L503 647.7 L501.5 648.9 L500 650 L498.5 650.9 L497 651.8 L495.5 652.7 L494 653.5 L492.5 653.8 L491 654.1 L489.5 654.4 L488 654.7 L486.5 655.9 L484.9 657.1 L483.4 658.3 L481.9 659.5 L480.4 660.5 L478.9 661.4 L477.4 662.3 L475.9 663.3 L474.4 664 L472.9 664.7 L471.4 665.3 L469.9 665.9 L468.4 666.8 L466.9 668 L465.4 669.2 L463.8 670.7 L462.3 674 L460.8 677.4 L459.3 679.9 L457.8 677.7 L456.3 675.8 L454.8 675.4 L453.3 675 L451.8 674.6 L450.3 674.2 L448.8 674.4 L447.3 674.7 L445.8 674.9 L444.3 675.1 L442.7 676.5 L441.2 678.1 L439.7 679.8 L438.2 681.4 L436.7 682.6 L435.2 683.5 L433.7 684.4 L432.2 685.3 L430.7 686.4 L429.2 688 L427.7 689.5 L426.2 691 L424.7 692.6 L423.2 694.7 L421.6 696.8 L420.1 698.9 L418.6 701 L417.1 702.8 L415.6 704.6 L414.1 706.4 L412.6 708.2 L411.1 710 L409.6 711.8 L408.1 713.6 L406.6 715.4 L405.1 716.7 L403.6 717.9 L402.1 719.1 L400.5 720.3 L399 721.9 L397.5 723.7 L396 725.5 L394.5 727.3 L393 729.3 L391.5 731.7 L390 734.1 L388.5 736.5 L387 738.9 L385.5 741.3 L384 743.7 L382.5 746.1 L381 748.4 L379.4 749 L377.9 749.6 L376.4 750.2 L374.9 750.8 L373.4 751.8 L371.9 752.8 L370.4 754.6 L368.9 757.7 L367.4 760.9 L365.9 764 L364.4 764.2 L362.9 764.4 L361.4 764.6 L359.9 765.2 L358.3 766 L356.8 766.7 L355.3 768.2 L353.8 770.9 L352.3 773.6 L350.8 776.3 L349.3 778.8 L347.8 780.9 L346.3 784.4 L344.8 787.2 L343.3 788.7 L341.8 788 L340.3 786.1 L338.8 784.6 L337.2 783.6 L335.7 783.4 L334.2 783.6 L332.7 785.3 L331.2 786.9 L329.7 788.6 L328.2 790.3 L326.7 792.3 L325.2 794.4 L323.7 796.5 L322.2 798.6 L320.7 800.7 L319.2 802.8 L317.7 805.2 L316.1 807.5 L314.6 809.9 L313.1 812.2 L311.6 814.2 L310.1 815.6 L308.6 816.6 L307.1 816.3 L305.6 815.9 L304.1 815.9 L302.6 815.9 L301.1 816.7 L299.6 817.4 L298.1 818.3 L296.6 819.4 L295 820.4 L293.5 821.4 L292 822.5 L290.5 823.7 L289 824.8 L287.5 825.9 L286 828.1 L284.5 830.4 L283 832.6 L281.5 834.7 L280 835.3 L278.5 834.2 L277 831.5 L275.5 828.5 L273.9 824.8 L272.4 821.2 L270.9 818.9 L269.4 818.4 L267.9 819.4 L266.4 820.5 L264.9 822.5 L263.4 825.2 L261.9 827.9 L260.4 830.4 L258.9 831.9 L257.4 833.3 L255.9 834.8 L254.4 836.2 L252.8 837.7 L251.3 839.1 L249.8 837.7 L248.3 835.4 L246.8 833.2 L245.3 831 L243.8 828.9 L242.3 826.7 L240.8 825.7 L240.8 824.2 L229.6 838.6 L217.6 852.3 L204.6 842.9 L190.7 853 L175.4 846.1 L158.9 857.4 L140.5 828.5Z" fill="#d7dee0" fill-opacity="0.45" stroke="none"/>
<path class="ln" d="M140 860 L140.4 860.6 L140.9 861.4 L141.4 862.4 L142.1 863.5 L142.8 864.7 L143.5 865.9 L144.3 867.1 L145 868.3 L145.6 869.3 L146.3 870.3 L146.9 871.4 L147.6 872.4 L148.3 873.5 L149 874.6 L149.7 875.7 L150.4 876.6 L151 877.5 L151.7 878.3 L152.9 879.5 L154 880.4 L155.2 881.3 L156.3 882 L157.4 882.5 L158.4 883 L159.8 883.3 L161 883.3 L162.2 883.1 L163.5 883 L164.7 882.8 L165.9 882.6 L167.1 882.4 L168.5 882.5 L169.7 882.7 L171 883 L172.4 883.4 L173.8 884.1 L175.2 885 L176 885.8 L176.9 886.7 L177.8 887.8 L178.7 889 L179.6 890.1 L180.4 891.3 L181.2 892.4 L181.9 893.3 L182.8 894.7 L183.5 896 L184.1 897.2 L184.7 898.3 L185.2 899.2 L186.5 900.6 L187.8 901.3 L189 901.4 L190.3 900.8 L191 900.2 L191.8 899.2 L192.8 897.5 L193.2 896.6 L193.7 895.6 L194.3 894.5 L194.8 893.2 L195.4 892 L195.9 890.7 L196.5 889.5 L197 888.3 L197.5 887 L198 885.7 L198.5 884.4 L199 883.2 L199.4 882 L199.9 880.9 L200.3 880 L201.2 878.4 L202 877.4 L202.8 876.6 L204.5 876.2 L206.2 876.3 L207.3 876.4 L208.7 877.5 L209.3 878.3 L210 879.3 L210.7 880.5 L211.5 881.8 L212.3 883 L213 884.1 L213.7 885 L215.2 886.3 L216.6 886.9 L217.9 887.2 L219.1 887 L220.1 886.4 L221.3 885.3 L221.9 884.6 L222.6 883.6 L223.4 882.6 L224.1 881.5 L224.8 880.3 L225.5 879.2 L226 878 L226.6 876.9 L227.1 875.7 L227.6 874.5 L228.2 873.2 L228.8 871.6 L229.2 870.6 L229.7 869.5 L230.2 868.4 L230.7 867.2 L231.2 865.9 L231.7 864.7 L232.3 863.4 L232.8 862.2 L233.3 861.1 L233.8 860 L234.5 858.6 L235.1 857.3 L235.8 856 L236.5 854.8 L237.1 853.6 L237.7 852.5 L238.3 851.6 L238.9 850.8 L240.1 849.5 L241.2 849.1 L242.2 849 L243.8 849.2 L245.6 850 L246.7 850.4 L248 851.1 L249.3 851.5 L250.6 851.6 L251.6 851.3 L252.6 850.7 L253.6 849.9 L254.6 849 L255.6 848.3 L256.6 847.7 L257.6 847.2 L258.6 846.6 L259.6 845.9 L260.6 845 L261.4 844 L262.1 842.9 L262.8 841.7 L263.6 840.5 L264.3 839.3 L265 838.2 L265.7 837.4 L267.2 836.3 L268.6 835.8 L269.9 835.8 L271.2 836.5 L272.4 838.3 L272.9 839.2 L273.4 840.3 L274 841.5 L274.6 842.7 L275.2 843.9 L275.7 845 L276.6 846.4 L277.5 847.8 L278.3 848.9 L279.1 849.6 L280.4 849.6 L281.6 848.6 L282.4 847.6 L283.2 846.4 L284.1 845 L284.7 844 L285.2 843 L285.8 842 L286.6 841 L287.5 839.9 L288.4 839.1 L289.5 838.2 L290.7 837.3 L291.9 836.5 L293.1 835.7 L294.2 834.9 L295.3 834.1 L296.4 833.4 L297.4 832.7 L298.3 832.1 L299.2 831.6 L300.4 830.9 L301.5 830.3 L302.5 829.9 L304.3 829.8 L305.9 829.9 L307.2 830.5 L308.4 830.8 L309.7 830.2 L310.9 829.1 L311.6 828.3 L312.3 827.4 L313.4 825.8 L313.9 825 L314.5 824.2 L315 823.2 L315.7 822.2 L316.3 821.2 L317 820.1 L317.8 818.9 L318.5 817.8 L319.3 816.6 L320 815.6 L320.7 814.6 L321.4 813.5 L322.2 812.4 L323 811.2 L323.8 810.1 L324.6 809 L325.4 807.9 L326.2 806.8 L327 805.8 L327.7 804.9 L328.6 803.7 L329.6 802.6 L330.5 801.5 L331.4 800.4 L332.2 799.5 L333 798.7 L333.8 798 L334.4 797.4 L335.9 796.8 L336.9 797.4 L338.1 798 L339.4 799.1 L340.2 800.1 L341.1 801.4 L342 802.6 L342.8 803.2 L344.1 802.6 L345.3 800.7 L345.8 799.7 L346.3 798.5 L346.8 797.2 L347.3 795.9 L347.8 794.9 L348.4 794 L349.6 792.5 L350 791.7 L350.6 790.7 L351.2 789.5 L351.8 788.2 L352.5 786.9 L353.2 785.5 L353.9 784.2 L354.6 783 L355.3 782 L355.9 781.2 L357.2 779.9 L358.5 779.3 L359.7 779 L360.9 778.7 L362.2 778.6 L363.4 778.8 L364.7 778.8 L365.9 778 L366.5 777.2 L367.1 776.1 L367.7 774.9 L368.2 773.5 L368.8 772.1 L369.4 770.7 L369.9 769.4 L370.5 768.3 L371 767.4 L372.2 766 L373.3 765.5 L374.7 764.9 L375.8 764.5 L377.1 764.3 L378.4 764 L379.7 763.4 L381 762.4 L381.7 761.6 L382.4 760.7 L383.1 759.6 L383.8 758.5 L384.5 757.3 L385.2 756 L385.9 754.8 L386.6 753.6 L387.3 752.4 L388 751.3 L388.7 750.1 L389.4 749 L390.1 747.8 L390.8 746.7 L391.5 745.5 L392.2 744.4 L392.9 743.4 L393.6 742.4 L394.4 741.3 L395.2 740.3 L396 739.3 L396.8 738.3 L397.5 737.4 L398.3 736.5 L399.1 735.7 L399.9 734.9 L401 733.9 L402 733.1 L403.1 732.4 L404.1 731.6 L405.2 730.8 L406.2 729.8 L407 729 L407.8 728.1 L408.6 727.2 L409.3 726.2 L410.1 725.3 L410.9 724.3 L411.7 723.3 L412.5 722.3 L413.3 721.4 L414.1 720.5 L414.9 719.6 L415.6 718.6 L416.4 717.7 L417.2 716.8 L418 715.8 L418.8 714.8 L419.6 713.8 L420.4 712.6 L421.1 711.5 L421.9 710.3 L422.7 709.2 L423.5 708.1 L424.3 707 L425.1 706 L426 705 L426.9 704 L427.8 703.1 L428.7 702.2 L429.6 701.3 L430.5 700.5 L431.4 699.8 L432.4 699 L433.5 698.5 L434.5 697.9 L435.6 697.4 L436.6 696.8 L437.7 696 L438.6 695.2 L439.5 694.1 L440.4 693 L441.3 691.9 L442.2 690.8 L443.1 689.9 L444 689.3 L445.2 688.7 L446.5 688.4 L447.7 688.3 L449 688.4 L450.2 688.5 L451.6 688.6 L452.9 688.9 L454.3 689.2 L455.5 689.7 L456.5 690.3 L457.5 691.5 L458.2 693.2 L458.8 694.6 L459.6 694.8 L460 694.3 L460.5 693.4 L460.9 692.3 L461.4 691 L462 689.6 L462.5 688.2 L463 686.8 L463.6 685.7 L464.1 684.7 L465 683.6 L466 682.7 L467 682.1 L468 681.6 L469.1 681 L470.3 680.4 L471.6 680 L472.8 679.5 L474.1 679 L475.4 678.5 L476.5 677.9 L477.5 677.4 L478.6 676.8 L479.6 676.1 L480.7 675.4 L481.7 674.7 L482.8 673.9 L483.8 673 L484.9 672.1 L485.9 671.1 L487 670.3 L488 669.7 L489.3 669.3 L490.5 669.1 L491.8 669 L493 668.8 L494.3 668.5 L495.3 668 L496.4 667.4 L497.4 666.8 L498.5 666.1 L499.5 665.4 L500.6 664.7 L501.6 664 L502.7 663.2 L503.7 662.3 L504.8 661.5 L505.8 660.6 L506.9 659.7 L507.8 658.9 L508.7 658 L509.6 657.1 L510.5 656.1 L511.4 655.2 L512.3 654.3 L513.2 653.4 L514.1 652.5 L515 651.7 L515.9 650.8 L516.8 649.9 L517.7 649.1 L518.6 648.3 L519.5 647.7 L520.7 646.9 L522 646.2 L523.2 645.7 L524.5 645.2 L525.8 644.7 L527 644.1 L528.3 643.6 L529.5 643.1 L530.8 642.6 L532 642.1 L533.3 641.6 L534.6 641.1 L535.8 640.6 L537.1 640.1 L538.3 639.6 L539.6 639.2 L540.9 638.8 L542.1 638.5 L543.4 638.1 L544.6 637.6 L545.9 637.1 L547.1 636.6 L548.4 636.1 L549.7 635.6 L550.9 635.1 L552.2 634.8 L553.5 634.5 L554.8 634.3 L556 634.1 L557.2 633.9 L558.6 633.6 L559.9 633.3 L561.1 633.2 L562.3 633.4 L563.3 634 L564.2 634.9 L565.1 636 L566 637.1 L566.7 638 L567.4 638.9 L568.1 639.8 L568.9 640.9 L569.8 642.1 L570.5 643.1 L571.2 644.1 L572 645.2 L572.8 646.3 L573.6 647.5 L574.5 648.6 L575.3 649.8 L576.1 650.9 L576.9 652 L577.7 653.1 L578.5 654.2 L579.2 655.3 L580 656.4 L580.8 657.5 L581.6 658.6 L582.4 659.7 L583.2 660.8 L584 661.9 L584.7 663.1 L585.5 664.2 L586.3 665.4 L587.1 666.4 L587.9 667.5 L588.7 668.5 L589.6 669.5 L590.5 670.4 L591.4 671.3 L592.3 672.2 L593.2 673 L594.1 673.8 L595 674.7 L595.9 675.7 L596.8 676.6 L597.7 677.6 L598.6 678.6 L599.5 679.5 L600.4 680.3 L601.3 681 L602.5 681.6 L603.8 682.1 L605 682.3 L606.3 682.5 L607.6 682.7 L608.8 683 L610.1 683.3 L611.3 683.5 L612.6 683.6 L613.8 683.5 L615.1 683.2 L616.4 682.6 L617.6 682 L618.9 681.4 L620.1 681 L621.4 680.9 L622.7 681 L623.9 681.1 L625.2 681.2 L626.4 681 L627.5 680.6 L628.5 680 L629.6 679.3 L630.6 678.5 L631.7 677.8 L632.7 677.2 L634 676.5 L635.2 675.8 L636.5 675.2 L637.8 674.8 L639 674.7 L640.1 675 L641.1 675.6 L642.2 676.3 L643.2 677.1 L644.3 677.9 L645.3 678.5 L646.6 679 L647.8 679.5 L649.1 680 L650.3 680.3 L651.6 680.5 L652.9 680.6 L654.1 680.6 L655.4 680.5 L656.6 680.2 L657.9 679.7 L658.9 679 L660 678 L661 676.8 L662.1 675.7 L663.1 674.8 L664.2 674.2 L665.4 674.1 L666.7 674.3 L668 674.7 L669.2 675.3 L670.5 676 L671.5 676.5 L672.6 677.1 L673.6 677.7 L674.7 678.4 L675.7 679.4 L676.8 680.5 L677.4 681.3 L678 682.2 L678.7 683.2 L679.3 684.3 L679.9 685.4 L680.5 686.5 L681.2 687.7 L681.8 688.8 L682.4 689.9 L683.1 691 L683.8 692.2 L684.6 693.4 L685.3 694.6 L686.1 695.9 L686.9 697.1 L687.6 698.2 L688.3 699.3 L688.9 700.2 L689.4 701 L690.5 703.1 L690.9 704.1 L691.9 706 L692.9 708 L693.9 708.4 L694.9 708.7 L695.9 708.7 L697 709.4 L698 709.3 L699 708.5 L700 708 L701 707.2 L702 707.1 L703 706.2 L704 705.3 L705 703.8 L706 702.5 L707 701.8 L708 700.3 L709 700.6 L710 700.7 L711 701.6 L712 703 L713 703 L714 703.8 L715 703 L716 703.3 L717 703.2 L718.1 701.9 L719.1 702.7 L720.1 702.7 L721.1 701.6 L722.1 701.8 L723.1 702.6 L723.3 702.3" stroke="#9ea8af" stroke-width="1.8"/>
<path d="M140.5 884.9 L158.9 894.9 L175.4 884.9 L190.7 884.9 L204.6 882.4 L217.6 879.9 L229.6 874.9 L240.8 872.4 L240.8 872.4 L241.8 872.1 L242.8 871.8 L243.8 871.5 L244.8 871.2 L245.8 870.8 L246.8 870.4 L247.8 870 L248.8 869.6 L249.8 869.2 L250.8 868.8 L251.8 868.4 L252.8 867.9 L253.9 867.4 L254.9 866.8 L255.9 866.2 L256.9 865.7 L257.9 865.1 L258.9 864.7 L259.9 864.5 L260.9 864.3 L261.9 864.1 L262.9 863.9 L263.9 863.7 L264.9 863.6 L265.9 863.4 L266.9 863.3 L267.9 863.2 L268.9 863.1 L269.9 863 L270.9 862.8 L271.9 862.5 L272.9 862.2 L273.9 861.9 L275 861.6 L276 861.2 L277 860.9 L278 860.5 L279 860 L280 859.5 L281 859 L282 858.6 L283 858.1 L284 857.7 L285 857.2 L286 856.7 L287 856.3 L288 855.8 L289 855.4 L290 854.9 L291 854.5 L292 854.2 L293 853.8 L294 853.4 L295 853 L296.1 852.6 L297.1 852.6 L298.1 852.6 L299.1 852.7 L300.1 852.7 L301.1 852.7 L302.1 852.7 L303.1 852.3 L304.1 851.7 L305.1 851.1 L306.1 850.5 L307.1 849.9 L308.1 849.2 L309.1 848.5 L310.1 847.6 L311.1 846.6 L312.1 845.7 L313.1 844.7 L314.1 843.8 L315.1 842.9 L316.1 842 L317.2 841.1 L318.2 840.2 L319.2 839.3 L320.2 838.4 L321.2 837.5 L322.2 836.8 L323.2 836.1 L324.2 835.5 L325.2 834.8 L326.2 834.2 L327.2 833.5 L328.2 832.8 L329.2 832.1 L330.2 831.6 L331.2 831.1 L332.2 830.5 L333.2 830 L334.2 829.4 L335.2 828.5 L336.2 827.5 L337.2 826.6 L338.3 825.7 L339.3 824.8 L340.3 826 L341.3 826.9 L342.3 827.9 L343.3 824.2 L344.3 820.4 L345.3 816.7 L346.3 815.3 L347.3 813.9 L348.3 812.5 L349.3 811.1 L350.3 809.7 L351.3 808.3 L352.3 806.9 L353.3 805.5 L354.3 804.1 L355.3 802.7 L356.3 801.5 L357.3 800.5 L358.3 799.5 L359.4 798.5 L360.4 797.5 L361.4 796.5 L362.4 795.5 L363.4 796.4 L364.4 797.3 L365.4 798.1 L366.4 795.7 L367.4 793.2 L368.4 790.7 L369.4 790.1 L370.4 789.5 L371.4 788.9 L372.4 788.3 L373.4 787.7 L374.4 787.1 L375.4 786.6 L376.4 786.1 L377.4 785.7 L378.4 785.2 L379.4 784.7 L380.5 784.2 L381.5 783.9 L382.5 783.9 L383.5 783.9 L384.5 783.9 L385.5 783.9 L386.5 783.9 L387.5 785.6 L388.5 787.3 L389.5 788.9 L390.5 786.1 L391.5 782.7 L392.5 779.4 L393.5 777.6 L394.5 775.9 L395.5 774.2 L396.5 772.8 L397.5 771.8 L398.5 770.8 L399.5 769.8 L400.5 768.8 L401.6 767.9 L402.6 767.1 L403.6 766.4 L404.6 765.6 L405.6 764.9 L406.6 763.9 L407.6 762.7 L408.6 761.5 L409.6 760.3 L410.6 759.1 L411.6 757.9 L412.6 756.7 L413.6 755.4 L414.6 754.2 L415.6 752.9 L416.6 751.6 L417.6 750.3 L418.6 749 L419.6 747.9 L420.6 746.8 L421.6 745.7 L422.7 744.5 L423.7 743.4 L424.7 742.3 L425.7 741.2 L426.7 740.1 L427.7 738.9 L428.7 737.8 L429.7 736.7 L430.7 735.6 L431.7 734.5 L432.7 733.4 L433.7 732.3 L434.7 731.2 L435.7 730.2 L436.7 729.1 L437.7 728 L438.7 727.1 L439.7 726.2 L440.7 725.2 L441.7 724.3 L442.7 723.4 L443.8 722.5 L444.8 722.3 L445.8 722.4 L446.8 722.4 L447.8 722.4 L448.8 721.4 L449.8 720.4 L450.8 719.5 L451.8 718.5 L452.8 717.5 L453.8 716.6 L454.8 716.5 L455.8 716.6 L456.8 716.8 L457.8 720.5 L458.8 724.3 L459.8 727 L460.8 729.4 L461.8 724.3 L462.8 719.2 L463.8 714.1 L464.9 709.1 L465.9 708.1 L466.9 707.1 L467.9 706.1 L468.9 705.1 L469.9 704.1 L470.9 703.3 L471.9 702.4 L472.9 701.6 L473.9 700.8 L474.9 699.9 L475.9 699 L476.9 698.1 L477.9 697.2 L478.9 696.3 L479.9 695.4 L480.9 694.4 L481.9 693.5 L482.9 692.3 L483.9 691.1 L484.9 690 L486 688.8 L487 687.7 L488 686.5 L489 685.5 L490 684.4 L491 683.4 L492 682.3 L493 681.3 L494 680.3 L495 679.3 L496 678.4 L497 677.5 L498 676.6 L499 675.6 L500 674.7 L501 673.9 L502 673.2 L503 672.5 L504 671.9 L505 671.2 L506 670.5 L507.1 669.8 L508.1 669.3 L509.1 668.8 L510.1 668.3 L511.1 667.8 L512.1 667.3 L513.1 666.7 L514.1 666.4 L515.1 666 L516.1 665.6 L517.1 665.3 L518.1 664.9 L519.1 664.6 L520.1 664.3 L521.1 664.1 L522.1 663.9 L523.1 663.7 L524.1 663.5 L525.1 663.3 L526.1 663.1 L527.1 662.8 L528.2 662.5 L529.2 662.2 L530.2 661.9 L531.2 661.7 L532.2 661.4 L533.2 661 L534.2 660.6 L535.2 660.2 L536.2 659.8 L537.2 659.4 L538.2 659 L539.2 658.7 L540.2 658.4 L541.2 658.1 L542.2 657.8 L543.2 657.5 L544.2 657.3 L545.2 657.2 L546.2 657.3 L547.2 657.4 L548.2 657.4 L549.3 657.5 L550.3 657.6 L551.3 657.6 L552.3 657.4 L553.3 657.2 L554.3 657 L555.3 656.8 L556.3 656.6 L557.3 656.4 L558.3 656.5 L559.3 656.6 L560.3 656.7 L561.3 656.8 L562.3 657 L563.3 657.9 L564.3 658.8 L565.3 659.7 L566.3 660.6 L567.3 661.4 L568.3 661.9 L569.3 662.4 L570.4 662.9 L571.4 663.4 L572.4 663.9 L573.4 664.7 L574.4 665.4 L575.4 666.2 L576.4 666.9 L577.4 667.7 L578.4 669 L579.4 670.2 L580.4 671.5 L581.4 672.7 L582.4 674 L583.4 675.2 L584.4 676.4 L585.4 677.6 L586.4 678.8 L587.4 680 L588.4 681.2 L589.4 682.4 L590.4 683.6 L591.5 684.8 L592.5 686 L593.5 687.2 L594.5 688.4 L595.5 689.8 L596.5 691.4 L597.5 693 L598.5 694.6 L599.5 696.2 L600.5 697.8 L601.5 699.4 L602.5 701.3 L603.5 703.1 L604.5 704.9 L605.5 706.7 L606.5 708.6 L607.5 710.4 L608.5 711.8 L609.5 713.3 L610.5 714.7 L611.5 716.1 L612.6 717.5 L613.6 719 L614.6 720.2 L615.6 721.5 L616.6 722.7 L617.6 723.9 L618.6 725.1 L619.6 726.4 L620.6 727.3 L621.6 727.8 L622.6 728.3 L623.6 728 L624.6 727.6 L625.6 727.3 L626.6 726.9 L627.6 726.5 L628.6 726.3 L629.6 726 L630.6 725.8 L631.6 725.6 L632.6 725.4 L633.7 726.4 L634.7 727.6 L635.7 728.7 L636.7 729.8 L637.7 731 L638.7 732.1 L639.7 733.2 L640.7 734.2 L641.7 735.3 L642.7 736.3 L643.7 737.3 L644.7 738.3 L645.7 739.7 L646.7 741.5 L647.7 743.4 L648.7 744.4 L649.7 744.1 L650.7 743.9 L651.7 743.8 L652.7 745.1 L653.7 746.5 L654.8 747.8 L655.8 747.5 L656.8 746.9 L657.8 746.3 L658.8 745.9 L659.8 745.4 L660.8 744.9 L661.8 744.1 L662.8 743.3 L663.8 742.9 L664.8 742.7 L665.8 742.5 L666.8 742.3 L667.8 742 L668.8 741 L669.8 739.8 L670.8 738.5 L671.8 737.4 L672.8 740.2 L673.8 741.5 L674.8 744.1 L675.9 746.8 L676.9 750 L677.9 752.7 L678.9 754.4 L679.9 756.6 L680.9 759.1 L681.9 760 L682.9 761.4 L683.9 763.7 L684.9 765.8 L685.9 765 L686.9 762.8 L687.9 765.2 L688.9 765.9 L689.9 767.5 L690.9 769.7 L691.9 770.5 L692.9 772.5 L693.9 771.7 L694.9 774.3 L695.9 774.5 L697 775 L698 774.6 L699 777.6 L700 778.5 L701 780 L702 778.9 L703 776.3 L704 779.7 L705 774.1 L706 772.2 L707 777.3 L708 780.8 L709 777.7 L710 777.3 L711 779.3 L712 776.3 L713 778.9 L714 779.3 L715 782.1 L716 782.1 L717 780.4 L718.1 778.6 L719.1 781.1 L720.1 780.7 L721.1 783.8 L722.1 778 L723.1 786.1 L723.3 786.2 L723.3 744.2 L723.1 744.1 L722.1 736.1 L721.1 741.9 L720.1 738.8 L719.1 739.3 L718.1 736.8 L717 738.7 L716 740.5 L715 740.5 L714 737.8 L713 737.4 L712 734.8 L711 737.9 L710 735.9 L709 736.4 L708 739.5 L707 736.1 L706 731 L705 732.9 L704 738.6 L703 735.3 L702 737.9 L701 739 L700 737.6 L699 736.7 L698 733.8 L697 734.3 L695.9 733.8 L694.9 733.7 L693.9 731.1 L692.9 732 L691.9 729.9 L690.9 729.2 L689.9 727 L688.9 725.5 L687.9 724.8 L686.9 722.5 L685.9 724.8 L684.9 725.6 L683.9 723.6 L682.9 721.3 L681.9 720 L680.9 719.1 L679.9 716.6 L678.9 714.5 L677.9 712.7 L676.9 710.1 L675.9 706.9 L674.8 704.2 L673.8 701.7 L672.8 700.4 L671.8 697.6 L670.8 698.8 L669.8 700 L668.8 701.3 L667.8 702.4 L666.8 702.6 L665.8 702.9 L664.8 703.1 L663.8 703.4 L662.8 703.7 L661.8 704.6 L660.8 705.4 L659.8 705.9 L658.8 706.4 L657.8 706.9 L656.8 707.5 L655.8 708.1 L654.8 708.4 L653.7 707.1 L652.7 705.8 L651.7 704.5 L650.7 704.6 L649.7 704.9 L648.7 705.2 L647.7 704.2 L646.7 702.4 L645.7 700.5 L644.7 699.2 L643.7 698.2 L642.7 697.2 L641.7 696.2 L640.7 695.2 L639.7 694.2 L638.7 693.2 L637.7 692.1 L636.7 690.9 L635.7 689.8 L634.7 688.7 L633.7 687.6 L632.6 686.6 L631.6 686.8 L630.6 687.1 L629.6 687.3 L628.6 687.6 L627.6 687.8 L626.6 688.2 L625.6 688.6 L624.6 689 L623.6 689.4 L622.6 689.8 L621.6 689.3 L620.6 688.8 L619.6 687.9 L618.6 686.7 L617.6 685.5 L616.6 684.3 L615.6 683.1 L614.6 681.9 L613.6 680.6 L612.6 679.2 L611.5 677.8 L610.5 676.4 L609.5 675 L608.5 673.6 L607.5 672.2 L606.5 670.4 L605.5 668.6 L604.5 666.8 L603.5 665 L602.5 663.2 L601.5 661.4 L600.5 659.8 L599.5 658.2 L598.5 656.6 L597.5 655 L596.5 653.4 L595.5 651.8 L594.5 650.4 L593.5 649.2 L592.5 648 L591.5 646.8 L590.4 645.6 L589.4 644.4 L588.4 643.2 L587.4 642 L586.4 640.8 L585.4 639.6 L584.4 638.4 L583.4 637.2 L582.4 636 L581.4 634.7 L580.4 633.5 L579.4 632.2 L578.4 631 L577.4 629.7 L576.4 628.9 L575.4 628.2 L574.4 627.4 L573.4 626.7 L572.4 625.9 L571.4 625.4 L570.4 624.9 L569.3 624.4 L568.3 623.9 L567.3 623.4 L566.3 622.5 L565.3 621.6 L564.3 620.7 L563.3 619.8 L562.3 618.9 L561.3 618.8 L560.3 618.7 L559.3 618.6 L558.3 618.6 L557.3 618.5 L556.3 618.8 L555.3 619 L554.3 619.3 L553.3 619.5 L552.3 619.8 L551.3 620 L550.3 620.1 L549.3 620.1 L548.2 620 L547.2 620 L546.2 620 L545.2 619.9 L544.2 620 L543.2 620.4 L542.2 620.7 L541.2 621 L540.2 621.4 L539.2 621.7 L538.2 622 L537.2 622.5 L536.2 622.9 L535.2 623.4 L534.2 623.8 L533.2 624.3 L532.2 624.7 L531.2 625.1 L530.2 625.4 L529.2 625.8 L528.2 626.1 L527.1 626.4 L526.1 626.7 L525.1 627 L524.1 627.3 L523.1 627.5 L522.1 627.8 L521.1 628 L520.1 628.3 L519.1 628.5 L518.1 628.8 L517.1 629 L516.1 629.3 L515.1 629.6 L514.1 629.9 L513.1 630.2 L512.1 630.6 L511.1 631.1 L510.1 631.5 L509.1 631.9 L508.1 632.4 L507.1 632.8 L506 633.4 L505 634 L504 634.6 L503 635.2 L502 635.8 L501 636.4 L500 637.1 L499 638 L498 638.8 L497 639.7 L496 640.5 L495 641.3 L494 642.2 L493 643.2 L492 644.1 L491 645.1 L490 646.1 L489 647 L488 648 L487 649.1 L486 650.1 L484.9 651.2 L483.9 652.3 L482.9 653.4 L481.9 654.5 L480.9 655.4 L479.9 656.2 L478.9 657.1 L477.9 657.9 L476.9 658.7 L475.9 659.6 L474.9 660.4 L473.9 661.1 L472.9 661.9 L471.9 662.7 L470.9 663.4 L469.9 664.2 L468.9 665.1 L467.9 666.3 L466.9 667.6 L465.9 668.8 L464.9 670.1 L463.8 671.3 L462.8 672.7 L461.8 674 L460.8 675.4 L459.8 676.7 L458.8 677.8 L457.8 677.8 L456.8 677.8 L455.8 677.8 L454.8 677.8 L453.8 678 L452.8 679.1 L451.8 680.3 L450.8 681.4 L449.8 682.5 L448.8 683.6 L447.8 684.7 L446.8 684.9 L445.8 685 L444.8 685.2 L443.8 685.5 L442.7 686.4 L441.7 687.4 L440.7 688.4 L439.7 689.3 L438.7 690.3 L437.7 691.3 L436.7 692.4 L435.7 693.5 L434.7 694.6 L433.7 695.8 L432.7 696.9 L431.7 698 L430.7 699.2 L429.7 700.3 L428.7 701.5 L427.7 702.7 L426.7 703.8 L425.7 705 L424.7 706.2 L423.7 707.3 L422.7 708.5 L421.6 709.7 L420.6 710.8 L419.6 712 L418.6 713.2 L417.6 714.5 L416.6 715.8 L415.6 717.2 L414.6 718.5 L413.6 719.8 L412.6 721.1 L411.6 722.4 L410.6 723.6 L409.6 724.9 L408.6 726.1 L407.6 727.4 L406.6 728.6 L405.6 729.6 L404.6 730.4 L403.6 731.2 L402.6 732 L401.6 732.8 L400.5 733.7 L399.5 734.8 L398.5 735.9 L397.5 737 L396.5 738.2 L395.5 739.8 L394.5 741.6 L393.5 743.5 L392.5 745.4 L391.5 747.1 L390.5 748.8 L389.5 749.9 L388.5 749.9 L387.5 749.9 L386.5 749.9 L385.5 749.9 L384.5 749.9 L383.5 749.9 L382.5 749.9 L381.5 749.9 L380.5 750.2 L379.4 750.7 L378.4 751.2 L377.4 751.6 L376.4 752.1 L375.4 752.6 L374.4 753.1 L373.4 753.7 L372.4 754.3 L371.4 754.9 L370.4 755.5 L369.4 756.1 L368.4 756.7 L367.4 757.5 L366.4 758.3 L365.4 759.1 L364.4 759.9 L363.4 760.7 L362.4 761.5 L361.4 762.5 L360.4 763.5 L359.4 764.5 L358.3 765.5 L357.3 766.5 L356.3 767.5 L355.3 768.7 L354.3 770.1 L353.3 771.5 L352.3 772.9 L351.3 774.3 L350.3 775.7 L349.3 777.1 L348.3 778.5 L347.3 779.9 L346.3 781.3 L345.3 782.7 L344.3 784.1 L343.3 785.5 L342.3 786.9 L341.3 788.3 L340.3 789.6 L339.3 790.8 L338.3 792.1 L337.2 793.4 L336.2 794.7 L335.2 796 L334.2 797.4 L333.2 798.4 L332.2 799.3 L331.2 800.3 L330.2 801.2 L329.2 802.1 L328.2 802.8 L327.2 803.6 L326.2 804.3 L325.2 805 L324.2 805.7 L323.2 806.4 L322.2 807.1 L321.2 807.8 L320.2 808.8 L319.2 809.7 L318.2 810.6 L317.2 811.6 L316.1 812.5 L315.1 813.5 L314.1 814.4 L313.1 815.4 L312.1 816.4 L311.1 817.4 L310.1 818.4 L309.1 819.3 L308.1 820.1 L307.1 820.8 L306.1 821.5 L305.1 822.1 L304.1 822.8 L303.1 823.4 L302.1 823.9 L301.1 823.9 L300.1 823.9 L299.1 823.9 L298.1 824 L297.1 824 L296.1 824 L295 824.5 L294 824.9 L293 825.3 L292 825.7 L291 826.1 L290 826.6 L289 827.1 L288 827.6 L287 828.1 L286 828.6 L285 829.1 L284 829.6 L283 830.1 L282 830.6 L281 831 L280 831.5 L279 831.9 L278 832.4 L277 832.8 L276 833.1 L275 833.4 L273.9 833.7 L272.9 834 L271.9 834.3 L270.9 834.6 L269.9 834.7 L268.9 834.8 L267.9 834.8 L266.9 834.9 L265.9 835 L264.9 835.1 L263.9 835.3 L262.9 835.5 L261.9 835.6 L260.9 835.8 L259.9 836 L258.9 836.2 L257.9 836.5 L256.9 837.1 L255.9 837.6 L254.9 838.1 L253.9 838.7 L252.8 839.2 L251.8 839.7 L250.8 840.1 L249.8 840.5 L248.8 840.8 L247.8 841.2 L246.8 841.6 L245.8 842 L244.8 842.3 L243.8 842.6 L242.8 842.8 L241.8 843.1 L240.8 843.4 L240.8 843.6 L229.6 847.3 L217.6 852.3 L204.6 854.8 L190.7 857.4 L175.4 848.6 L158.9 862.4 L140.5 832.3Z" fill="#9fd0f4" fill-opacity="0.45" stroke="none"/>
<path class="ln" d="M140.1 853.8 L140.6 854.4 L141.2 855.2 L142 856.2 L142.8 857.2 L143.7 858.3 L144.7 859.4 L145.6 860.4 L146.4 861.4 L147.3 862.3 L148.2 863.3 L149.1 864.3 L150.1 865.2 L151 866.1 L151.8 866.9 L152.7 867.6 L154 868.7 L155.2 869.7 L156.4 870.4 L157.7 870.9 L158.9 871.1 L160.1 871.1 L161.4 871 L162.7 870.8 L164 870.6 L165.3 870.4 L166.5 870 L167.8 869.6 L169 869.2 L170.3 868.9 L171.6 868.6 L172.8 868.4 L174.1 868.3 L175.3 868.3 L176.6 868.4 L177.8 868.7 L179.1 869.2 L180.4 869.8 L181.6 870.4 L182.9 870.9 L184.1 871.3 L185.4 871.7 L186.7 872.1 L187.9 872.4 L189.2 872.6 L190.4 872.7 L191.7 872.7 L192.9 872.7 L194.2 872.5 L195.5 872.4 L196.7 872.2 L198 871.9 L199.2 871.5 L200.5 871.2 L201.8 870.9 L203 870.6 L204.3 870.2 L205.5 869.9 L206.8 869.6 L208 869.4 L209.3 869.3 L210.6 869.4 L211.8 869.5 L213.1 869.5 L214.3 869.4 L215.6 869 L216.9 868.5 L218.1 867.8 L219.4 867.1 L220.6 866.4 L221.7 865.7 L222.7 864.9 L223.8 864.1 L224.8 863.3 L225.9 862.5 L226.9 861.9 L228.2 861.2 L229.4 860.6 L230.7 860.1 L232 859.7 L233.2 859.4 L234.5 859.1 L235.7 859.1 L237 859.1 L238.3 859 L239.5 858.8 L240.8 858.6 L242 858.2 L243.3 857.8 L244.5 857.3 L245.8 856.8 L247.1 856.4 L248.3 855.9 L249.6 855.4 L250.8 854.9 L252.1 854.3 L253.4 853.7 L254.6 852.9 L255.9 852.1 L257.1 851.4 L258.4 850.8 L259.6 850.4 L260.9 850.1 L262.2 849.9 L263.4 849.8 L264.7 849.6 L265.9 849.4 L267.2 849.3 L268.5 849.2 L269.7 849 L271 848.8 L272.2 848.5 L273.5 848.2 L274.7 847.8 L276 847.3 L277.3 846.8 L278.5 846.3 L279.8 845.7 L281 845.1 L282.3 844.4 L283.6 843.8 L284.8 843.2 L286.1 842.6 L287.3 842 L288.6 841.4 L289.8 840.8 L291.1 840.2 L292.4 839.6 L293.6 839.1 L294.9 838.6 L296.1 838.3 L297.4 838.2 L298.7 838.3 L299.9 838.5 L301.2 838.5 L302.4 838.3 L303.5 837.9 L304.5 837.3 L305.6 836.7 L306.6 835.9 L307.7 835.1 L308.7 834.3 L309.6 833.5 L310.5 832.7 L311.4 831.8 L312.3 830.9 L313.2 830 L314.1 829.1 L315 828.3 L315.9 827.4 L316.8 826.6 L317.7 825.7 L318.6 824.9 L319.5 824 L320.4 823.3 L321.3 822.5 L322.4 821.7 L323.4 821 L324.5 820.3 L325.5 819.6 L326.6 819 L327.6 818.3 L328.7 817.5 L329.7 816.9 L330.7 816.2 L331.8 815.4 L332.8 814.6 L333.9 813.7 L334.8 812.9 L335.8 811.8 L336.8 810.8 L337.7 809.7 L338.6 808.6 L339.5 807.6 L340.2 806.7 L341.1 805.6 L341.7 804.7 L342.4 803.8 L343.3 802.5 L343.9 801.6 L344.6 800.6 L345.4 799.6 L346.2 798.4 L347.1 797.2 L347.9 796 L348.8 794.9 L349.6 793.7 L350.4 792.6 L351.1 791.5 L351.9 790.3 L352.7 789.2 L353.5 788.1 L354.3 787 L355.1 785.9 L355.9 785 L356.8 783.9 L357.7 783 L358.6 782 L359.5 781.2 L360.4 780.3 L361.3 779.5 L362.2 778.7 L363.2 777.8 L364.3 776.9 L365.3 776 L366.3 775.2 L367.4 774.4 L368.4 773.7 L369.5 773 L370.5 772.3 L371.6 771.7 L372.6 771.1 L373.7 770.5 L374.7 769.9 L376 769.2 L377.1 768.5 L378.3 767.9 L379.6 767.3 L381 766.9 L382.2 766.9 L383.4 767 L384.8 767.3 L386.1 767.5 L387.4 767.6 L388.7 767.5 L389.8 766.9 L390.6 766.3 L391.3 765.4 L392 764.3 L392.6 763.1 L393.2 761.9 L393.8 760.6 L394.4 759.3 L395 758.1 L395.6 757 L396.1 756.2 L397.2 754.8 L398.2 753.7 L399.2 752.8 L400.2 752 L401.2 751.1 L402.2 750.4 L403.1 749.7 L404.1 749.1 L405.1 748.4 L406.2 747.4 L406.9 746.6 L407.7 745.8 L408.5 744.9 L409.3 743.9 L410.1 742.9 L410.9 741.9 L411.7 740.9 L412.5 739.9 L413.3 738.9 L414.1 737.9 L414.9 736.9 L415.6 735.8 L416.4 734.8 L417.2 733.8 L418 732.8 L418.8 731.9 L419.7 730.8 L420.6 729.8 L421.5 728.8 L422.4 727.8 L423.3 726.8 L424.2 725.8 L425.1 724.8 L426 723.8 L426.9 722.8 L427.8 721.8 L428.7 720.8 L429.6 719.8 L430.5 718.8 L431.4 717.8 L432.3 716.8 L433.2 715.8 L434.1 714.8 L435 713.9 L435.9 712.9 L436.8 712 L437.7 711.1 L438.6 710.1 L439.5 709.2 L440.5 708.2 L441.4 707.3 L442.3 706.5 L443.2 705.8 L444 705.3 L445.3 705 L446.4 705.2 L447.7 704.8 L448.5 704.1 L449.4 703.1 L450.3 701.9 L451.3 700.6 L452.2 699.5 L453.2 698.5 L454 697.8 L455.4 697.4 L456.6 697.8 L457.8 698.1 L459.1 697.8 L459.8 697.2 L460.5 696.3 L461.2 695.3 L461.9 694.2 L462.7 693.1 L463.4 692 L464.1 691 L464.9 689.9 L465.7 688.8 L466.5 687.8 L467.4 686.7 L468.2 685.7 L469.1 684.7 L470.1 683.8 L471.1 683 L472.2 682.2 L473.3 681.4 L474.4 680.6 L475.4 679.7 L476.5 678.9 L477.5 678 L478.6 677.1 L479.6 676.2 L480.7 675.2 L481.7 674.2 L482.6 673.3 L483.5 672.3 L484.4 671.3 L485.3 670.2 L486.2 669.2 L487.1 668.2 L488 667.2 L488.9 666.3 L489.8 665.3 L490.7 664.4 L491.6 663.5 L492.5 662.7 L493.4 661.8 L494.3 660.9 L495.3 660 L496.4 659 L497.4 658 L498.5 657.1 L499.5 656.3 L500.6 655.4 L501.6 654.7 L502.7 653.9 L503.7 653.3 L504.8 652.6 L505.8 652 L506.9 651.4 L508.1 650.7 L509.4 650.1 L510.7 649.5 L511.9 648.9 L513.2 648.4 L514.4 647.9 L515.7 647.5 L516.9 647.1 L518.2 646.7 L519.5 646.4 L520.7 646.1 L522 645.9 L523.2 645.7 L524.5 645.4 L525.8 645.2 L527 644.8 L528.3 644.5 L529.5 644.2 L530.8 643.8 L532 643.4 L533.3 642.9 L534.6 642.4 L535.8 641.9 L537.1 641.4 L538.3 640.9 L539.6 640.5 L540.9 640 L542.1 639.6 L543.4 639.3 L544.6 639.1 L545.9 639.1 L547.1 639.3 L548.4 639.5 L549.7 639.6 L550.9 639.6 L552.2 639.5 L553.5 639.2 L554.8 638.8 L556 638.6 L557.2 638.4 L558.6 638.3 L559.8 638.3 L561 638.4 L562.3 638.9 L563.3 639.6 L564.3 640.5 L565.3 641.5 L566.3 642.6 L567.3 643.4 L568.5 644.1 L569.8 644.7 L571.1 645.2 L572.3 645.9 L573.3 646.5 L574.3 647.2 L575.3 647.9 L576.3 648.7 L577.4 649.7 L578.2 650.5 L579 651.5 L579.8 652.6 L580.6 653.7 L581.5 654.8 L582.4 655.9 L583.1 656.8 L583.9 657.7 L584.7 658.7 L585.5 659.6 L586.3 660.6 L587.1 661.5 L587.9 662.5 L588.7 663.4 L589.5 664.4 L590.3 665.3 L591 666.2 L591.8 667 L592.6 668 L593.4 668.9 L594.2 669.9 L595 671 L595.7 672 L596.4 673 L597.1 674.1 L597.8 675.2 L598.5 676.3 L599.2 677.5 L599.9 678.6 L600.6 679.8 L601.3 681 L601.9 682.1 L602.5 683.2 L603.2 684.4 L603.8 685.5 L604.4 686.7 L605 687.9 L605.7 689 L606.3 690.1 L606.9 691.2 L607.6 692.3 L608.3 693.5 L609.1 694.7 L609.9 695.8 L610.7 696.9 L611.5 697.9 L612.3 699 L613.1 700 L613.8 701 L614.7 702.1 L615.5 703.1 L616.4 704.2 L617.2 705.3 L618.1 706.2 L618.8 707.1 L619.5 707.9 L620.1 708.5 L621.5 709.8 L622.7 709.8 L623.7 709.5 L625 709 L626.4 708.3 L627.7 707.8 L628.9 707.2 L630.1 706.6 L631.4 706.3 L632.7 706.5 L633.6 707.2 L634.6 708.1 L635.7 709.3 L636.7 710.6 L637.6 711.8 L638.4 712.9 L639 713.6 L645.3 719.8 L648.3 725.3 L651.6 724.3 L654.9 728.6 L657.9 726.8 L660.9 725.3 L662.9 723.6 L668 722.3 L670.8 718.8 L671.3 718.3 L671.8 717.7 L672.3 719.1 L672.8 720.4 L673.3 721.2 L673.8 721.7 L674.3 723 L674.8 724.2 L675.4 726.1 L675.9 726.9 L676.4 728.6 L676.9 730.1 L677.4 731.6 L677.9 732.7 L678.4 733 L678.9 734.5 L679.4 735.8 L679.9 736.6 L680.4 738.4 L680.9 739.1 L681.4 739.4 L681.9 740 L682.4 740.6 L682.9 741.4 L683.4 743.7 L683.9 743.7 L684.4 744.5 L684.9 745.8 L685.4 746.3 L685.9 745 L686.4 745.1 L686.9 742.8 L687.4 743.7 L687.9 745.2 L688.4 746.5 L688.9 745.9 L689.4 747.4 L689.9 747.5 L690.4 748.3 L690.9 749.7 L691.4 750.4 L691.9 750.5 L692.4 751.4 L692.9 752.5 L693.4 752.6 L693.9 751.7 L694.4 754 L694.9 754.3 L695.4 753.2 L695.9 754.5 L696.5 754.4 L697 755 L697.5 755.9 L698 754.6 L698.5 757.5 L699 757.6 L699.5 759 L700 758.5 L700.5 760.3 L701 760 L701.5 758.2 L702 758.9 L702.5 757.5 L703 756.3 L703.5 759.2 L704 759.7 L704.5 759.3 L705 754.1 L705.5 751.1 L706 752.2 L706.5 754.4 L707 757.3 L707.5 757.9 L708 760.8 L708.5 758.9 L709 757.7 L709.5 757 L710 757.3 L710.5 756 L711 759.3 L711.5 758.6 L712 756.3 L712.5 757.3 L713 758.9 L713.5 757.4 L714 759.3 L714.5 759.3 L715 762.1 L715.5 763.3 L716 762.1 L716.5 762.4 L717 760.4 L717.6 757.1 L718.1 758.6 L718.6 760 L719.1 761.1 L719.6 761.9 L720.1 760.7 L720.6 763.6 L721.1 763.8 L721.6 763 L722.1 758 L722.6 762.7 L723.1 766.1 L723.3 766.2" stroke="#1581e0" stroke-width="2.3"/>
<path d="M140.5 886.2 L158.9 901.2 L175.4 886.2 L190.7 888.7 L204.6 885.5 L217.6 878.7 L229.6 871.1 L240.8 869.9 L240.8 869.8 L242.3 869.8 L243.8 869.7 L245.3 869.6 L246.8 869.1 L248.3 868.3 L249.8 867.5 L251.3 866.7 L252.8 865.7 L254.4 864.4 L255.9 863.1 L257.4 861.8 L258.9 860.7 L260.4 859.7 L261.9 858.7 L263.4 857.7 L264.9 856.7 L266.4 856.2 L267.9 855.6 L269.4 855 L270.9 854.4 L272.4 853.3 L273.9 852.1 L275.5 851 L277 849.9 L278.5 848.4 L280 846.8 L281.5 845.1 L283 843.6 L284.5 842.2 L286 840.7 L287.5 839.3 L289 837.8 L290.5 836.4 L292 835.1 L293.5 833.7 L295 832.4 L296.6 831.2 L298.1 830.3 L299.6 829.5 L301.1 828.6 L302.6 827.7 L304.1 827.3 L305.6 826.8 L307.1 826.4 L308.6 825.9 L310.1 825.3 L311.6 823.6 L313.1 821.9 L314.6 820.2 L316.1 818.4 L317.7 816.6 L319.2 814.8 L320.7 813 L322.2 811.4 L323.7 809.9 L325.2 808.4 L326.7 806.9 L328.2 805.4 L329.7 804 L331.2 802.6 L332.7 801.3 L334.2 800 L335.7 798.9 L337.2 797.9 L338.8 796.9 L340.3 795.8 L341.8 794 L343.3 792.2 L344.8 790.4 L346.3 788.6 L347.8 786.8 L349.3 785 L350.8 783.2 L352.3 781.4 L353.8 779.6 L355.3 777.8 L356.8 776.1 L358.3 774.5 L359.9 772.9 L361.4 771.3 L362.9 769.8 L364.4 768.4 L365.9 767 L367.4 765.6 L368.9 764.3 L370.4 763.1 L371.9 761.9 L373.4 760.7 L374.9 759.6 L376.4 759 L377.9 758.5 L379.4 758 L381 757.4 L382.5 756.3 L384 755.2 L385.5 754 L387 752.9 L388.5 751.5 L390 750 L391.5 748.5 L393 747 L394.5 745.5 L396 744.2 L397.5 742.8 L399 741.4 L400.5 740.2 L402.1 739.2 L403.6 738.1 L405.1 737.1 L406.6 735.9 L408.1 734.1 L409.6 732.3 L411.1 730.5 L412.6 728.7 L414.1 726.6 L415.6 724.5 L417.1 722.4 L418.6 720.3 L420.1 717.9 L421.6 715.5 L423.2 713.1 L424.7 710.7 L426.2 708.4 L427.7 706.2 L429.2 704 L430.7 701.7 L432.2 699.6 L433.7 697.4 L435.2 695.2 L436.7 693.1 L438.2 691 L439.7 689.1 L441.2 687.2 L442.7 685.2 L444.3 683.4 L445.8 681.8 L447.3 680.2 L448.8 678.5 L450.3 676.9 L451.8 675.6 L453.3 674.3 L454.8 673 L456.3 671.6 L457.8 670.8 L459.3 670.1 L460.8 669.4 L462.3 668.7 L463.8 668 L465.4 667.2 L466.9 666.5 L468.4 665.8 L469.9 664.7 L471.4 663.4 L472.9 662.1 L474.4 660.7 L475.9 659.4 L477.4 658 L478.9 656.6 L480.4 655.3 L481.9 653.9 L483.4 652.9 L484.9 651.9 L486.5 650.9 L488 649.8 L489.5 649.5 L491 649.1 L492.5 648.7 L494 648.4 L495.5 649.4 L497 650.6 L498.5 651.9 L500 653.2 L501.5 653.9 L503 654.3 L504.5 654.7 L506 655.2 L507.6 655 L509.1 654.1 L510.6 653.3 L512.1 652.7 L513.6 652.2 L515.1 652 L516.6 651.8 L518.1 651.7 L519.6 651.6 L521.1 652.7 L522.6 653.7 L524.1 654.8 L525.6 657.2 L527.1 660.2 L528.7 663.1 L530.2 666 L531.7 668.8 L533.2 671.5 L534.7 674.2 L536.2 676 L537.7 677.7 L539.2 679.5 L540.7 680.8 L542.2 681.7 L543.7 682.7 L545.2 684.3 L546.7 687 L548.2 689.6 L549.8 692.2 L551.3 695.2 L552.8 698.2 L554.3 701.2 L555.8 703.7 L557.3 706 L558.8 708.2 L560.3 710.2 L561.8 711.1 L563.3 712.1 L564.8 713.1 L566.3 714.1 L567.8 715 L569.3 716 L570.9 717 L572.4 718 L573.9 718.9 L575.4 719.9 L576.9 720.9 L578.4 721.9 L579.9 722.9 L581.4 725.4 L582.9 727.8 L584.4 730.3 L585.9 733 L587.4 735.9 L588.9 738.7 L590.4 741.6 L592 744.4 L593.5 747.3 L595 750.1 L596.5 752.2 L598 754.3 L599.5 756.4 L601 757.8 L602.5 758.8 L604 759.7 L605.5 760.8 L607 762 L608.5 763.2 L610 764.4 L611.5 765.2 L613.1 765.9 L614.6 766.7 L616.1 767.2 L617.6 767.5 L619.1 767.9 L620.6 768.2 L622.1 768.1 L623.6 768.1 L625.1 768.1 L626.6 767.9 L628.1 767 L629.6 766 L631.1 765.1 L632.6 764.1 L634.2 762 L635.7 760.7 L637.2 759.8 L638.7 759.7 L640.2 760.6 L641.7 762 L643.2 761.8 L644.7 763 L646.2 763.1 L647.7 764 L649.2 766.1 L650.7 766.2 L652.2 766.9 L653.7 770.1 L655.3 770.7 L656.8 769.6 L658.3 771.6 L659.8 772 L661.3 773.4 L662.8 773.4 L664.3 774.4 L665.8 777.6 L667.3 781.8 L668.8 783.6 L670.3 786.9 L671.8 783.8 L673.3 779 L674.8 791.4 L676.4 791.3 L677.9 795.4 L679.4 801.3 L680.9 799.5 L682.4 806.9 L683.9 809.5 L685.4 810.4 L686.9 809.1 L688.4 813.7 L689.9 812.3 L691.4 814.6 L692.9 827.6 L694.4 829.5 L695.9 819.1 L697.5 817.3 L699 823.2 L700.5 835 L702 835.1 L703.5 837.7 L705 833.7 L706.5 828.3 L708 827.4 L709.5 831 L711 830.9 L712.5 825 L714 831.1 L715.5 824.4 L717 823 L718.6 822.1 L720.1 822.2 L721.6 827.3 L723.1 837.4 L723.1 775.4 L721.6 765.5 L720.1 760.5 L718.6 760.5 L717 761.6 L715.5 763.1 L714 769.9 L712.5 763.9 L711 770 L709.5 770.2 L708 766.8 L706.5 767.8 L705 773.3 L703.5 777.5 L702 775 L700.5 775.1 L699 763.6 L697.5 758 L695.9 760 L694.4 770.8 L692.9 769.2 L691.4 756.4 L689.9 754.4 L688.4 756.2 L686.9 751.9 L685.4 753.5 L683.9 752.9 L682.4 750.6 L680.9 743.5 L679.4 745.9 L677.9 740.6 L676.4 737.1 L674.8 737.8 L673.3 726 L671.8 731.4 L670.3 735.1 L668.8 732.4 L667.3 731.2 L665.8 727.6 L664.3 725 L662.8 724.6 L661.3 725.2 L659.8 724.3 L658.3 724.3 L656.8 722.8 L655.3 724.4 L653.7 724.2 L652.2 721.5 L650.7 721.2 L649.2 721.6 L647.7 719.9 L646.2 719.4 L644.7 719.8 L643.2 719 L641.7 719.7 L640.2 718.5 L638.7 717.1 L637.2 716.7 L635.7 717.2 L634.2 718 L632.6 719.7 L631.1 720.2 L629.6 720.7 L628.1 721.2 L626.6 721.7 L625.1 721.4 L623.6 721 L622.1 720.6 L620.6 720.2 L619.1 719.6 L617.6 718.9 L616.1 718.3 L614.6 717.4 L613.1 716.4 L611.5 715.3 L610 714.3 L608.5 712.8 L607 711.3 L605.5 709.8 L604 708.4 L602.5 707.2 L601 705.9 L599.5 704.3 L598 702.1 L596.5 699.8 L595 697.6 L593.5 694.6 L592 691.6 L590.4 688.6 L588.9 685.6 L587.4 682.6 L585.9 679.6 L584.4 676.7 L582.9 674.1 L581.4 671.4 L579.9 668.8 L578.4 667.5 L576.9 666.2 L575.4 664.9 L573.9 663.6 L572.4 662.4 L570.9 661.1 L569.3 659.8 L567.8 658.5 L566.3 657.3 L564.8 656 L563.3 654.7 L561.8 653.4 L560.3 652.2 L558.8 650.8 L557.3 649.1 L555.8 647.5 L554.3 645.6 L552.8 643.2 L551.3 640.8 L549.8 638.4 L548.2 636.4 L546.7 634.3 L545.2 632.3 L543.7 631.3 L542.2 630.9 L540.7 630.5 L539.2 630.2 L537.7 629.4 L536.2 628.6 L534.7 627.8 L533.2 626.2 L531.7 624.4 L530.2 622.7 L528.7 620.8 L527.1 618.8 L525.6 616.8 L524.1 615.1 L522.6 614.7 L521.1 614.2 L519.6 613.8 L518.1 614.5 L516.6 615.2 L515.1 616 L513.6 616.8 L512.1 617.9 L510.6 619.1 L509.1 620.1 L507.6 621 L506 621.2 L504.5 620.7 L503 620.3 L501.5 619.9 L500 619.2 L498.5 617.9 L497 616.6 L495.5 615.4 L494 614.4 L492.5 614 L491 613.7 L489.5 613.3 L488 613 L486.5 613.3 L484.9 613.6 L483.4 613.9 L481.9 614.2 L480.4 614.8 L478.9 615.4 L477.4 616.1 L475.9 616.7 L474.4 617.4 L472.9 618 L471.4 618.6 L469.9 619.2 L468.4 619.9 L466.9 621.1 L465.4 622.2 L463.8 623.3 L462.3 624.5 L460.8 625.6 L459.3 626.8 L457.8 627.9 L456.3 629.1 L454.8 630.9 L453.3 632.6 L451.8 634.4 L450.3 636.1 L448.8 638.1 L447.3 640.2 L445.8 642.2 L444.3 644.3 L442.7 646.2 L441.2 648.1 L439.7 649.9 L438.2 651.8 L436.7 653.8 L435.2 655.9 L433.7 658 L432.2 660.1 L430.7 662.2 L429.2 664.4 L427.7 666.5 L426.2 668.7 L424.7 670.9 L423.2 673.2 L421.6 675.6 L420.1 677.9 L418.6 680.3 L417.1 683 L415.6 685.8 L414.1 688.5 L412.6 691.3 L411.1 693.8 L409.6 696.3 L408.1 698.7 L406.6 701.2 L405.1 703 L403.6 704.7 L402.1 706.4 L400.5 708.1 L399 710 L397.5 712 L396 714.1 L394.5 716.1 L393 718.1 L391.5 719.9 L390 721.8 L388.5 723.7 L387 725.4 L385.5 726.9 L384 728.4 L382.5 729.9 L381 731.4 L379.4 732.3 L377.9 733.2 L376.4 734.1 L374.9 735 L373.4 736.5 L371.9 738.1 L370.4 739.6 L368.9 741.2 L367.4 742.7 L365.9 744.1 L364.4 745.5 L362.9 747 L361.4 748.5 L359.9 750.2 L358.3 751.9 L356.8 753.6 L355.3 755.3 L353.8 757.2 L352.3 759 L350.8 760.9 L349.3 762.8 L347.8 764.6 L346.3 766.5 L344.8 768.3 L343.3 770.2 L341.8 772 L340.3 773.8 L338.8 774.9 L337.2 775.9 L335.7 776.9 L334.2 778 L332.7 779.3 L331.2 780.6 L329.7 782 L328.2 783.4 L326.7 784.9 L325.2 786.4 L323.7 787.9 L322.2 789.4 L320.7 791 L319.2 792.8 L317.7 794.6 L316.1 796.4 L314.6 798.2 L313.1 799.9 L311.6 801.6 L310.1 803.3 L308.6 803.9 L307.1 804.4 L305.6 804.8 L304.1 805.3 L302.6 805.7 L301.1 806.6 L299.6 807.5 L298.1 808.4 L296.6 809.3 L295 810.5 L293.5 811.9 L292 813.3 L290.5 814.7 L289 816.1 L287.5 817.6 L286 819.1 L284.5 820.6 L283 822.1 L281.5 823.6 L280 825 L278.5 826.4 L277 827.8 L275.5 828.7 L273.9 829.7 L272.4 830.6 L270.9 831.5 L269.4 831.9 L267.9 832.3 L266.4 832.8 L264.9 833.2 L263.4 833.9 L261.9 834.8 L260.4 835.6 L258.9 836.4 L257.4 837.4 L255.9 838.6 L254.4 839.7 L252.8 840.8 L251.3 841.7 L249.8 842.4 L248.3 843 L246.8 843.6 L245.3 844.1 L243.8 844 L242.3 843.9 L240.8 843.8 L240.8 843.6 L229.6 837.9 L217.6 849.8 L204.6 857.4 L190.7 864.9 L175.4 852.3 L158.9 857.4 L140.5 838.6Z" fill="#f2b3bc" fill-opacity="0.45" stroke="none"/>
<path class="ln" d="M140.1 860.9 L140.6 861.5 L141.2 862.4 L142 863.5 L142.8 864.7 L143.7 866 L144.7 867.2 L145.6 868.3 L146.4 869.4 L147.3 870.4 L148.2 871.5 L149.1 872.5 L150 873.5 L150.9 874.4 L151.8 875.2 L152.7 875.9 L154 876.7 L155.3 877.2 L156.5 877.6 L157.8 877.9 L159 878.1 L160.3 878.3 L161.5 878.2 L162.7 878 L164 877.6 L165.2 877.2 L166.4 876.7 L167.7 876 L169 875.4 L170.3 874.9 L171.6 874.4 L172.8 874 L174.1 873.6 L175.3 873.3 L176.6 872.9 L177.8 872.4 L179.1 872 L180.4 871.5 L181.6 871.1 L182.9 870.9 L184.1 870.8 L185.4 870.8 L186.7 871 L187.9 871.1 L189.2 871.1 L190.4 871.1 L191.7 871.1 L192.9 871.1 L194.2 871 L195.5 870.9 L196.7 870.7 L198 870.6 L199.2 870.4 L200.5 870.2 L201.8 869.9 L203 869.6 L204.3 869.2 L205.5 868.8 L206.8 868.4 L208 867.9 L209.3 867.3 L210.6 866.6 L211.8 865.9 L213.1 865.1 L214.3 864.4 L215.4 863.7 L216.4 863 L217.5 862.2 L218.5 861.5 L219.6 860.8 L220.6 860.1 L221.7 859.4 L222.7 858.7 L223.8 858 L224.8 857.4 L225.9 856.8 L226.9 856.3 L228.2 856 L229.4 855.7 L230.7 855.6 L232 855.6 L233.2 855.6 L234.5 855.7 L235.7 856 L237 856.3 L238.3 856.6 L239.5 856.8 L240.8 857 L242 857.1 L243.3 857.1 L244.5 857.1 L245.8 856.8 L247.1 856.5 L248.3 856 L249.6 855.3 L250.8 854.6 L252.1 853.8 L253.1 853.1 L254.2 852.3 L255.2 851.4 L256.3 850.5 L257.3 849.6 L258.4 848.8 L259.4 848.1 L260.5 847.4 L261.5 846.8 L262.6 846.1 L263.6 845.6 L264.7 845.1 L265.9 844.6 L267.2 844.2 L268.5 843.9 L269.7 843.6 L271 843.1 L272 842.5 L273.1 841.9 L274.1 841.2 L275.2 840.5 L276.2 839.7 L277.3 838.8 L278.2 838 L279.1 837.2 L280 836.3 L280.9 835.3 L281.8 834.4 L282.7 833.5 L283.6 832.5 L284.5 831.6 L285.4 830.7 L286.3 829.8 L287.2 828.9 L288.1 828 L289 827.1 L289.8 826.3 L290.7 825.4 L291.6 824.5 L292.5 823.7 L293.4 822.8 L294.3 822 L295.2 821.2 L296.1 820.5 L297.2 819.8 L298.2 819.1 L299.2 818.4 L300.2 817.8 L301.3 817.3 L302.4 816.8 L303.6 816.3 L305 816 L306.3 815.8 L307.6 815.5 L308.9 815.1 L310 814.5 L311 813.8 L311.8 812.9 L312.6 811.9 L313.3 810.9 L314.1 809.8 L315 808.7 L315.7 807.9 L316.5 807 L317.3 806 L318.1 805 L318.9 804 L319.7 803.1 L320.5 802.1 L321.3 801.2 L322.2 800.3 L323.1 799.3 L324 798.4 L324.9 797.5 L325.8 796.7 L326.7 795.8 L327.6 795 L328.5 794.1 L329.4 793.2 L330.3 792.4 L331.2 791.5 L332.1 790.7 L333 789.9 L333.9 789.2 L335 788.4 L336.1 787.6 L337.2 786.9 L338.3 786.3 L339.3 785.6 L340.2 784.9 L341.1 784.1 L341.7 783.3 L342.4 782.4 L343.3 781.2 L343.9 780.5 L344.6 779.6 L345.4 778.7 L346.2 777.7 L347.1 776.7 L347.9 775.7 L348.8 774.7 L349.6 773.7 L350.4 772.7 L351.1 771.8 L351.9 770.8 L352.7 769.9 L353.5 768.9 L354.3 768 L355.1 767.1 L355.9 766.2 L356.8 765.2 L357.7 764.2 L358.6 763.2 L359.5 762.2 L360.4 761.3 L361.3 760.3 L362.2 759.4 L363.1 758.5 L364 757.7 L364.9 756.9 L365.7 756.1 L366.6 755.3 L367.5 754.5 L368.4 753.6 L369.3 752.8 L370.2 751.9 L371.1 751 L372 750.2 L372.9 749.3 L373.8 748.6 L374.7 747.9 L376 747.1 L377.3 746.6 L378.5 746.1 L379.8 745.6 L381 744.9 L382.1 744.1 L383.1 743.3 L384.2 742.4 L385.2 741.4 L386.3 740.4 L387.3 739.4 L388.2 738.4 L389.1 737.5 L390 736.5 L390.9 735.4 L391.8 734.4 L392.7 733.4 L393.6 732.4 L394.5 731.3 L395.4 730.3 L396.3 729.3 L397.2 728.2 L398.1 727.2 L399 726.3 L399.9 725.3 L401 724.4 L402 723.5 L403.1 722.7 L404.1 721.8 L405.2 720.9 L406.2 719.8 L407 718.9 L407.8 717.9 L408.6 716.8 L409.3 715.7 L410.1 714.6 L410.9 713.4 L411.7 712.2 L412.5 711.1 L413.2 710 L413.9 708.9 L414.6 707.8 L415.3 706.7 L416 705.6 L416.7 704.4 L417.4 703.3 L418.1 702.2 L418.8 701 L419.5 699.9 L420.2 698.8 L420.9 697.7 L421.6 696.5 L422.3 695.4 L423 694.3 L423.7 693.2 L424.4 692.1 L425.1 691 L425.8 689.9 L426.5 688.9 L427.2 687.9 L427.9 686.8 L428.6 685.8 L429.3 684.8 L430 683.8 L430.7 682.8 L431.4 681.7 L432.1 680.7 L432.8 679.7 L433.5 678.7 L434.2 677.7 L434.9 676.6 L435.6 675.6 L436.3 674.6 L437 673.7 L437.7 672.7 L438.4 671.7 L439.2 670.6 L440 669.6 L440.8 668.6 L441.6 667.6 L442.4 666.6 L443.2 665.7 L444 664.7 L444.7 663.7 L445.5 662.8 L446.3 661.8 L447.1 660.8 L447.9 659.9 L448.7 659 L449.5 658.1 L450.2 657.2 L451.1 656.2 L452 655.2 L452.9 654.3 L453.8 653.4 L454.7 652.5 L455.6 651.7 L456.5 650.9 L457.6 650.1 L458.6 649.5 L459.7 648.9 L460.7 648.3 L461.8 647.8 L462.8 647.2 L463.9 646.5 L464.9 645.9 L466 645.3 L467 644.7 L468.1 644.1 L469.1 643.4 L470.2 642.7 L471.2 642 L472.3 641.3 L473.3 640.6 L474.4 639.9 L475.4 639.1 L476.5 638.4 L477.5 637.6 L478.6 636.8 L479.6 636 L480.7 635.3 L481.7 634.6 L483 633.9 L484.2 633.2 L485.5 632.6 L486.7 632 L488 631.6 L489.3 631.3 L490.5 631.1 L491.8 630.9 L493 631 L494.3 631.4 L495.3 632 L496.4 632.8 L497.4 633.9 L498.5 634.9 L499.5 635.9 L500.6 636.6 L501.8 637.3 L503.1 637.9 L504.4 638.3 L505.6 638.4 L506.9 638.4 L507.9 638.1 L509 637.5 L510 636.7 L511.1 636 L512.1 635.2 L513.2 634.6 L514.4 634 L515.7 633.5 L517 633 L518.3 632.7 L519.5 632.6 L520.8 632.8 L522.1 633.2 L523.3 634 L524.5 635.1 L525.1 635.9 L525.8 636.8 L526.4 637.8 L527 639 L527.6 640.1 L528.3 641.3 L528.9 642.4 L529.5 643.4 L530.3 644.5 L531 645.7 L531.7 646.8 L532.4 648 L533.1 649 L533.8 650 L534.6 650.9 L535.6 652 L536.6 653 L537.6 653.8 L538.6 654.5 L539.6 655.2 L540.9 655.7 L542.1 656 L543.4 656.3 L544.6 657.2 L545.4 658 L546.1 658.9 L546.8 660 L547.5 661.1 L548.2 662.3 L548.9 663.5 L549.7 664.7 L550.3 665.8 L550.9 666.9 L551.6 668 L552.2 669.2 L552.8 670.3 L553.4 671.4 L554.1 672.5 L554.7 673.5 L555.5 674.7 L556.4 675.8 L557.2 676.9 L558.1 677.9 L558.9 678.9 L559.7 679.7 L560.7 680.6 L561.7 681.4 L562.8 682.1 L563.8 682.8 L564.8 683.5 L565.8 684.2 L566.8 685 L567.8 685.7 L568.8 686.5 L569.8 687.2 L570.8 688 L571.8 688.8 L572.8 689.5 L573.8 690.3 L574.8 691 L575.8 691.7 L576.8 692.3 L577.9 692.9 L578.9 693.7 L579.9 694.8 L580.5 695.6 L581.1 696.6 L581.8 697.6 L582.4 698.8 L583 699.9 L583.6 701.1 L584.3 702.3 L584.9 703.5 L585.5 704.6 L586 705.7 L586.6 706.8 L587.1 707.9 L587.7 709 L588.3 710.2 L588.8 711.3 L589.4 712.4 L589.9 713.6 L590.5 714.7 L591.1 715.8 L591.6 717 L592.2 718.2 L592.7 719.3 L593.3 720.4 L593.9 721.5 L594.4 722.6 L595 723.6 L595.7 724.8 L596.4 726 L597.1 727.2 L597.8 728.3 L598.6 729.3 L599.3 730.2 L600 731.1 L601 732.1 L602 732.8 L603 733.5 L604 734.1 L605 734.9 L606 735.7 L607.1 736.7 L608.1 737.6 L609.1 738.5 L610.1 739.4 L611.3 740.3 L612.6 741 L613.8 741.7 L615.1 742.4 L616.3 742.9 L617.5 743.4 L618.8 743.8 L620.1 744.1 L621.4 744.4 L622.9 744.5 L624.3 744.7 L625.6 744.8 L626.4 744.9 L632.7 741.9 L634.4 739.7 L636.9 738.2 L639.4 738.5 L641.3 741 L643.2 740.4 L645 741.6 L646.9 741 L649.5 744.1 L650.7 743.7 L651.2 742.9 L651.7 743.8 L652.2 744.2 L652.7 745 L653.2 746.8 L653.7 747.2 L654.3 745.9 L654.8 747.2 L655.3 747.6 L655.8 746.2 L656.3 747.2 L656.8 746.2 L657.3 746.8 L657.8 746.4 L658.3 747.9 L658.8 747.2 L659.3 747 L659.8 748.2 L660.3 747.9 L660.8 747.9 L661.3 749.3 L661.8 747.3 L662.3 747.8 L662.8 749 L663.3 750.1 L663.8 748.2 L664.3 749.7 L664.8 749.8 L665.3 750.7 L665.8 752.6 L666.3 753.4 L666.8 756.4 L667.3 756.5 L667.8 758.8 L668.3 757.5 L668.8 758 L669.3 761 L669.8 761.1 L670.3 761 L670.8 758.6 L671.3 760.6 L671.8 757.6 L672.3 755.6 L672.8 751.5 L673.3 752.5 L673.8 757.6 L674.3 761.7 L674.8 764.6 L675.4 763.7 L675.9 764.9 L676.4 764.2 L676.9 765.3 L677.4 765.7 L677.9 768 L678.4 771.2 L678.9 771.1 L679.4 773.6 L679.9 774.7 L680.4 774.2 L680.9 771.5 L681.4 775.9 L681.9 775.6 L682.4 778.8 L682.9 781.4 L683.4 783.7 L683.9 781.2 L684.4 781.8 L684.9 786.4 L685.4 782 L685.9 782.9 L686.4 782.7 L686.9 780.5 L687.4 777.9 L687.9 779 L688.4 785 L688.9 783.1 L689.4 786.5 L689.9 783.3 L690.4 786 L690.9 784.5 L691.4 785.5 L691.9 789.6 L692.4 790.6 L692.9 798.4 L693.4 803.7 L693.9 799.2 L694.4 800.2 L694.9 796.9 L695.4 793.2 L695.9 789.5 L696.5 791.9 L697 792.6 L697.5 787.6 L698 791 L698.5 787 L699 793.4 L699.5 803.6 L700 807.1 L700.5 805 L701 802.6 L701.5 802.6 L702 805.1 L702.5 807 L703 806.9 L703.5 807.7 L704 806.2 L704.5 802.3 L705 803.7 L705.5 802 L706 796.4 L706.5 798.3 L707 797.6 L707.5 800.4 L708 797.4 L708.5 798 L709 803.2 L709.5 801 L710 802.5 L710.5 807.5 L711 800.9 L711.5 798.9 L712 794.6 L712.5 795 L713 794 L713.5 795.2 L714 801.1 L714.5 801.2 L715 796.7 L715.5 794.4 L716 798.5 L716.5 795.7 L717 793 L717.6 793.3 L718.1 792.4 L718.6 792 L719.1 791 L719.6 789.6 L720.1 792.2 L720.6 792.3 L721.1 790.5 L721.6 797.3 L722.1 796.3 L722.6 800.2 L723.1 807.4" stroke="#e03c4e" stroke-width="2.3"/>
</g>
<path class="ax" d="M131.3 551.9 V938.7 H723.2 M131.3 551.9 h6.9 M131.3 590.6 h2.7 M131.3 629.3 h6.9 M131.3 667.9 h2.7 M131.3 706.6 h6.9 M131.3 745.3 h2.7 M131.3 784 h6.9 M131.3 822.7 h2.7 M131.3 861.3 h6.9 M131.3 900 h2.7 M201.9 938.7 v-2.8 M251.9 938.7 v-2.8 M290.8 938.7 v-2.8 M322.5 938.7 v-2.8 M349.3 938.7 v-2.8 M372.6 938.7 v-2.8 M393.1 938.7 v-2.8 M411.4 938.7 v-6.9 M532 938.7 v-2.8 M602.6 938.7 v-2.8 M652.6 938.7 v-2.8 M691.5 938.7 v-2.8 M723.2 938.7 v-2.8"/>
<text class="tk" transform="translate(121.8 560.5) scale(1 1.06)" text-anchor="end">1.0</text>
<text class="tk" transform="translate(121.8 637.9) scale(1 1.06)" text-anchor="end">0.8</text>
<text class="tk" transform="translate(121.8 715.2) scale(1 1.06)" text-anchor="end">0.6</text>
<text class="tk" transform="translate(121.8 792.6) scale(1 1.06)" text-anchor="end">0.4</text>
<text class="tk" transform="translate(121.8 869.9) scale(1 1.06)" text-anchor="end">0.2</text>
<text class="tk" transform="translate(121.8 947.3) scale(1 1.06)" text-anchor="end">0.0</text>
<text class="tk" transform="translate(412.3 966.8) scale(1 1.06)" text-anchor="middle">1000</text>
<text class="al" x="416" y="1004.2" text-anchor="middle">Frequency (Hz)</text>
<text class="al" transform="translate(58 744) rotate(-90)" text-anchor="middle">Absorbance</text>
<text class="pl" x="8" y="560">B</text>
</g>
<g id="panel-C">
<clipPath id="clipC"><rect x="891.3" y="26.4" width="619.5" height="386.8"/></clipPath>
<g clip-path="url(#clipC)">
<path d="M901 228.9 L909.1 232.6 L921.6 240.2 L936.6 261 L951.6 260.2 L967.9 271.5 L982.9 266.5 L993.5 245.2 L1004.2 277.7 L1016.8 280.2 L1026.8 270.2 L1030 270.2 L1042.5 262.7 L1055.1 255.2 L1067.6 245.2 L1080.1 235.2 L1092.6 222.6 L1105.2 210.1 L1117.7 193.8 L1125.2 182.6 L1130.2 172.5 L1137.7 162.5 L1150.2 157.5 L1160.3 150 L1167.8 142.5 L1191.6 124.9 L1215.2 98.7 L1240.2 91.2 L1265.3 81.1 L1290.3 69.9 L1315.4 61.1 L1340.4 60.6 L1352.9 66.1 L1365.5 76.1 L1378 84.9 L1390.5 89.9 L1403 89.9 L1415.6 86.9 L1428.1 88.6 L1440 88.3 L1441 88.2 L1442 88.1 L1443 88.3 L1444 87.9 L1445 87.8 L1446 87.6 L1447 87.5 L1448 87.3 L1449 87 L1450 86.9 L1451 86.6 L1452 86.6 L1453 86.4 L1454 86.6 L1455 87.7 L1456 88.5 L1457 89 L1458 90.2 L1459 91.1 L1460 91.2 L1461 92.4 L1462 93 L1463 93.9 L1464 93.9 L1465 95.8 L1466 96.1 L1467 97.7 L1468 98.4 L1469 99.3 L1470 100.8 L1471 101.9 L1472 102.6 L1473 103.1 L1474 104.4 L1475 105.6 L1476 106.3 L1477 107.9 L1478 108.9 L1479 108.7 L1480 107.2 L1481 108 L1482 107.6 L1483 107.3 L1484 106.9 L1485 106.4 L1486 105.5 L1487 104.3 L1488 105.1 L1489 104.7 L1490 104.4 L1491 104.1 L1492 102.8 L1493 103.5 L1494 104 L1495 104.1 L1496 102.6 L1497 102.8 L1498 102.3 L1499 103.8 L1500 103.2 L1501 101.6 L1502 102.9 L1503 101.2 L1504 103.6 L1505 100.9 L1506 103.5 L1507 103 L1508 103.3 L1509 101.4 L1509 134.7 L1508 137.6 L1507 135.9 L1506 134.8 L1505 133.9 L1504 134.5 L1503 134.3 L1502 136.5 L1501 134.9 L1500 134.9 L1499 135 L1498 135.8 L1497 135 L1496 133.9 L1495 134.2 L1494 133.8 L1493 133.2 L1492 134.7 L1491 136.4 L1490 135.8 L1489 133.4 L1488 136 L1487 134.2 L1486 135.1 L1485 136.7 L1484 136.2 L1483 138.8 L1482 137.8 L1481 138.1 L1480 138.7 L1479 138.3 L1478 139.6 L1477 136.7 L1476 135.1 L1475 135.5 L1474 132.9 L1473 131.8 L1472 129.4 L1471 129.8 L1470 126.9 L1469 126.8 L1468 125.7 L1467 122.6 L1466 121.8 L1465 121.8 L1464 118.6 L1463 118.8 L1462 116.3 L1461 115.1 L1460 115.6 L1459 113.1 L1458 111.7 L1457 110.4 L1456 109.8 L1455 108 L1454 107.1 L1453 105.8 L1452 106 L1451 106.2 L1450 106.3 L1449 106.3 L1448 107.2 L1447 106.6 L1446 106.9 L1445 106.8 L1444 107.5 L1443 107 L1442 107.2 L1441 107.3 L1440 107.3 L1428.1 107.4 L1415.6 104.9 L1403 109.9 L1390.5 111.2 L1378 108.7 L1365.5 101.2 L1345.4 86.1 L1327.9 82.4 L1302.8 86.1 L1290.3 89.9 L1265.3 102.4 L1245.2 116.2 L1238.7 123.7 L1235.9 158.8 L1233.2 126.2 L1227.7 122.5 L1215.2 123.7 L1202.6 131.2 L1191.6 162.5 L1180.3 171.3 L1167.8 180.1 L1155.3 188.8 L1147.7 191.3 L1142.7 197.6 L1134 203.9 L1130.2 210.1 L1125.2 220.1 L1122.7 231.4 L1117.7 245.2 L1112.7 262.7 L1107.7 274 L1090.1 275.3 L1086.9 277.7 L1079.4 310.3 L1071.9 310.3 L1064.4 335.4 L1054.3 360.4 L1050.6 420.5 L1040.6 420.5 L1036.1 382.9 L1031.8 420.5 L1014.3 420.5 L994.2 332.8 L981.7 381.7 L971.7 381.7 L951.6 370.4 L921.6 345.4 L901 322.8Z" fill="#d7dee0" fill-opacity="0.45" stroke="none"/>
<path class="ln" d="M901 270.2 L901.5 270.9 L902.2 271.8 L903 272.9 L903.9 274.1 L904.8 275.4 L905.7 276.6 L906.5 277.7 L907.3 278.8 L908 279.9 L908.7 281 L909.4 282 L910.1 283.1 L910.8 284.2 L911.6 285.3 L912.3 286.3 L913 287.4 L913.7 288.5 L914.4 289.6 L915.1 290.7 L915.8 291.8 L916.6 292.8 L917.4 293.9 L918.2 295 L919.1 296.1 L919.9 297.1 L920.7 298.1 L921.6 299 L922.6 300.1 L923.6 301.2 L924.6 302.1 L925.6 303.1 L926.6 304 L927.6 305 L928.6 305.9 L929.6 306.7 L930.6 307.6 L931.6 308.3 L932.8 309.1 L934.1 309.9 L935.4 310.5 L936.6 311.1 L937.9 311.5 L939.1 311.8 L940.4 312 L941.6 312.3 L942.9 312.5 L944.1 312.8 L945.4 313 L946.6 313.3 L947.9 313.7 L949.1 314.2 L950.4 314.7 L951.6 315.3 L952.9 316 L954.1 316.7 L955.4 317.5 L956.6 318.3 L957.9 319.1 L959.2 320 L960.4 320.8 L961.7 321.6 L962.9 322.3 L964.2 323 L965.4 323.6 L966.7 324.1 L967.9 324.5 L969.2 324.7 L970.4 324.9 L971.7 324.8 L972.9 324.6 L974.2 324.3 L975.4 323.7 L976.7 322.8 L977.5 322.1 L978.4 321.1 L979.2 320.1 L980 319 L980.9 317.8 L981.7 316.6 L982.3 315.6 L982.9 314.4 L983.6 313.2 L984.2 312 L984.8 310.8 L985.5 309.7 L986.1 308.7 L986.7 307.8 L987.7 306.6 L988.7 305.5 L989.7 304.7 L990.7 304.1 L991.7 304 L992.7 304.4 L993.7 305.1 L994.7 306.2 L995.7 307.5 L996.7 309 L997.2 309.9 L997.7 310.9 L998.2 311.9 L998.7 313 L999.2 314.2 L999.7 315.4 L1000.2 316.6 L1000.7 317.9 L1001.2 319.1 L1001.7 320.3 L1002.2 321.4 L1002.6 322.5 L1003.1 323.6 L1003.6 324.8 L1004 325.9 L1004.5 327.1 L1004.9 328.2 L1005.4 329.4 L1005.8 330.6 L1006.3 331.7 L1006.7 332.8 L1007.2 334 L1007.7 335.2 L1008.1 336.3 L1008.6 337.5 L1009 338.7 L1009.5 339.8 L1009.9 341 L1010.4 342.1 L1010.8 343.2 L1011.3 344.3 L1011.8 345.4 L1012.3 346.6 L1012.9 347.9 L1013.5 349.1 L1014.1 350.3 L1014.6 351.5 L1015.2 352.6 L1015.7 353.6 L1016.3 354.5 L1016.8 355.4 L1017.8 356.9 L1018.7 358.1 L1019.6 359 L1020.5 359.6 L1021.8 360.3 L1023 360.5 L1024.3 360.4 L1025.5 360.2 L1026.8 359.6 L1028 357.9 L1028.4 357 L1028.8 355.9 L1029.2 354.7 L1029.5 353.3 L1029.9 351.9 L1030.3 350.4 L1030.7 349 L1031 347.7 L1031.4 346.4 L1031.8 345.4 L1032.4 343.8 L1033 342.2 L1033.7 340.9 L1034.3 339.7 L1034.9 339 L1035.6 338.6 L1036.3 338.8 L1037.1 339.7 L1037.8 340.9 L1038.6 342.5 L1039.3 344.1 L1039.7 345.2 L1040.2 346.4 L1040.6 347.8 L1041 349.3 L1041.5 350.7 L1041.9 352.1 L1042.3 353.4 L1042.7 354.5 L1043.1 355.4 L1044.4 357.2 L1045.6 357.1 L1046.4 356.8 L1047.2 355.9 L1048.1 354.1 L1048.4 353.3 L1048.6 352.4 L1048.9 351.3 L1049.2 350.2 L1049.5 348.9 L1049.7 347.6 L1050 346.1 L1050.3 344.5 L1050.6 342.9 L1050.7 341.8 L1050.9 340.7 L1051.1 339.6 L1051.2 338.4 L1051.4 337.1 L1051.5 335.8 L1051.7 334.4 L1051.8 333.1 L1052 331.7 L1052.1 330.4 L1052.3 329 L1052.5 327.7 L1052.6 326.4 L1052.8 325.2 L1052.9 324 L1053.1 322.8 L1053.3 321.4 L1053.5 320 L1053.7 318.6 L1053.9 317.3 L1054.1 316 L1054.3 314.7 L1054.5 313.4 L1054.8 312.2 L1055 311.1 L1055.2 310 L1055.4 308.9 L1055.6 307.8 L1055.9 306.3 L1056.2 304.9 L1056.5 303.6 L1056.8 302.3 L1057.1 301.1 L1057.4 300 L1057.7 298.9 L1058.1 297.8 L1058.6 296.6 L1059.1 295.4 L1059.6 294.3 L1060.2 293.3 L1060.7 292.2 L1061.3 291.2 L1061.9 290.3 L1062.5 289.1 L1063.1 288.1 L1063.7 287.1 L1064.4 286 L1065 285 L1065.6 284 L1066.3 282.9 L1066.9 281.8 L1067.6 280.6 L1068.3 279.5 L1068.8 278.6 L1069.4 277.7 L1070.3 276.2 L1071.3 275.3 L1072.4 274.8 L1073.7 274.4 L1075.1 273.9 L1076.3 273.4 L1077.4 272.8 L1078.4 272.2 L1079.3 271.4 L1080.1 270.2 L1080.6 269.3 L1081 268.1 L1081.4 266.8 L1081.8 265.5 L1082.2 264.1 L1082.6 262.7 L1083 261.5 L1083.3 260.3 L1083.6 259.1 L1083.9 257.8 L1084.3 256.5 L1084.7 255.2 L1085.1 254 L1085.6 252.7 L1086 251.3 L1086.5 250 L1087 248.7 L1087.6 247.4 L1088.2 246.2 L1088.9 245.2 L1089.8 244.1 L1090.8 243.1 L1091.9 242.3 L1093 241.5 L1094.1 240.8 L1095.1 240.2 L1096.5 239.4 L1097.7 238.8 L1098.9 238.2 L1100.1 237.7 L1101.4 237.1 L1102.6 236.6 L1103.9 236 L1105.2 235.2 L1106.2 234.3 L1107.2 233.4 L1108.2 232.4 L1109.2 231.3 L1110.2 230.2 L1111 229.2 L1111.9 228.2 L1112.7 227.2 L1113.6 226.1 L1114.4 225 L1115.2 223.9 L1115.8 222.9 L1116.3 221.9 L1116.9 220.8 L1117.4 219.8 L1117.9 218.7 L1118.4 217.5 L1118.9 216.4 L1119.5 215.2 L1120 214 L1120.6 212.8 L1121.2 211.5 L1121.7 210.2 L1122.2 208.9 L1122.7 207.6 L1123.1 206.4 L1123.4 205.1 L1123.7 203.8 L1124 202.4 L1124.3 201.1 L1124.6 199.9 L1124.9 198.7 L1125.2 197.6 L1125.7 196.1 L1126.2 194.7 L1126.7 193.5 L1127.2 192.4 L1127.7 191.3 L1128.5 189.9 L1129.3 188.8 L1130.2 187.6 L1130.9 186.6 L1131.6 185.6 L1132.4 184.5 L1133.2 183.5 L1134 182.6 L1134.9 181.5 L1135.8 180.5 L1136.7 179.6 L1137.7 178.8 L1138.8 178.1 L1140 177.5 L1141.3 177 L1142.7 176.6 L1143.9 176.3 L1145.1 176.1 L1146.5 175.9 L1147.8 175.7 L1149.1 175.4 L1150.2 175.1 L1151.4 174.5 L1152.4 173.8 L1153.4 173.1 L1154.3 172.2 L1155.3 171.3 L1156.1 170.4 L1156.9 169.4 L1157.7 168.4 L1158.5 167.3 L1159.4 166.2 L1160.3 165 L1161 164.2 L1161.8 163.2 L1162.6 162.3 L1163.5 161.4 L1164.3 160.4 L1165.1 159.4 L1165.9 158.5 L1166.5 157.5 L1167.2 156.5 L1167.7 155.4 L1168.1 154.4 L1168.6 153.4 L1169 152.3 L1169.6 151.2 L1170.3 150 L1170.9 149.1 L1171.5 148.1 L1172.2 147 L1172.9 145.9 L1173.7 144.8 L1174.5 143.8 L1175.3 142.7 L1176 141.7 L1176.8 140.8 L1177.6 140 L1178.6 139.1 L1179.7 138.3 L1180.8 137.8 L1181.9 137.2 L1182.9 136.6 L1184 135.9 L1185.1 135 L1185.8 134.2 L1186.6 133.2 L1187.3 132.2 L1188.1 131.2 L1188.8 130.1 L1189.6 128.9 L1190.4 127.9 L1191.1 126.8 L1191.9 125.8 L1192.6 125 L1193.5 124 L1194.5 123.1 L1195.4 122.2 L1196.4 121.4 L1197.3 120.7 L1198.2 120 L1199.2 119.3 L1200.1 118.7 L1201.2 118 L1202.3 117.4 L1203.3 116.9 L1204.4 116.4 L1205.5 115.9 L1206.6 115.5 L1207.6 114.9 L1208.7 114.4 L1209.8 113.8 L1210.9 113.3 L1211.9 112.7 L1213 112.2 L1214.1 111.7 L1215.2 111.2 L1216.4 110.7 L1217.7 110.2 L1219.1 109.7 L1220.3 109.3 L1221.6 108.9 L1222.7 108.7 L1224.1 108.5 L1225.4 108.4 L1226.6 108.5 L1227.7 108.7 L1229.1 109.1 L1230.3 109.7 L1231.4 110.7 L1232 111.5 L1232.5 112.5 L1233 113.6 L1233.5 114.9 L1233.9 116.2 L1234.3 117.6 L1234.6 119.3 L1235 121.1 L1235.3 122.6 L1235.6 123.8 L1235.9 124.2 L1236.3 123.8 L1236.7 122.7 L1237.1 121.2 L1237.5 119.4 L1237.8 117.7 L1238.2 116.2 L1238.5 114.9 L1238.9 113.6 L1239.2 112.3 L1239.5 111 L1239.8 109.8 L1240.2 108.7 L1240.7 107.2 L1241.3 105.9 L1241.9 104.7 L1242.7 103.7 L1243.7 102.9 L1244.9 102.3 L1246.2 101.8 L1247.7 101.2 L1248.7 100.7 L1249.7 100.2 L1250.8 99.6 L1251.9 99.1 L1253 98.5 L1254.1 98 L1255.2 97.4 L1256.3 96.9 L1257.4 96.3 L1258.5 95.7 L1259.5 95.1 L1260.6 94.6 L1261.7 94.1 L1262.7 93.7 L1264 93.3 L1265.3 93 L1266.5 92.7 L1267.8 92.5 L1269 92.2 L1270.3 91.9 L1271.5 91.6 L1272.8 91.2 L1274 90.8 L1275.3 90.4 L1276.5 89.9 L1277.8 89.4 L1278.8 88.9 L1279.9 88.2 L1281 87.6 L1282.1 86.9 L1283.1 86.2 L1284.2 85.5 L1285.3 84.9 L1286.4 84.3 L1287.4 83.6 L1288.5 83 L1289.6 82.4 L1290.7 81.8 L1291.7 81.2 L1292.8 80.6 L1294.1 80 L1295.3 79.5 L1296.6 78.9 L1297.8 78.4 L1299.1 77.9 L1300.3 77.4 L1301.6 76.8 L1302.8 76.2 L1304.1 75.7 L1305.3 75.1 L1306.6 74.6 L1307.8 74.1 L1309.1 73.7 L1310.3 73.4 L1311.6 73.1 L1312.8 72.8 L1314.1 72.6 L1315.4 72.4 L1316.6 72.2 L1317.9 72 L1319.1 71.9 L1320.4 71.8 L1321.6 71.7 L1322.9 71.6 L1324.1 71.5 L1325.4 71.4 L1326.6 71.3 L1327.9 71.2 L1329.1 71.1 L1330.4 71.1 L1331.6 71.1 L1332.9 71.1 L1334.1 71.2 L1335.4 71.2 L1336.6 71.4 L1337.9 71.6 L1339.1 71.9 L1340.4 72.4 L1341.7 72.8 L1342.9 73.3 L1344.2 73.9 L1345.4 74.4 L1346.7 74.8 L1347.9 75.3 L1349.2 75.7 L1350.4 76.2 L1351.7 76.8 L1352.9 77.4 L1354 78 L1355.1 78.7 L1356.1 79.4 L1357.2 80.1 L1358.3 80.9 L1359.4 81.6 L1360.4 82.4 L1361.5 83.1 L1362.6 83.8 L1363.7 84.5 L1364.7 85.2 L1365.8 86 L1366.9 86.7 L1368 87.4 L1369 88.1 L1370.1 88.9 L1371.2 89.6 L1372.3 90.3 L1373.3 91.1 L1374.4 91.8 L1375.5 92.4 L1376.5 93 L1377.6 93.6 L1378.7 94.2 L1379.8 94.7 L1380.8 95.2 L1381.9 95.7 L1383 96.2 L1384.2 96.7 L1385.5 97.2 L1386.7 97.6 L1388 98.1 L1389.2 98.4 L1390.5 98.7 L1391.8 98.8 L1393 98.9 L1394.3 98.9 L1395.5 98.9 L1396.8 98.8 L1398 98.7 L1399.3 98.5 L1400.5 98.4 L1401.8 98.2 L1403 98 L1404.3 97.7 L1405.5 97.4 L1406.8 97.1 L1408 96.6 L1409.3 96.2 L1410.5 95.7 L1411.8 95.3 L1413 94.9 L1414.3 94.6 L1415.6 94.3 L1416.8 94 L1418.1 93.7 L1419.3 93.6 L1420.6 93.7 L1421.8 93.9 L1423.1 94.3 L1424.3 94.8 L1425.6 95.3 L1426.8 95.8 L1428.1 96.2 L1429.3 96.4 L1430.6 96.6 L1431.8 96.7 L1433.1 96.8 L1434.3 96.8 L1435.6 96.7 L1436.8 96.4 L1438.1 96 L1439.3 95.5 L1440.6 95 L1441.9 94.5 L1443.1 94.2 L1444.4 93.9 L1445.6 93.7 L1446.9 93.5 L1448.1 93.4 L1449.4 93.5 L1450.6 93.7 L1451.7 94 L1452.8 94.4 L1454 94.9 L1455.1 95.5 L1456.2 96.1 L1457.2 96.8 L1458.1 97.4 L1459.3 98.3 L1460.3 99.1 L1461.3 100.1 L1462.2 101.2 L1463.1 102.4 L1463.8 103.4 L1464.5 104.5 L1465.2 105.7 L1465.8 107 L1466.5 108.2 L1467.1 109.3 L1467.7 110.4 L1468.2 111.2 L1469.3 113 L1470 113.8 L1471 115.7 L1472 116.8 L1473 118.6 L1474 119.2 L1475 120.2 L1476 121.6 L1477 122 L1478 123.2 L1479 123.1 L1480 122.9 L1481 122.8 L1482 122.4 L1483 122.8 L1484 121.7 L1485 121.3 L1486 120.6 L1487 120.3 L1488 120 L1489 119.6 L1490 118 L1491 116.7 L1492 115.9 L1493 115.7 L1494 114.6 L1495 115.5 L1496 115.5 L1497 116.1 L1498 115.9 L1499 116.5 L1500 116.2 L1501 116.4 L1502 116.8 L1503 116.3 L1504 115.4 L1505 114.9 L1506 116 L1507 114.9 L1508 114.9 L1509 116.5 L1510 116.2" stroke="#9ea8af" stroke-width="1.8"/>
<path d="M901 277.7 L909.1 291.5 L921.6 304 L942.9 300.3 L956.6 296.5 L967.9 289 L979.2 295.3 L991.7 295.3 L1004.2 290.3 L1019.3 270.2 L1030 256.5 L1042.5 247.7 L1055.1 237.7 L1067.6 231.4 L1080.1 223.9 L1088.9 215.1 L1097.6 205.1 L1105.2 196.3 L1115.2 185.1 L1125.2 173.8 L1132.7 165 L1139 157.5 L1147.7 146.2 L1155.3 141.2 L1167.8 132.5 L1191.6 118.7 L1215.2 93.7 L1240.2 78.6 L1252.7 69.9 L1277.8 56.1 L1302.8 49.8 L1320.4 44.8 L1340.4 44.1 L1352.9 52.3 L1365.5 63.6 L1378 78.6 L1390.5 88.6 L1403 93.7 L1415.6 93.7 L1420 95.1 L1421 96 L1422 96.4 L1423 96.1 L1424 97.2 L1425 97.6 L1426 97.7 L1427 98.4 L1428 98.1 L1429 99.2 L1430 98.5 L1431 99.7 L1432 99.7 L1433 99.4 L1434 100.2 L1435 99.9 L1436 100.7 L1437 101.7 L1438 100.8 L1439 101.8 L1440 102.5 L1441 102.8 L1442 101.5 L1443 102.1 L1444 100.9 L1445 101.3 L1446 100.5 L1447 101.7 L1448 101.2 L1449 101.4 L1450 101.9 L1451 99.8 L1452 101.7 L1453 100.4 L1454 100.7 L1455 103.4 L1456 105.8 L1457 105.5 L1458 107.5 L1459 110 L1460 111.5 L1461 112.2 L1462 114.4 L1463 113.1 L1464 116.5 L1465 117.8 L1466 119.5 L1467 119.8 L1468 119.5 L1469 123.3 L1470 124.4 L1471 124.9 L1472 127 L1473 127.3 L1474 128.7 L1475 130.3 L1476 130.5 L1477 132.3 L1478 134.5 L1479 131 L1480 135.1 L1481 135.3 L1482 135.8 L1483 133 L1484 133.2 L1485 136.6 L1486 137.4 L1487 138.4 L1488 135.2 L1489 139.1 L1490 138.4 L1491 139.6 L1492 139.9 L1493 140 L1494 140.7 L1495 141.1 L1496 140.1 L1497 138.5 L1498 139.9 L1499 142 L1500 140 L1501 142.6 L1502 141.9 L1503 139 L1504 138 L1505 141.6 L1506 138.7 L1507 141.4 L1508 141.3 L1509 140.9 L1509 221 L1508 222.2 L1507 220.6 L1506 226.8 L1505 217.8 L1504 217.1 L1503 219.2 L1502 221.1 L1501 218 L1500 215.1 L1499 217.8 L1498 211.4 L1497 208.9 L1496 215 L1495 206.9 L1494 208.4 L1493 203.7 L1492 202.4 L1491 200.2 L1490 199 L1489 198.2 L1488 201 L1487 200.2 L1486 200.9 L1485 194.3 L1484 194.7 L1483 194.3 L1482 194.1 L1481 190.4 L1480 191.8 L1479 191.1 L1478 187.4 L1477 188.7 L1476 185 L1475 185.6 L1474 181.7 L1473 178.5 L1472 174.8 L1471 176.6 L1470 173.7 L1469 170.1 L1468 168.9 L1467 167.1 L1466 166.1 L1465 164.7 L1464 161.1 L1463 160.2 L1462 157.9 L1461 156.4 L1460 157.2 L1459 152.5 L1458 152.2 L1457 152.9 L1456 148.3 L1455 146.4 L1454 145.9 L1453 146.3 L1452 143.1 L1451 144.9 L1450 143.2 L1449 143.3 L1448 144.6 L1447 142 L1446 142.2 L1445 142.3 L1444 141.2 L1443 141.5 L1442 141.5 L1441 143.1 L1440 140.5 L1439 139.9 L1438 140 L1437 138.2 L1436 137.3 L1435 137.3 L1434 136.1 L1433 135.6 L1432 135.9 L1431 133.9 L1430 133.1 L1429 133 L1428 132.8 L1427 132.4 L1426 131.4 L1425 131.2 L1424 130.7 L1423 130.4 L1422 129.3 L1421 129 L1420 128.9 L1410.5 132.5 L1403 131.2 L1390.5 123.7 L1378 112.4 L1365.5 98.7 L1352.9 86.1 L1340.4 74.9 L1315.4 74.9 L1290.3 81.1 L1265.3 93.7 L1240.2 108.7 L1215.2 123.7 L1191.6 155 L1180.3 161.3 L1167.8 170 L1155.3 177.6 L1150.2 180.1 L1145.2 186.3 L1137.7 198.8 L1130.2 208.9 L1122.7 215.1 L1111.4 225.2 L1100.1 240.2 L1092.6 254 L1085.1 262.7 L1067.6 276.5 L1055.1 287.8 L1042.5 302.8 L1030 316.6 L1024.3 322.8 L1004.2 345.4 L991.7 355.4 L979.2 361.7 L967.9 367.9 L951.6 382.9 L942.9 390.5 L921.6 405.5 L901 367.9Z" fill="#9fd0f4" fill-opacity="0.45" stroke="none"/>
<path class="ln" d="M901 322.3 L901.4 323 L901.9 324 L902.5 325.1 L903.1 326.4 L903.8 327.7 L904.5 329.1 L905.2 330.4 L905.9 331.7 L906.5 332.8 L907.2 334 L907.8 335.2 L908.5 336.4 L909.1 337.5 L909.7 338.5 L910.3 339.6 L910.9 340.6 L911.6 341.6 L912.3 342.7 L913 343.8 L913.7 344.8 L914.4 345.8 L915.1 346.7 L915.8 347.6 L916.6 348.4 L917.6 349.4 L918.6 350.3 L919.6 351.1 L920.6 351.8 L921.6 352.4 L922.8 353.1 L924.1 353.6 L925.3 354 L926.6 354.4 L927.8 354.6 L929.1 354.8 L930.3 354.9 L931.6 354.9 L932.8 354.8 L934.1 354.7 L935.4 354.5 L936.6 354.1 L937.9 353.7 L939.1 353.1 L940.4 352.4 L941.6 351.6 L942.6 351 L943.6 350.3 L944.6 349.5 L945.6 348.7 L946.6 347.9 L947.6 347 L948.6 346 L949.6 345 L950.6 344 L951.6 342.9 L952.5 341.9 L953.3 340.8 L954.1 339.7 L955 338.6 L955.8 337.6 L956.6 336.6 L957.6 335.5 L958.6 334.4 L959.7 333.4 L960.7 332.5 L961.7 331.6 L962.9 330.6 L964.2 329.7 L965.4 329 L966.7 328.3 L967.9 327.9 L969.2 327.6 L970.4 327.5 L971.7 327.3 L972.9 327.3 L974.2 327.3 L975.4 327.4 L976.7 327.3 L977.9 327.2 L979.2 327.1 L980.4 326.9 L981.7 326.6 L982.9 326.2 L984.2 325.8 L985.5 325.3 L986.7 324.8 L988 324.4 L989.2 324 L990.5 323.5 L991.7 322.8 L992.7 322.2 L993.7 321.5 L994.7 320.7 L995.7 319.9 L996.7 319.1 L997.7 318.3 L998.7 317.4 L999.7 316.6 L1000.7 315.7 L1001.7 314.8 L1002.7 313.9 L1003.7 313 L1004.7 312.2 L1005.7 311.2 L1006.7 310.3 L1007.7 309.4 L1008.7 308.4 L1009.8 307.4 L1010.8 306.4 L1011.8 305.3 L1012.6 304.3 L1013.4 303.3 L1014.3 302.3 L1015.1 301.3 L1015.9 300.2 L1016.8 299 L1017.5 298 L1018.2 296.9 L1018.9 295.8 L1019.6 294.6 L1020.3 293.5 L1021.1 292.5 L1021.8 291.5 L1022.8 290.4 L1023.8 289.3 L1024.8 288.4 L1025.8 287.5 L1026.8 286.5 L1027.8 285.5 L1028.8 284.4 L1029.7 283.4 L1030.7 282.4 L1031.8 281.5 L1032.8 280.8 L1033.8 280.3 L1034.9 279.7 L1036.1 279 L1037.5 277.8 L1038.2 277.1 L1039 276.2 L1039.8 275.3 L1040.6 274.3 L1041.5 273.2 L1042.4 272.2 L1043.3 271.1 L1044.2 270 L1045.1 269 L1046 268.1 L1046.8 267.2 L1047.5 266.5 L1048.7 265.5 L1049.9 264.7 L1050.9 264.1 L1052 263.6 L1053 263.2 L1054 262.7 L1055.1 262.1 L1056.1 261.5 L1057.1 260.8 L1058.1 260.2 L1059.2 259.6 L1060.2 258.9 L1061.4 258.3 L1062.6 257.7 L1063.7 257.2 L1065 256.8 L1066.2 256.4 L1067.6 256 L1068.9 255.6 L1070.2 255.1 L1071.4 254.6 L1072.6 254 L1073.6 253.2 L1074.6 252.3 L1075.5 251.4 L1076.4 250.4 L1077.3 249.4 L1078.2 248.4 L1079.1 247.4 L1080.1 246.4 L1081 245.6 L1082 244.9 L1082.9 244.1 L1083.9 243.4 L1084.9 242.6 L1085.9 241.8 L1086.9 240.9 L1087.9 240 L1088.9 238.9 L1089.6 238.1 L1090.3 237.1 L1091.1 236.1 L1091.8 235 L1092.6 233.9 L1093.3 232.8 L1094.1 231.7 L1094.8 230.6 L1095.5 229.5 L1096.2 228.4 L1096.9 227.4 L1097.6 226.4 L1098.4 225.3 L1099.2 224.3 L1099.9 223.3 L1100.6 222.3 L1101.3 221.4 L1102 220.5 L1102.8 219.5 L1103.5 218.5 L1104.3 217.5 L1105.2 216.4 L1105.8 215.5 L1106.6 214.6 L1107.3 213.6 L1108 212.7 L1108.8 211.7 L1109.6 210.7 L1110.4 209.7 L1111.2 208.7 L1112 207.7 L1112.8 206.7 L1113.6 205.7 L1114.4 204.8 L1115.2 203.9 L1116 202.9 L1116.9 201.9 L1117.7 200.9 L1118.6 199.9 L1119.5 198.9 L1120.3 198 L1121.2 197 L1122 196.1 L1122.9 195.2 L1123.7 194.3 L1124.4 193.4 L1125.2 192.6 L1126.1 191.5 L1127.1 190.4 L1127.9 189.4 L1128.8 188.4 L1129.6 187.5 L1130.4 186.6 L1131.2 185.6 L1131.9 184.7 L1132.7 183.8 L1133.5 182.9 L1134.3 182 L1135 181.1 L1135.8 180.3 L1136.5 179.4 L1137.3 178.5 L1138.1 177.5 L1139 176.3 L1139.6 175.4 L1140.3 174.4 L1141 173.3 L1141.8 172.2 L1142.5 171 L1143.3 169.8 L1144 168.6 L1144.8 167.5 L1145.6 166.4 L1146.3 165.4 L1147 164.5 L1147.7 163.8 L1148.9 162.8 L1150 162.1 L1151.1 161.6 L1152.2 161.3 L1153.2 160.9 L1154.3 160.5 L1155.3 160 L1156.4 159.3 L1157.5 158.4 L1158.5 157.6 L1159.6 156.7 L1160.6 155.9 L1161.5 155 L1162.6 154 L1163.7 153 L1164.7 152 L1165.6 151 L1166.5 150 L1167.3 149 L1167.9 147.9 L1168.4 146.9 L1169.1 145.9 L1170.1 145 L1170.9 144.4 L1171.9 143.8 L1173 143.3 L1174.1 142.8 L1175.3 142.3 L1176.5 141.8 L1177.6 141.3 L1178.6 140.8 L1179.7 140.4 L1180.8 140 L1181.9 139.6 L1182.9 139.1 L1184 138.4 L1185.1 137.5 L1185.8 136.7 L1186.5 135.8 L1187.1 134.9 L1187.8 133.8 L1188.5 132.7 L1189.2 131.5 L1189.9 130.4 L1190.6 129.2 L1191.2 128.1 L1191.9 127.1 L1192.6 126.2 L1193.5 125.1 L1194.5 124 L1195.4 123 L1196.4 122.1 L1197.3 121.2 L1198.2 120.3 L1199.2 119.5 L1200.1 118.7 L1201.2 117.9 L1202.3 117.1 L1203.3 116.4 L1204.4 115.7 L1205.5 115.1 L1206.6 114.4 L1207.6 113.7 L1208.7 113 L1209.8 112.2 L1210.9 111.5 L1211.9 110.8 L1213 110.1 L1214.1 109.4 L1215.2 108.7 L1216.2 108 L1217.3 107.3 L1218.4 106.6 L1219.5 106 L1220.6 105.3 L1221.7 104.7 L1222.7 104.2 L1224 103.4 L1225.4 102.6 L1226.7 101.9 L1227.9 101.4 L1228.9 101.2 L1230.3 101.8 L1231.4 102.9 L1232.7 103.2 L1233.4 102.7 L1234.2 101.8 L1235 100.8 L1235.8 99.7 L1236.7 98.5 L1237.7 97.4 L1238.5 96.6 L1239.4 95.8 L1240.3 95 L1241.3 94.2 L1242.3 93.3 L1243.3 92.6 L1244.3 91.8 L1245.2 91.2 L1246.3 90.5 L1247.4 89.9 L1248.4 89.4 L1249.5 88.9 L1250.6 88.4 L1251.7 87.9 L1252.7 87.4 L1253.8 86.8 L1254.9 86.3 L1255.9 85.7 L1257 85.1 L1258.1 84.5 L1259.2 83.8 L1260.2 83.1 L1261.3 82.4 L1262.4 81.6 L1263.5 80.7 L1264.5 79.9 L1265.6 79 L1266.7 78.2 L1267.8 77.4 L1268.8 76.6 L1269.9 75.9 L1271 75.1 L1272 74.4 L1273.1 73.7 L1274.2 73 L1275.3 72.4 L1276.3 71.8 L1277.4 71.2 L1278.5 70.6 L1279.6 70.1 L1280.6 69.6 L1281.7 69.1 L1282.8 68.6 L1284 68 L1285.3 67.5 L1286.5 66.9 L1287.8 66.4 L1289 66 L1290.3 65.6 L1291.6 65.3 L1292.8 65 L1294.1 64.8 L1295.3 64.7 L1296.6 64.5 L1297.8 64.3 L1299.1 64.2 L1300.3 64.1 L1301.6 64.1 L1302.8 64 L1304.1 63.8 L1305.3 63.6 L1306.6 63.2 L1307.8 62.7 L1309.1 62.1 L1310.3 61.6 L1311.6 61 L1312.8 60.6 L1314.1 60.2 L1315.4 59.9 L1316.6 59.6 L1317.9 59.4 L1319.1 59.2 L1320.4 59.1 L1321.6 59 L1322.9 59 L1324.1 59.1 L1325.4 59.2 L1326.6 59.3 L1327.9 59.3 L1329.2 59.4 L1330.5 59.5 L1331.9 59.6 L1333.2 59.8 L1334.4 59.8 L1335.4 59.8 L1336.9 59.6 L1338 59.2 L1339.1 59.1 L1340.4 59.5 L1341.6 60.2 L1342.9 61.1 L1343.8 61.7 L1344.8 62.4 L1345.9 63.2 L1346.9 64 L1347.9 64.8 L1348.9 65.8 L1349.9 66.8 L1350.9 67.8 L1351.9 68.8 L1352.9 69.9 L1353.9 70.9 L1354.9 71.9 L1355.9 72.9 L1356.9 73.9 L1357.9 74.9 L1358.9 75.9 L1359.9 76.9 L1360.9 77.9 L1361.9 78.9 L1362.9 79.9 L1363.9 80.9 L1364.9 81.8 L1366 82.8 L1367 83.8 L1368 84.9 L1368.8 85.8 L1369.6 86.8 L1370.5 87.7 L1371.3 88.7 L1372.1 89.7 L1373 90.6 L1373.8 91.6 L1374.6 92.5 L1375.5 93.5 L1376.3 94.4 L1377.1 95.3 L1378 96.2 L1379 97.2 L1380 98.2 L1381 99.2 L1382 100.2 L1383 101.2 L1384 102.1 L1385 103 L1386 103.9 L1387 104.8 L1388 105.7 L1389 106.6 L1390 107.4 L1391 108.3 L1392 109.1 L1393 109.9 L1394 110.7 L1395 111.5 L1396 112.3 L1397 113 L1398 113.7 L1399.3 114.5 L1400.7 115.2 L1401.9 115.7 L1403 116.2 L1404.4 116.8 L1405.5 116.7 L1406.3 116.2 L1407.2 115.3 L1408.1 114.4 L1409.3 113.7 L1410.4 113.2 L1411.7 112.7 L1413.1 112.3 L1414.4 112 L1415.6 111.9 L1417.1 112.5 L1418.4 113.5 L1419.3 114.2 L1423.1 116.2 L1428.1 118.2 L1431.8 120.7 L1435.6 124.2 L1439.3 123.7 L1443.1 126.2 L1446.9 125.7 L1450 127 L1450.5 127 L1451 127.1 L1451.5 125.6 L1452 125.5 L1452.5 124.5 L1453 123.2 L1453.5 123.4 L1454 122.1 L1454.5 122.2 L1455 121.1 L1455.5 120.6 L1456 121.8 L1456.5 123.6 L1457 123.2 L1457.5 124.4 L1458 126.2 L1458.5 128.3 L1459 129 L1459.5 130.1 L1460 132.9 L1460.5 132.2 L1461 135.5 L1461.5 135.4 L1462 136.2 L1462.5 137.4 L1463 139.1 L1463.5 141 L1464 139.5 L1464.5 140.9 L1465 141.3 L1465.5 140.8 L1466 142.4 L1466.5 142.5 L1467 143.9 L1467.5 145.9 L1468 148.9 L1468.5 149.2 L1469 149.8 L1469.5 151.7 L1470 152.3 L1470.5 152.8 L1471 154.9 L1471.5 154.8 L1472 153.3 L1472.5 154.7 L1473 154.7 L1473.5 156.2 L1474 155.8 L1474.5 154.3 L1475 157.8 L1475.5 155.1 L1476 157.1 L1476.5 159.2 L1477 157.5 L1477.5 159.9 L1478 158.9 L1478.5 162.7 L1479 164.1 L1479.5 164.2 L1480 166.4 L1480.5 164.5 L1481 167.1 L1481.5 167.3 L1482 167.8 L1482.5 166.5 L1483 167.6 L1483.5 167.4 L1484 164.3 L1484.5 164.9 L1485 164.1 L1485.5 169.6 L1486 171.6 L1486.5 175.7 L1487 176.6 L1487.5 172 L1488 170.7 L1488.5 170.6 L1489 165.2 L1489.5 165.8 L1490 161 L1490.5 157.5 L1491 154.1 L1491.5 155.7 L1492 155.5 L1492.5 159.8 L1493 164.2 L1493.5 170.3 L1494 168.5 L1494.5 173.7 L1495 177.4 L1495.5 182.5 L1496 181.9 L1496.5 179.7 L1497 173.5 L1497.5 171.8 L1498 168.3 L1498.5 168.3 L1499 165.2 L1499.5 156.7 L1500 161.9 L1500.5 167.3 L1501 172.3 L1501.5 176.9 L1502 178.9 L1502.5 177.9 L1503 177.4 L1503.5 179.1 L1504 175.6 L1504.5 173.8 L1505 173.3 L1505.5 172.8 L1506 176.6 L1506.5 182.3 L1507 187.5 L1507.5 181.8 L1508 186.2 L1508.5 183.9 L1509 186 L1509.5 189.5 L1510 191.4" stroke="#1581e0" stroke-width="2.3"/>
<path d="M901 296.5 L921.6 331.6 L942.9 316.6 L956.6 305.3 L969.2 316.6 L981.7 292.8 L993.5 275.2 L1004.2 290.3 L1014.3 287.8 L1026.8 258.9 L1030 262.7 L1042.5 245.2 L1055.1 226.4 L1071.3 212.6 L1080.1 210.1 L1085.1 200.1 L1092.6 191.3 L1100.1 181.3 L1110.2 176.3 L1117.7 165 L1125.2 157.5 L1130.2 150 L1140 141.2 L1155.3 131.2 L1167.8 124.9 L1180.3 117.4 L1191.6 108.7 L1202.6 86.1 L1215.2 74.9 L1227.7 67.4 L1240.2 63.6 L1252.7 61.6 L1265.3 60.6 L1277.8 63.6 L1290.3 62.3 L1302.8 64.8 L1315.4 72.4 L1327.9 81.1 L1340.4 91.2 L1352.9 98.7 L1365.5 111.2 L1378 123.7 L1390.5 133.7 L1403 140 L1410.5 140 L1420.6 133.7 L1430 135 L1431 135.1 L1432 135.8 L1433 136.5 L1434 137.3 L1435 137.4 L1436 138 L1437 139 L1438 139.7 L1439 140.5 L1440 141.2 L1441 141.6 L1442 141.7 L1443 142.6 L1444 142 L1445 143.4 L1446 143.8 L1447 144.3 L1448 142.8 L1449 144.1 L1450 144 L1451 145.2 L1452 146.4 L1453 146.6 L1454 147.8 L1455 150 L1456 149.4 L1457 153.1 L1458 155 L1459 155 L1460 158.4 L1461 157.7 L1462 161.7 L1463 163.4 L1464 166 L1465 167.7 L1466 170.3 L1467 172.4 L1468 171.8 L1469 176.2 L1470 176.3 L1471 180.1 L1472 177.9 L1473 179.7 L1474 181.9 L1475 183 L1476 185.3 L1477 185.7 L1478 189 L1479 189.5 L1480 188.7 L1481 192.5 L1482 189.3 L1483 190.1 L1484 193.5 L1485 194.2 L1486 194.4 L1487 195.1 L1488 191.3 L1489 196.2 L1490 197.3 L1491 197.8 L1492 195.6 L1493 193.2 L1494 197.8 L1495 198.2 L1496 198.2 L1497 197.1 L1498 200.3 L1499 199 L1500 199.7 L1501 199.5 L1502 201.3 L1503 201.2 L1504 200.6 L1505 196 L1506 200.3 L1507 198.8 L1508 200.2 L1509 200.5 L1509.9 280.3 L1508.9 300.4 L1507.9 345.5 L1506.4 325.4 L1505.4 390.6 L1504.4 325.4 L1502.9 290.4 L1500.4 280.3 L1498.7 310.4 L1496.2 282.8 L1492.9 275.3 L1491.1 300.4 L1488.6 280.3 L1486.1 267.8 L1482.9 275.3 L1481.1 302.9 L1478.6 280.3 L1476.6 270.3 L1475.4 327.9 L1474.4 275.3 L1472.4 245.2 L1469.8 250.3 L1467.3 227.7 L1463.6 225.2 L1461.8 255.3 L1459.8 232.7 L1457.3 225.2 L1455.6 260.3 L1454.3 210.2 L1453.1 250.3 L1451.8 225.2 L1448.5 200.1 L1439.8 187.6 L1429.7 181.3 L1419.7 187.6 L1412.2 200.1 L1405.9 207.6 L1399.7 201.4 L1398 200.1 L1390.5 195.1 L1378 182.6 L1365.5 166.3 L1352.9 155 L1340.4 141.3 L1327.9 116.2 L1310.3 93.7 L1290.3 83.6 L1265.3 83.6 L1240.2 101.2 L1215.2 111.2 L1197.6 136.2 L1191.6 150 L1184.1 175.1 L1181.6 193.8 L1175.3 200.1 L1172.2 210.1 L1167.8 190.1 L1162.8 193.8 L1157.8 204.5 L1154 188.8 L1147.7 186.3 L1142.7 176.3 L1136.5 172.5 L1125.2 175.1 L1115.2 185.1 L1107.7 195.1 L1097.6 206.4 L1088.9 220.1 L1080.1 236.4 L1071.3 245.2 L1065.1 256.5 L1060.1 275.3 L1055.1 287.8 L1042.5 310.3 L1030 345.4 L1026.8 350.4 L1005.5 365.4 L993 332.8 L981.7 355.4 L967.9 394.2 L951.6 370.4 L942.9 410.5 L921.6 410.5 L901 389.2Z" fill="#f2b3bc" fill-opacity="0.45" stroke="none"/>
<path class="ln" d="M901 342.9 L901.5 343.6 L902 344.5 L902.7 345.6 L903.5 346.8 L904.3 348.1 L905.1 349.3 L905.8 350.5 L906.5 351.6 L907.3 352.8 L908 353.9 L908.7 355 L909.4 356.1 L910.1 357.1 L910.8 358.2 L911.6 359.1 L912.4 360.3 L913.2 361.4 L914.1 362.5 L914.9 363.6 L915.7 364.5 L916.6 365.4 L917.6 366.3 L918.6 367.2 L919.6 367.9 L920.6 368.5 L921.6 369.2 L922.8 369.9 L924.1 370.6 L925.3 371.2 L926.6 371.7 L927.8 372 L929.1 372.1 L930.3 372.1 L931.6 371.9 L932.8 371.6 L934.1 371 L935.4 370.3 L936.6 369.2 L937.3 368.4 L938 367.4 L938.8 366.3 L939.5 365.2 L940.2 364 L940.9 362.8 L941.6 361.7 L942.2 360.6 L942.9 359.5 L943.5 358.3 L944.1 357.2 L944.7 356 L945.4 354.9 L946 353.9 L946.6 352.9 L947.5 351.6 L948.3 350.4 L949.1 349.3 L950 348.2 L950.8 347.3 L951.6 346.6 L952.9 345.9 L954.1 345.5 L955.4 345.4 L956.6 345.4 L957.9 345.5 L959.2 345.9 L960.4 346.3 L961.7 346.6 L962.9 347 L964.2 347.4 L965.4 347.6 L966.7 347.4 L967.7 346.9 L968.7 346.2 L969.7 345.3 L970.7 344.2 L971.7 342.9 L972.2 342 L972.8 341 L973.3 340 L973.9 338.9 L974.5 337.7 L975 336.5 L975.6 335.3 L976.1 334 L976.7 332.8 L977.2 331.8 L977.7 330.6 L978.2 329.5 L978.7 328.3 L979.2 327.1 L979.7 326 L980.2 324.8 L980.7 323.7 L981.2 322.6 L981.7 321.6 L982.3 320.3 L982.9 319.1 L983.6 317.8 L984.2 316.7 L984.8 315.6 L985.5 314.5 L986.1 313.6 L986.7 312.8 L988 311.5 L989.2 310.6 L990.5 310 L991.7 309.8 L993 310 L994.2 310.6 L995.5 311.6 L996.7 312.8 L997.4 313.7 L998.2 314.7 L998.9 315.9 L999.6 317.1 L1000.3 318.3 L1001 319.4 L1001.7 320.3 L1002.7 321.5 L1003.7 322.5 L1004.7 323.4 L1005.7 324.1 L1006.7 324.6 L1008 324.9 L1009.3 325 L1010.5 324.7 L1011.8 324.1 L1012.6 323.4 L1013.4 322.6 L1014.3 321.5 L1015.1 320.4 L1015.9 319.1 L1016.8 317.8 L1017.3 316.9 L1017.9 315.8 L1018.4 314.8 L1019 313.6 L1019.5 312.5 L1020.1 311.3 L1020.7 310.1 L1021.2 308.9 L1021.8 307.8 L1022.3 306.7 L1022.9 305.5 L1023.4 304.3 L1024 303.1 L1024.6 302 L1025.1 300.8 L1025.7 299.7 L1026.2 298.7 L1026.8 297.8 L1027.6 296.5 L1028.5 295.3 L1029.3 294.3 L1030.1 293.3 L1031 292.4 L1031.8 291.5 L1032.8 290.6 L1033.8 289.9 L1034.8 289.3 L1035.8 288.6 L1036.8 287.8 L1037.7 286.8 L1038.6 285.8 L1039.5 284.6 L1040.4 283.5 L1041.2 282.4 L1041.8 281.5 L1042.4 280.3 L1042.6 279.5 L1043.2 277.8 L1043.5 276.9 L1043.8 276 L1044.2 274.9 L1044.7 273.8 L1045.1 272.6 L1045.6 271.4 L1046.1 270.1 L1046.6 268.9 L1047.1 267.6 L1047.5 266.5 L1048 265.3 L1048.5 264.2 L1049 263 L1049.5 261.9 L1050 260.7 L1050.5 259.5 L1051 258.4 L1051.5 257.3 L1052 256.2 L1052.5 255.2 L1053.2 254 L1053.8 252.8 L1054.4 251.7 L1055 250.7 L1055.6 249.6 L1056.2 248.6 L1056.9 247.5 L1057.6 246.4 L1058.3 245.3 L1059 244.2 L1059.8 243 L1060.6 241.9 L1061.4 240.8 L1062.2 239.7 L1063 238.7 L1063.8 237.7 L1064.7 236.6 L1065.6 235.6 L1066.5 234.7 L1067.4 233.8 L1068.3 232.9 L1069.2 232.2 L1070.1 231.4 L1071.1 230.7 L1072.2 230 L1073.3 229.5 L1074.3 228.9 L1075.4 228.3 L1076.3 227.7 L1077.4 226.8 L1078.4 225.9 L1079.4 225 L1080.4 223.9 L1081.4 222.6 L1082 221.7 L1082.6 220.7 L1083.2 219.6 L1083.8 218.5 L1084.4 217.3 L1085 216.2 L1085.7 215 L1086.4 213.9 L1087.1 212.8 L1087.9 211.6 L1088.7 210.5 L1089.5 209.4 L1090.3 208.3 L1091.1 207.2 L1091.9 206.1 L1092.6 205.1 L1093.4 204 L1094.1 203 L1094.9 201.9 L1095.6 200.9 L1096.2 200 L1096.9 199.1 L1097.6 198.2 L1098.6 197.1 L1099.6 196.1 L1100.6 195.1 L1101.6 194.1 L1102.6 193.2 L1103.6 192.5 L1104.7 191.8 L1105.8 191.1 L1106.9 190.4 L1107.9 189.7 L1108.9 188.8 L1109.8 187.9 L1110.7 186.9 L1111.5 185.9 L1112.3 184.8 L1113.1 183.7 L1113.9 182.6 L1114.6 181.5 L1115.3 180.5 L1116 179.4 L1116.7 178.2 L1117.4 177.1 L1118.1 176.1 L1118.9 175.1 L1119.8 174.1 L1120.6 173.2 L1121.5 172.3 L1122.4 171.4 L1123.4 170.5 L1124.3 169.7 L1125.2 168.8 L1126.1 167.9 L1127 166.9 L1127.9 165.9 L1128.9 164.9 L1129.8 164 L1130.6 163.2 L1131.5 162.5 L1132.8 161.6 L1134 160.9 L1135.2 160.4 L1136.5 160 L1137.6 159.8 L1138.9 159.8 L1140.2 159.8 L1141.5 159.9 L1142.7 160 L1144 160.1 L1145.3 160.3 L1146.6 160.5 L1147.8 160.7 L1149 161 L1150.4 161.5 L1151.6 162 L1152.9 162.6 L1154 163.2 L1155.3 164.2 L1156.5 165.2 L1157.8 165.7 L1158.7 165.3 L1159.5 164.6 L1160.4 163.7 L1161.5 162.5 L1162.2 161.7 L1163 160.6 L1163.8 159.5 L1164.7 158.3 L1165.5 157.3 L1166.4 156.6 L1167.1 156.3 L1168.2 156.7 L1169.2 157.8 L1170.1 159.3 L1171.1 160.5 L1172.2 161 L1173.1 160.8 L1174 160.2 L1175 159.3 L1176 158.3 L1176.9 157.3 L1177.8 156.3 L1178.6 155.4 L1179.3 154.6 L1180 153.7 L1180.7 152.7 L1181.4 151.5 L1182.2 150 L1182.6 149.1 L1183 148.1 L1183.5 147.1 L1183.9 145.9 L1184.4 144.7 L1184.8 143.5 L1185.3 142.3 L1185.8 141 L1186.2 139.8 L1186.7 138.5 L1187.2 137.4 L1187.6 136.2 L1188.1 135 L1188.5 133.8 L1189 132.6 L1189.4 131.4 L1189.9 130.3 L1190.4 129.1 L1190.8 127.9 L1191.2 126.8 L1191.7 125.7 L1192.2 124.7 L1192.6 123.7 L1193.2 122.4 L1193.9 121.3 L1194.5 120.2 L1195.1 119.1 L1195.7 118.1 L1196.4 117.1 L1197 116 L1197.6 114.9 L1198.2 113.8 L1198.9 112.7 L1199.5 111.6 L1200.1 110.5 L1200.7 109.4 L1201.4 108.3 L1202 107.2 L1202.6 106.2 L1203.3 105 L1204.1 103.9 L1204.8 102.8 L1205.5 101.7 L1206.2 100.7 L1206.9 99.7 L1207.6 98.7 L1208.5 97.5 L1209.3 96.4 L1210.1 95.3 L1211 94.3 L1211.8 93.3 L1212.6 92.4 L1213.6 91.4 L1214.6 90.5 L1215.7 89.6 L1216.7 88.9 L1217.7 88.1 L1218.9 87.4 L1220.2 86.7 L1221.4 86.1 L1222.7 85.6 L1223.9 85.2 L1225.2 84.8 L1226.4 84.5 L1227.7 84.4 L1228.9 84.5 L1230.2 84.7 L1231.4 85.1 L1232.7 85.6 L1233.9 86.3 L1235.2 87.2 L1236.4 88.1 L1237.7 88.6 L1238.9 88.9 L1240.2 89.1 L1241.5 89 L1242.7 88.6 L1243.7 88.2 L1244.7 87.5 L1245.7 86.7 L1246.7 85.8 L1247.7 84.9 L1248.7 84 L1249.7 83 L1250.7 81.9 L1251.7 80.9 L1252.7 79.9 L1253.7 78.9 L1254.7 77.8 L1255.7 76.8 L1256.7 75.8 L1257.7 74.9 L1258.7 73.9 L1259.7 73 L1260.7 72.1 L1261.7 71.3 L1262.7 70.6 L1264 69.9 L1265.3 69.3 L1266.5 68.9 L1267.8 68.6 L1269 68.5 L1270.3 68.6 L1271.5 68.9 L1272.8 69.4 L1273.8 69.9 L1274.8 70.7 L1275.8 71.6 L1276.8 72.4 L1277.8 73.1 L1279 73.9 L1280.3 74.7 L1281.5 75.3 L1282.8 75.6 L1284 75.6 L1285.3 75.2 L1286.5 74.7 L1287.8 74.1 L1288.8 73.5 L1289.8 72.7 L1290.8 71.9 L1291.8 71.1 L1292.8 70.6 L1294.1 70.3 L1295.3 70.3 L1296.6 70.4 L1297.8 70.6 L1299.1 70.8 L1300.3 71.2 L1301.6 71.7 L1302.8 72.4 L1303.8 73.2 L1304.8 74.1 L1305.8 75.2 L1306.8 76.3 L1307.8 77.4 L1308.8 78.4 L1309.8 79.4 L1310.8 80.4 L1311.8 81.4 L1312.8 82.4 L1313.8 83.3 L1314.8 84.2 L1315.9 85.1 L1316.9 86 L1317.9 86.9 L1318.9 87.7 L1319.9 88.5 L1320.9 89.2 L1321.9 90.1 L1322.9 91.2 L1323.6 92 L1324.3 93 L1325 94.1 L1325.7 95.2 L1326.4 96.3 L1327.2 97.5 L1327.9 98.7 L1328.5 99.7 L1329.1 100.8 L1329.8 102 L1330.4 103.1 L1331 104.3 L1331.6 105.4 L1332.3 106.4 L1332.9 107.4 L1333.7 108.6 L1334.6 109.7 L1335.4 110.7 L1336.2 111.7 L1337.1 112.7 L1337.9 113.7 L1338.7 114.8 L1339.6 115.8 L1340.4 116.9 L1341.2 118 L1342.1 119 L1342.9 120 L1343.9 121.1 L1344.9 122.2 L1345.9 123.3 L1346.9 124.2 L1347.9 125 L1349.2 125.6 L1350.4 125.9 L1351.7 126 L1352.9 126.2 L1354.2 126.3 L1355.4 126.2 L1356.7 126.2 L1357.9 126.7 L1358.8 127.4 L1359.6 128.2 L1360.4 129.2 L1361.3 130.3 L1362.1 131.4 L1362.9 132.5 L1363.8 133.5 L1364.6 134.5 L1365.5 135.6 L1366.3 136.6 L1367.1 137.7 L1368 138.7 L1368.8 139.8 L1369.6 140.8 L1370.5 141.9 L1371.3 142.9 L1372.1 144 L1373 145 L1373.8 146.1 L1374.6 147.1 L1375.5 148.1 L1376.3 149.2 L1377.1 150.2 L1378 151.3 L1378.8 152.3 L1379.6 153.4 L1380.5 154.5 L1381.3 155.5 L1382.2 156.6 L1383 157.5 L1384 158.6 L1385 159.7 L1386 160.7 L1387 161.6 L1388 162.5 L1389 163.4 L1390 164.1 L1391 164.9 L1392 165.6 L1393 166.3 L1394.1 167.1 L1395.3 168 L1396.4 168.8 L1397.3 169.5 L1398 170.1 L1401.8 168.8 L1405.5 175.1 L1409.3 172.6 L1413 168.8 L1415.6 163.8 L1419.3 159.5 L1423.1 161.3 L1426.8 159.3 L1430.6 157.5 L1434.3 161.3 L1438.1 163.8 L1440 165.4 L1440.5 165.7 L1441 165.3 L1441.5 165.1 L1442 164.8 L1442.5 166.7 L1443 166.6 L1443.5 167.8 L1444 167.2 L1444.5 168.6 L1445 167.7 L1445.5 169.5 L1446 169.4 L1446.5 168.6 L1447 168.9 L1447.5 169.3 L1448 168.5 L1448.5 171.2 L1449 173.5 L1449.5 173.4 L1450 178.5 L1450.5 184.1 L1451 190.7 L1451.5 192.2 L1452 194.4 L1452.5 198.1 L1453 196.6 L1453.5 193.8 L1454 191 L1454.5 189.9 L1455 189.4 L1455.5 184.8 L1456 184.2 L1456.5 179.5 L1457 174.6 L1457.5 177.6 L1458 184.9 L1458.5 195.9 L1459 201.3 L1459.5 204.5 L1460 207.8 L1460.5 206.5 L1461 205.5 L1461.5 204.9 L1462 198.8 L1462.5 198.8 L1463 198.3 L1463.5 195 L1464 194.7 L1464.5 190.4 L1465 194.4 L1465.5 195.7 L1466 196.6 L1466.5 202.7 L1467 203.4 L1467.5 204.6 L1468 207.9 L1468.5 207.8 L1469 208.2 L1469.5 211.7 L1470 210.4 L1470.5 206.1 L1471 212 L1471.5 209.2 L1472 212.9 L1472.5 218.6 L1473 220.2 L1473.5 221.6 L1474 226.2 L1474.5 232.5 L1475 241 L1475.5 258.9 L1476 245.2 L1476.5 240.8 L1477 238 L1477.5 232.4 L1478 237.9 L1478.5 234.4 L1479 241 L1479.5 241.9 L1480 242.1 L1480.5 246.2 L1481 245.5 L1481.5 249.3 L1482 249.5 L1482.5 247.1 L1483 243.8 L1483.5 242.6 L1484 238.1 L1484.5 233.6 L1485 236.9 L1485.5 232.2 L1486 232.9 L1486.5 234.2 L1487 228.4 L1487.5 226.6 L1488 228.4 L1488.5 233.2 L1489 232.3 L1489.5 232.4 L1490 235.8 L1490.5 244.3 L1491 243.1 L1491.5 243.3 L1492 243.8 L1492.5 238.2 L1493 232.7 L1493.5 232 L1494 233 L1494.5 232.5 L1495 237.2 L1495.5 239.5 L1496 247 L1496.5 241.3 L1497 240.8 L1497.5 240.8 L1498 240.9 L1498.5 236.4 L1499 241 L1499.5 242.1 L1500 246.3 L1500.5 249.6 L1501 248.5 L1501.5 246.6 L1502 240.1 L1502.5 237.5 L1503 244.6 L1503.5 244.3 L1504 247.8 L1504.5 261.2 L1505 279.2 L1505.5 298.3 L1506 283.4 L1506.5 280.1 L1507 273.8 L1507.5 269.2 L1508 272.9 L1508.5 283.1 L1509 273.1 L1509.5 258.3 L1509.9 249" stroke="#e03c4e" stroke-width="2.3"/>
</g>
<path class="ax" d="M891.3 26.4 V413.1 H1509.8 M891.3 26.4 h7.2 M891.3 65 h2.8 M891.3 103.7 h7.2 M891.3 142.4 h2.8 M891.3 181 h7.2 M891.3 219.7 h2.8 M891.3 258.4 h7.2 M891.3 297.1 h2.8 M891.3 335.8 h7.2 M891.3 374.4 h2.8 M965.3 413.1 v-3 M1017.6 413.1 v-3 M1058.2 413.1 v-3 M1091.3 413.1 v-3 M1119.4 413.1 v-3 M1143.6 413.1 v-3 M1165 413.1 v-3 M1184.2 413.1 v-7.2 M1310.2 413.1 v-3 M1383.9 413.1 v-3 M1436.2 413.1 v-3 M1476.8 413.1 v-3 M1509.9 413.1 v-3"/>
<text class="tk" transform="translate(882.1 35) scale(1 1.06)" text-anchor="end">0</text>
<text class="tk" transform="translate(882.1 112.3) scale(1 1.06)" text-anchor="end">−2</text>
<text class="tk" transform="translate(882.1 189.6) scale(1 1.06)" text-anchor="end">−4</text>
<text class="tk" transform="translate(882.1 267) scale(1 1.06)" text-anchor="end">−6</text>
<text class="tk" transform="translate(882.1 344.4) scale(1 1.06)" text-anchor="end">−8</text>
<text class="tk" transform="translate(882.1 421.7) scale(1 1.06)" text-anchor="end">−10</text>
<text class="tk" transform="translate(1184.6 443) scale(1 1.06)" text-anchor="middle">1000</text>
<text class="al" x="1200.5" y="488" text-anchor="middle">Frequency (Hz)</text>
<text class="al" transform="translate(818.3 219) rotate(-90)" text-anchor="middle">Transmittance</text>
<text class="pl" x="758.2" y="34.2">C</text>
</g>
<g id="panel-D">
<clipPath id="clipD"><rect x="873.2" y="551.6" width="656.6" height="387.4"/></clipPath>
<g clip-path="url(#clipD)">
<path d="M883.5 535 L900.6 552 L908.1 558.8 L918.1 568.8 L921.9 576.3 L935.6 573.8 L950.7 585.1 L965.7 593.8 L980.7 610.1 L995.8 627.7 L1005.8 645.2 L1018.3 662.7 L1030.8 677.8 L1043.4 692.8 L1055.9 707.8 L1068.4 725.4 L1080.9 740.4 L1093.5 757.9 L1106 773 L1118.5 785.5 L1131 798 L1138.5 803 L1151 812.7 L1163.5 817.8 L1176.1 822.8 L1188.6 826.5 L1201.1 834 L1213.6 835.8 L1226.2 835.3 L1238.7 832.8 L1251.2 825.3 L1263.7 815.3 L1281.3 797.7 L1291.3 788.9 L1301.3 785.2 L1313.8 781.4 L1323.8 777.7 L1331.4 771.4 L1337.6 776.4 L1343.9 790.2 L1351.4 800.2 L1361.4 807.7 L1371.4 812.7 L1381.5 812.7 L1386.5 810.2 L1401.5 790.2 L1411.5 780.2 L1421.5 777.7 L1431.6 783.9 L1440 775.5 L1441 774.4 L1442 773.5 L1443 773.5 L1444 772.9 L1445 772.2 L1446 771.8 L1447 772.1 L1448 771.4 L1449 771 L1450 770.8 L1451 769.7 L1452 770.2 L1453 770.4 L1454 769.7 L1455 770.4 L1456 770.9 L1457 771.1 L1458 771 L1459 771.4 L1460 771.1 L1461 770.9 L1462 772.5 L1463 774.1 L1464 776.3 L1465 779.8 L1466 782 L1467 785.3 L1468 787.8 L1469 788.5 L1470 791.9 L1471 793.4 L1472 793.4 L1473 795.4 L1474 798 L1475 799.4 L1476 801 L1477 802.5 L1478 804.1 L1479 805 L1480 804.8 L1481 803.7 L1482 803 L1483 802 L1484 801.1 L1485 798 L1486 797.6 L1487 797.3 L1488 797.1 L1489 796.1 L1490 794.3 L1491 792.1 L1492 790.3 L1493 788.2 L1494 786.3 L1495 784.3 L1496 781.1 L1497 779.7 L1498 777.3 L1499 775.3 L1500 772.4 L1501 768.9 L1502 768.4 L1503 766.4 L1504 763.3 L1505 762.5 L1506 760 L1507 761.5 L1508 757.9 L1509 760 L1510 758.3 L1511 757.9 L1512 757.5 L1513 753.9 L1514 754.4 L1515 755.6 L1516 754.1 L1517 752.8 L1518 753.6 L1519 752.9 L1520 750.8 L1521 749.3 L1522 750.1 L1523 749.6 L1524 748.5 L1525 748.7 L1526 744.6 L1527 743 L1528 745.9 L1528.8 745.1 L1528.8 794 L1528 797.1 L1527 797.9 L1526 794.3 L1525 797.1 L1524 797.3 L1523 799.3 L1522 797.1 L1521 797.1 L1520 797.9 L1519 800.4 L1518 799.4 L1517 803.1 L1516 801.9 L1515 804.2 L1514 803.2 L1513 803.5 L1512 804.2 L1511 805.4 L1510 809.6 L1509 808.5 L1508 811.9 L1507 811.5 L1506 815.2 L1505 815.9 L1504 815.9 L1503 817.4 L1502 819 L1501 823.2 L1500 823.8 L1499 827.3 L1498 830 L1497 831 L1496 833.1 L1495 833.2 L1494 835.5 L1493 839.6 L1492 839.4 L1491 841.9 L1490 843.1 L1489 845 L1488 847.3 L1487 849.3 L1486 852.3 L1485 850.5 L1484 851.7 L1483 852.2 L1482 852.9 L1481 852.7 L1480 853.5 L1479 853.6 L1478 852.6 L1477 851.8 L1476 851.4 L1475 850.3 L1474 849.2 L1473 850.4 L1472 849.2 L1471 846.8 L1470 847.6 L1469 844.7 L1468 844.6 L1467 842.7 L1466 841.7 L1465 841.3 L1464 839.9 L1463 840.3 L1462 838.8 L1461 837.4 L1460 837.3 L1459 835.7 L1458 834.9 L1457 834.1 L1456 833.7 L1455 834 L1454 833.7 L1453 833.8 L1452 833.8 L1451 834.6 L1450 835.5 L1449 835.9 L1448 836.9 L1447 837.1 L1446 837.6 L1445 838.2 L1444 838.7 L1443 839.7 L1442 840.2 L1441 840.8 L1440 841.7 L1431.6 849.1 L1421.5 852.8 L1411.5 857.8 L1401.5 867.9 L1394 880.4 L1386.5 887.9 L1379 891.7 L1371.4 889.1 L1363.9 880.4 L1356.4 865.4 L1348.9 852.8 L1338.9 845.3 L1321.3 840.3 L1301.3 842.8 L1281.3 850.3 L1263.7 860.3 L1251.2 867.9 L1241.2 874.1 L1233.7 874.9 L1221.1 876.6 L1208.6 879.1 L1201.1 877.9 L1188.6 874.1 L1176.1 872.9 L1163.5 870.4 L1151 866.6 L1143.6 865.6 L1118.5 853.1 L1093.5 830.6 L1080.9 818 L1065.9 803 L1055.9 791.7 L1043.4 779.2 L1030.8 765.4 L1018.3 755.4 L1005.8 740.4 L995.8 727.9 L980.7 711.6 L965.7 697.8 L950.7 687.8 L935.6 674 L921.9 671.5 L913.1 657.7 L905.6 645.2 L893.1 635.2 L883.5 628.9Z" fill="#d7dee0" fill-opacity="0.45" stroke="none"/>
<path class="ln" d="M883.5 571.8 L884 572.4 L884.6 573.1 L885.3 573.9 L886.1 574.9 L887 575.9 L887.9 577 L888.8 578 L889.7 579.1 L890.5 580.1 L891.4 581 L892.2 582 L893 583 L893.9 583.9 L894.7 584.9 L895.5 585.9 L896.4 586.9 L897.2 587.9 L898.1 588.8 L898.9 589.8 L899.7 590.8 L900.6 591.8 L901.4 592.7 L902.2 593.7 L903.1 594.7 L903.9 595.7 L904.7 596.6 L905.6 597.6 L906.4 598.6 L907.3 599.6 L908.1 600.6 L909 601.7 L909.8 602.7 L910.7 603.7 L911.5 604.6 L912.3 605.5 L913.1 606.4 L914.1 607.4 L915 608.3 L915.9 609.2 L916.7 610 L917.6 610.8 L918.5 611.5 L919.4 612.1 L920.6 612.9 L921.8 613.6 L923 614.1 L924.3 614.6 L925.6 615.1 L926.8 615.5 L928 615.8 L929.3 616.1 L930.6 616.4 L931.9 616.8 L933.1 617.1 L934.4 617.5 L935.6 618 L936.9 618.4 L938.1 618.9 L939.4 619.4 L940.6 620.2 L941.6 620.8 L942.5 621.5 L943.5 622.3 L944.4 623.1 L945.3 624 L946.3 624.8 L947.2 625.6 L948.2 626.4 L949.2 627.3 L950.3 628.1 L951.4 629 L952.5 629.8 L953.5 630.6 L954.6 631.4 L955.7 632.2 L956.8 632.9 L957.9 633.7 L959 634.4 L960.1 635.1 L961.2 635.8 L962.2 636.5 L963.2 637.2 L964.3 638 L965.3 638.7 L966.1 639.5 L967.1 640.3 L968.2 641.4 L968.9 642.2 L969.7 643.1 L970.5 644 L971.4 645 L972.2 646.1 L973.1 647.1 L974 648.2 L974.9 649.2 L975.7 650.2 L976.6 651.2 L977.4 652.2 L978.2 653.2 L979.1 654.2 L979.9 655.2 L980.7 656.1 L981.6 657.1 L982.4 658.1 L983.2 659 L984.2 660 L985.1 660.9 L986 661.8 L987 662.7 L987.9 663.6 L988.9 664.6 L989.8 665.5 L990.7 666.5 L991.6 667.4 L992.4 668.3 L993.3 669.2 L994.1 670.2 L994.9 671.1 L995.8 672.1 L996.6 673.1 L997.4 674.2 L998.3 675.3 L998.9 676.2 L999.6 677.2 L1000.3 678.2 L1001 679.2 L1001.7 680.3 L1002.4 681.4 L1003 682.4 L1003.7 683.5 L1004.4 684.5 L1005.1 685.5 L1005.8 686.5 L1006.5 687.6 L1007.3 688.6 L1008 689.7 L1008.8 690.7 L1009.5 691.7 L1010.3 692.7 L1011 693.7 L1011.8 694.6 L1012.5 695.6 L1013.3 696.6 L1014.1 697.6 L1015 698.6 L1015.8 699.6 L1016.6 700.6 L1017.5 701.5 L1018.3 702.5 L1019.1 703.4 L1020 704.4 L1020.8 705.3 L1021.6 706.2 L1022.5 707.2 L1023.3 708.1 L1024.1 709 L1025 709.9 L1025.8 710.8 L1026.7 711.6 L1027.5 712.5 L1028.3 713.3 L1029.3 714.2 L1030.2 715.1 L1031.1 716 L1032.1 716.8 L1033 717.6 L1034 718.5 L1034.9 719.4 L1035.8 720.4 L1036.7 721.2 L1037.5 722.2 L1038.3 723.1 L1039.2 724.1 L1040 725.1 L1040.8 726.1 L1041.7 727.1 L1042.5 728.1 L1043.4 729.1 L1044.2 730.1 L1045 731 L1045.9 732 L1046.7 732.9 L1047.5 733.9 L1048.4 734.9 L1049.2 735.9 L1050 736.9 L1050.9 737.9 L1051.6 738.8 L1052.4 739.8 L1053.1 740.8 L1053.9 741.7 L1054.6 742.7 L1055.4 743.7 L1056.1 744.8 L1056.9 745.8 L1057.6 746.8 L1058.4 747.9 L1059.1 748.9 L1059.7 749.9 L1060.4 751 L1061.1 752 L1061.8 753.1 L1062.5 754.2 L1063.2 755.2 L1063.8 756.3 L1064.5 757.3 L1065.2 758.2 L1065.9 759.2 L1066.7 760.3 L1067.6 761.3 L1068.4 762.3 L1069.2 763.3 L1070.1 764.3 L1070.9 765.2 L1071.7 766.1 L1072.6 767 L1073.4 767.9 L1074.4 768.9 L1075.3 769.9 L1076.2 770.9 L1077.2 771.8 L1078.1 772.7 L1079 773.6 L1080 774.5 L1080.9 775.5 L1081.9 776.4 L1082.8 777.3 L1083.7 778.2 L1084.7 779.1 L1085.6 780.1 L1086.6 781 L1087.5 782 L1088.4 783 L1089.3 783.9 L1090.1 784.9 L1090.9 785.9 L1091.8 786.9 L1092.6 787.9 L1093.5 788.9 L1094.3 789.9 L1095.1 790.8 L1096 791.7 L1096.9 792.8 L1097.9 793.8 L1098.9 794.8 L1099.9 795.8 L1100.8 796.8 L1101.8 797.7 L1102.7 798.5 L1103.5 799.3 L1104 799.8 L1105.1 800.3 L1108.5 803 L1109 803.5 L1109.6 804 L1110.3 804.5 L1111 805.1 L1111.8 805.7 L1112.5 806.3 L1113.4 807 L1114.2 807.7 L1115.1 808.5 L1116.1 809.3 L1117 810.1 L1118 810.9 L1119.1 811.7 L1120.1 812.6 L1121.2 813.5 L1122.3 814.4 L1123.4 815.3 L1124.5 816.2 L1125.6 817.1 L1126.7 818 L1127.9 819 L1129 819.9 L1130.2 820.9 L1131.3 821.8 L1132.4 822.8 L1133.6 823.7 L1134.7 824.6 L1135.8 825.5 L1136.9 826.5 L1138 827.4 L1139.1 828.2 L1140.2 829.1 L1141.2 829.9 L1142.2 830.8 L1143.2 831.6 L1144.1 832.3 L1145.1 833.1 L1145.9 833.8 L1146.8 834.5 L1147.6 835.1 L1148.4 835.7 L1149.1 836.3 L1149.8 836.9 L1150.4 837.3 L1151 837.8 L1153.9 840 L1155.7 841.1 L1156.7 841.6 L1157.1 841.6 L1157.4 841.4 L1157.7 841.3 L1158.5 841.6 L1159.8 842.2 L1161 842.8 L1162.3 843.4 L1163.5 843.9 L1164.8 844.4 L1166 844.8 L1167.3 845.1 L1168.5 845.2 L1169.8 845.2 L1171 845.2 L1172.3 845.3 L1173.5 845.3 L1174.8 845.4 L1176.1 845.4 L1177.3 845.5 L1178.6 845.5 L1179.8 845.6 L1181.1 845.8 L1182.3 846 L1183.6 846.3 L1184.8 846.6 L1186.1 847 L1187.3 847.4 L1188.6 847.8 L1189.6 848.3 L1190.7 848.8 L1191.8 849.3 L1192.9 849.9 L1193.9 850.4 L1195 851 L1196.1 851.6 L1197.2 852.1 L1198.2 852.7 L1199.3 853.3 L1200.4 853.9 L1201.5 854.4 L1202.5 854.9 L1203.6 855.3 L1204.9 855.7 L1206.1 856 L1207.4 856.3 L1208.6 856.4 L1209.9 856.5 L1211.1 856.6 L1212.4 856.5 L1213.6 856.3 L1214.9 856 L1216.1 855.7 L1217.4 855.5 L1218.6 855.3 L1219.9 855.3 L1221.1 855.3 L1222.4 855.3 L1223.6 855.4 L1224.9 855.4 L1226.2 855.3 L1227.4 855.2 L1228.7 855.1 L1230.1 854.9 L1231.3 854.6 L1232.6 854.4 L1233.7 854.1 L1235.1 853.5 L1236.3 852.7 L1237.5 852 L1238.7 851.6 L1239.9 851.7 L1241 852.1 L1242.3 852.4 L1243.7 852.3 L1244.6 852 L1245.6 851.4 L1246.7 850.8 L1247.8 850.1 L1249 849.3 L1250.1 848.5 L1251.2 847.8 L1252.3 847.1 L1253.3 846.5 L1254.4 845.8 L1255.5 845.1 L1256.6 844.3 L1257.6 843.6 L1258.7 842.8 L1259.7 842.1 L1260.6 841.3 L1261.5 840.5 L1262.5 839.8 L1263.4 838.9 L1264.4 838.1 L1265.3 837.3 L1266.2 836.5 L1267.2 835.8 L1268.1 835 L1269 834.2 L1270 833.5 L1270.9 832.7 L1271.9 831.9 L1272.8 831.1 L1273.7 830.3 L1274.7 829.4 L1275.6 828.5 L1276.6 827.6 L1277.5 826.6 L1278.4 825.6 L1279.4 824.7 L1280.3 823.7 L1281.3 822.8 L1282.2 821.8 L1283.1 820.8 L1284.1 819.9 L1285 818.9 L1286 817.9 L1286.9 817 L1287.8 816.1 L1288.8 815.3 L1289.8 814.3 L1290.9 813.4 L1292 812.6 L1293.1 811.8 L1294.1 811 L1295.2 810.4 L1296.3 809.7 L1297.5 809.1 L1298.8 808.6 L1300 808.1 L1301.3 807.7 L1302.6 807.4 L1303.8 807.2 L1305.1 807.1 L1306.3 807.2 L1307.6 807.3 L1308.8 807.5 L1310.1 807.6 L1311.3 807.7 L1312.6 807.8 L1313.9 808 L1315.2 808.1 L1316.5 808.2 L1317.7 808.3 L1318.8 808.2 L1320.3 808 L1321.5 807.7 L1322.7 807.2 L1323.8 806.5 L1324.8 805.7 L1325.8 804.8 L1326.9 803.8 L1327.9 802.9 L1328.9 802.2 L1330.1 801.6 L1331.4 801.1 L1332.6 801 L1333.9 801.5 L1334.6 802.1 L1335.3 803 L1336 804 L1336.7 805.2 L1337.4 806.5 L1338.2 807.8 L1338.9 809 L1339.5 810 L1340.1 811.2 L1340.8 812.3 L1341.4 813.5 L1342 814.7 L1342.6 815.8 L1343.3 816.8 L1343.9 817.8 L1344.9 819 L1345.9 820 L1346.9 820.9 L1347.9 821.7 L1348.9 822.8 L1349.7 823.7 L1350.6 824.7 L1351.4 825.7 L1352.2 826.7 L1353.1 827.8 L1353.9 829 L1354.5 830 L1355.2 831.1 L1355.8 832.3 L1356.4 833.5 L1357 834.7 L1357.7 835.8 L1358.3 836.9 L1358.9 837.8 L1359.9 839.1 L1360.8 840.2 L1361.7 841.2 L1362.8 842.1 L1363.9 842.8 L1365.1 843.3 L1366.3 843.8 L1367.7 844.1 L1369 844.4 L1370.3 844.6 L1371.4 844.8 L1372.9 845.1 L1374.1 845.3 L1375.3 845.4 L1376.5 845.3 L1377.6 845 L1378.8 844.5 L1380 843.8 L1381.5 842.8 L1382.3 842.2 L1383.2 841.6 L1384.1 840.8 L1385.1 840.1 L1386 839.2 L1387 838.4 L1388 837.5 L1389 836.5 L1389.8 835.7 L1390.6 834.8 L1391.5 833.9 L1392.3 832.9 L1393.2 831.9 L1394 830.9 L1394.8 829.9 L1395.7 828.8 L1396.5 827.8 L1397.2 826.8 L1398 825.8 L1398.7 824.7 L1399.5 823.6 L1400.2 822.6 L1401 821.5 L1401.8 820.5 L1402.5 819.5 L1403.3 818.6 L1404 817.8 L1405.1 816.7 L1406.2 815.7 L1407.2 814.8 L1408.3 814 L1409.4 813.3 L1410.4 812.7 L1411.5 812.2 L1412.8 811.9 L1414 811.7 L1415.3 811.6 L1416.5 811.7 L1417.8 811.8 L1419 812 L1420.3 812.2 L1421.6 812.6 L1423 813.1 L1424.2 813.5 L1425.4 813.8 L1426.6 814 L1427.9 814.1 L1429.1 814 L1430.2 813.7 L1431.6 812.7 L1432.3 812.1 L1433.1 811.2 L1433.9 810.2 L1434.7 809.1 L1435.6 807.9 L1436.5 806.8 L1437.4 805.7 L1438.2 804.8 L1439.1 804 L1440.1 803.2 L1441.2 802.5 L1442.3 801.9 L1443.4 801.4 L1444.4 801 L1445.5 800.6 L1446.6 800.2 L1447.9 799.7 L1449.2 799.2 L1450.5 798.7 L1451.8 798.3 L1453 798.2 L1454.1 798.2 L1455.3 798.7 L1456.3 799.4 L1457.2 800.4 L1458.2 801.5 L1459.1 802.7 L1459.8 803.6 L1460.5 804.6 L1461.3 805.7 L1462 806.8 L1462.7 807.9 L1463.4 809.1 L1464.1 810.2 L1464.8 811.3 L1465.4 812.4 L1466 813.5 L1466.6 814.7 L1467.3 815.8 L1467.9 817 L1468.5 818 L1469.1 819 L1470 820.2 L1470.8 821.4 L1471.6 822.5 L1472.5 823.5 L1473.3 824.4 L1474.1 825.3 L1475.2 826.2 L1476.4 827.1 L1477.5 827.9 L1478.5 828.6 L1479.2 829 L1484.2 826.5 L1489.2 817.8 L1490 816.1 L1491 814.1 L1492 812.3 L1493 810.1 L1494 808.1 L1495 805.8 L1496 803 L1497 800.7 L1498 798.3 L1499 795.9 L1500 793.1 L1501 791 L1502 788.6 L1503 786.9 L1504 784.6 L1505 783.2 L1506 783.8 L1507 783.4 L1508 782.8 L1509 782.4 L1510 781.3 L1511 780.5 L1512 780.4 L1513 779.2 L1514 778.7 L1515 778 L1516 777 L1517 776.8 L1518 776 L1519 775.8 L1520 774.5 L1521 773.8 L1522 772.7 L1523 772 L1524 770.8 L1525 770 L1526 770.8 L1527 770.4 L1528 769.7 L1528.7 768.9 L1528.8 768.9" stroke="#9ea8af" stroke-width="1.8"/>
<path d="M935.6 530 L968.2 552 L978.2 565 L988.2 577.6 L998.3 590.1 L1008.3 602.6 L1018.3 612.6 L1030.8 620.2 L1043.4 625.2 L1055.9 637.7 L1068.4 647.7 L1080.9 657.7 L1093.5 669 L1106 680.3 L1118.5 690.3 L1131 701.6 L1143.6 710.3 L1151 713.8 L1163.5 725.1 L1176.1 735.1 L1188.6 745.1 L1201.1 760.1 L1213.6 772.7 L1226.2 783.9 L1238.7 794 L1251.2 804 L1261.2 810.2 L1271.2 810.2 L1281.3 797.7 L1291.3 790.2 L1301.3 787.7 L1311.3 786.4 L1323.8 788.9 L1336.4 783.2 L1348.9 783.9 L1358.9 778.9 L1368.9 775.2 L1376.5 770.2 L1386.5 762.6 L1396.5 755.1 L1400 752.6 L1401 751.9 L1402 751.1 L1403 749.9 L1404 749.5 L1405 748.5 L1406 748.2 L1407 747.3 L1408 746 L1409 745.8 L1410 744.2 L1411 743.6 L1412 743.7 L1413 743.1 L1414 741.6 L1415 741.6 L1416 740.9 L1417 739.4 L1418 738.6 L1419 738.1 L1420 737.1 L1421 738.3 L1422 737.9 L1423 737.4 L1424 734.8 L1425 736.4 L1426 735.9 L1427 735.5 L1428 735 L1429 734.5 L1430 733.8 L1431 733.5 L1432 732.9 L1433 730.1 L1434 732.1 L1435 729.7 L1436 729.5 L1437 729.7 L1438 729.2 L1439 727.8 L1440 728.2 L1441 728.6 L1442 728 L1443 727.6 L1444 726.8 L1445 723.1 L1446 725.7 L1447 725.9 L1448 724.8 L1449 722.6 L1450 724.1 L1451 722.5 L1452 724.1 L1453 723.8 L1454 721.6 L1455 723.1 L1456 722.4 L1457 721.8 L1458 722 L1459 721.9 L1460 721.7 L1461 717 L1462 719 L1463 716.4 L1464 719.7 L1465 715.8 L1466 716.4 L1467 718.2 L1468 718.7 L1469 718.6 L1470 719.6 L1471 719 L1472 716.7 L1473 719.3 L1474 715.2 L1475 717.9 L1476 717.1 L1477 714.9 L1478 716.1 L1479 717.9 L1480 717.2 L1481 717 L1482 716.5 L1483 710.1 L1484 713.4 L1485 708.8 L1486 710.6 L1487 713.5 L1488 706.8 L1489 706.6 L1490 710.6 L1491 711.1 L1492 709.8 L1493 709.5 L1494 708.1 L1495 708.1 L1496 703.8 L1497 699.3 L1498 705.4 L1499 700.2 L1500 701.3 L1501 701.1 L1502 695.2 L1503 699.8 L1504 694.5 L1505 698.8 L1506 690.1 L1507 696.6 L1508 695.8 L1509 688.4 L1510 689.7 L1511 689.2 L1512 687 L1513 689.9 L1514 689.9 L1515 688.2 L1516 679.8 L1517 678.2 L1518 685.3 L1519 682.9 L1520 681.6 L1521 674.5 L1522 680.8 L1523 673.2 L1524 677.8 L1525 674.5 L1526 675.7 L1527 674.6 L1528 665.8 L1528.8 670 L1528.8 717.6 L1528 717.4 L1527 716.8 L1526 719.5 L1525 721.7 L1524 720.3 L1523 725 L1522 724.1 L1521 724.6 L1520 723.2 L1519 722.6 L1518 723.7 L1517 724.6 L1516 728 L1515 725.3 L1514 728.9 L1513 727 L1512 728.9 L1511 734.1 L1510 730.7 L1509 734.1 L1508 731.1 L1507 734 L1506 732.4 L1505 732.9 L1504 737.9 L1503 737 L1502 737.1 L1501 742.6 L1500 738.9 L1499 740.3 L1498 744.9 L1497 743.6 L1496 746.2 L1495 746.9 L1494 746 L1493 752.1 L1492 754 L1491 750.8 L1490 757.4 L1489 755 L1488 758.2 L1487 757.9 L1486 761 L1485 764.4 L1484 761.8 L1483 763.7 L1482 763.4 L1481 768.3 L1480 766.2 L1479 770.6 L1478 767.6 L1477 770.7 L1476 772.1 L1475 774 L1474 773.9 L1473 772.2 L1472 770.7 L1471 771.5 L1470 770 L1469 771.7 L1468 770.8 L1467 770.4 L1466 770 L1465 768.5 L1464 766.7 L1463 769.1 L1462 769.5 L1461 767.4 L1460 767.5 L1459 769.2 L1458 768.4 L1457 770.3 L1456 768.6 L1455 768.6 L1454 769.9 L1453 769.4 L1452 769.2 L1451 770 L1450 770.4 L1449 770.6 L1448 772.1 L1447 772.7 L1446 774.5 L1445 773.2 L1444 775 L1443 775.9 L1442 774.8 L1441 775 L1440 775.9 L1439 777 L1438 777.8 L1437 778.5 L1436 779.4 L1435 782.2 L1434 782.2 L1433 783.1 L1432 784.4 L1431 784.3 L1430 784.4 L1429 785.4 L1428 784.4 L1427 786.2 L1426 786.7 L1425 785.3 L1424 786.5 L1423 786.3 L1422 786.9 L1421 786.6 L1420 787.2 L1419 788.2 L1418 788.4 L1417 788.8 L1416 789 L1415 789.2 L1414 789.1 L1413 789.7 L1412 789.7 L1411 791.1 L1410 791.5 L1409 793.4 L1408 793.5 L1407 795.1 L1406 796.3 L1405 797.1 L1404 797.6 L1403 799.1 L1402 800.1 L1401 800.8 L1400 802 L1389 815.3 L1376.5 829 L1363.9 835.3 L1351.4 842.8 L1338.9 846.6 L1326.4 855.3 L1313.8 856.6 L1301.3 860.3 L1288.8 859.1 L1276.3 860.3 L1263.7 852.8 L1251.2 842.8 L1238.7 832.8 L1226.2 822.8 L1213.6 810.2 L1201.1 797.7 L1188.6 785.2 L1176.1 775.2 L1163.5 763.9 L1151 748.9 L1143.6 742.9 L1131 735.4 L1118.5 722.9 L1103.5 710.3 L1088.4 697.8 L1073.4 685.3 L1058.4 671.5 L1043.4 657.7 L1028.3 647.7 L1008.3 628.9 L993.3 617.6 L980.7 605.1 L968.2 588.8 L955.7 586.3 L940.6 567.5 L918.1 562.5 L900.6 552 L893.1 540Z" fill="#9fd0f4" fill-opacity="0.45" stroke="none"/>
<path class="ln" d="M935.6 545 L936.2 545.6 L937 546.5 L937.9 547.5 L938.9 548.7 L939.9 549.8 L940.9 551 L941.9 552 L942.8 553 L943.7 553.9 L944.5 554.9 L945.4 555.8 L946.3 556.8 L947.2 557.8 L948.2 558.8 L949 559.7 L950 560.7 L950.9 561.7 L951.8 562.7 L952.8 563.7 L953.8 564.7 L954.7 565.5 L955.7 566.3 L956.8 567 L957.9 567.7 L959 568.3 L960.1 568.8 L961.2 569.2 L962.2 569.6 L963.2 570.1 L964.6 570.6 L965.7 570.9 L966.8 571.3 L968.2 572.1 L969 572.7 L969.9 573.4 L970.8 574.2 L971.8 575 L972.8 576 L973.8 576.9 L974.8 577.9 L975.7 578.8 L976.6 579.7 L977.4 580.5 L978.2 581.4 L979.1 582.3 L979.9 583.3 L980.7 584.2 L981.6 585.2 L982.4 586.1 L983.2 587.1 L984.1 588.1 L984.9 589.1 L985.7 590.1 L986.6 591.2 L987.4 592.2 L988.2 593.3 L989.1 594.3 L989.9 595.3 L990.7 596.4 L991.6 597.4 L992.4 598.4 L993.3 599.4 L994.1 600.4 L994.9 601.4 L995.8 602.3 L996.6 603.3 L997.4 604.2 L998.3 605.1 L999.2 606.1 L1000.1 607 L1001.1 607.9 L1002 608.8 L1003 609.6 L1003.9 610.4 L1004.8 611.3 L1005.8 612.1 L1006.7 613 L1007.7 613.8 L1008.6 614.7 L1009.5 615.5 L1010.5 616.3 L1011.4 617.2 L1012.4 618 L1013.3 618.9 L1014.2 619.8 L1015.2 620.8 L1016.1 621.7 L1017 622.7 L1018 623.7 L1018.9 624.6 L1019.9 625.5 L1020.8 626.4 L1021.7 627.3 L1022.7 628.1 L1023.6 628.9 L1024.6 629.7 L1025.5 630.5 L1026.4 631.3 L1027.4 632 L1028.3 632.7 L1029.4 633.4 L1030.5 634.1 L1031.5 634.8 L1032.6 635.4 L1033.7 636 L1034.8 636.6 L1035.8 637.2 L1037.1 637.8 L1038.3 638.3 L1039.6 638.9 L1040.8 639.4 L1042.1 640 L1043.4 640.7 L1044.4 641.4 L1045.5 642.1 L1046.6 642.9 L1047.6 643.7 L1048.7 644.6 L1049.8 645.5 L1050.9 646.5 L1051.8 647.3 L1052.7 648.2 L1053.7 649.2 L1054.6 650.2 L1055.6 651.2 L1056.5 652.1 L1057.4 653.1 L1058.4 654 L1059.3 654.8 L1060.3 655.6 L1061.2 656.4 L1062.1 657.2 L1063.1 657.9 L1064 658.7 L1065 659.5 L1065.9 660.2 L1066.8 661 L1067.8 661.8 L1068.7 662.5 L1069.7 663.3 L1070.6 664.1 L1071.5 664.8 L1072.5 665.7 L1073.4 666.5 L1074.4 667.4 L1075.3 668.3 L1076.2 669.2 L1077.2 670.2 L1078.1 671.1 L1079 672.1 L1080 673.1 L1080.9 674 L1081.9 675 L1082.8 675.9 L1083.7 676.9 L1084.7 677.9 L1085.6 678.8 L1086.6 679.8 L1087.5 680.7 L1088.4 681.5 L1089.5 682.4 L1090.6 683.3 L1091.7 684.1 L1092.7 684.8 L1093.8 685.6 L1094.9 686.4 L1096 687.3 L1096.9 688.1 L1097.8 688.9 L1098.8 689.8 L1099.7 690.6 L1100.7 691.5 L1101.6 692.4 L1102.5 693.2 L1103.5 694 L1104.4 694.9 L1105.3 695.6 L1106.3 696.4 L1107.2 697.2 L1108.2 698 L1109.1 698.8 L1110 699.5 L1111 700.3 L1111.9 701.1 L1112.9 701.8 L1113.8 702.5 L1114.7 703.3 L1115.7 704 L1116.6 704.8 L1117.6 705.7 L1118.5 706.6 L1119.3 707.5 L1120.2 708.4 L1121 709.5 L1121.8 710.5 L1122.7 711.6 L1123.5 712.6 L1124.3 713.6 L1125.2 714.5 L1126 715.3 L1127.1 716.2 L1128.2 716.9 L1129.2 717.5 L1130.3 718 L1131.4 718.5 L1132.5 719.1 L1133.5 719.8 L1134.5 720.6 L1135.4 721.4 L1136.2 722.3 L1137.1 723.2 L1138 724.1 L1139 725 L1140 725.9 L1141 726.6 L1142.1 727.2 L1143.1 727.7 L1144.3 728.1 L1145.4 728.6 L1146.6 729 L1147.8 729.4 L1148.9 730 L1150 730.6 L1151 731.3 L1151.9 732.1 L1152.7 733 L1153.4 734 L1154.2 735 L1154.9 736.1 L1155.6 737.2 L1156.3 738.3 L1157.1 739.4 L1157.8 740.4 L1158.5 741.4 L1159.4 742.4 L1160.2 743.4 L1161 744.4 L1161.9 745.4 L1162.7 746.3 L1163.5 747.2 L1164.4 748.1 L1165.2 748.9 L1166 749.6 L1167.1 750.4 L1168.2 751.1 L1169.3 751.7 L1170.3 752.2 L1171.4 752.7 L1172.5 753.3 L1173.5 753.9 L1174.6 754.5 L1175.7 755.2 L1176.8 755.9 L1177.8 756.6 L1178.9 757.3 L1180 758.1 L1181.1 758.9 L1182 759.6 L1182.9 760.3 L1183.9 761.1 L1184.8 761.9 L1185.8 762.7 L1186.7 763.5 L1187.6 764.3 L1188.6 765.2 L1189.5 766 L1190.5 766.9 L1191.4 767.9 L1192.3 768.8 L1193.3 769.8 L1194.2 770.8 L1195.2 771.7 L1196.1 772.7 L1197 773.6 L1198 774.5 L1198.9 775.5 L1199.8 776.4 L1200.8 777.4 L1201.7 778.3 L1202.7 779.2 L1203.6 780.2 L1204.5 781.1 L1205.5 782.1 L1206.4 783.1 L1207.4 784 L1208.3 785 L1209.2 785.9 L1210.2 786.8 L1211.1 787.7 L1212.1 788.5 L1213 789.3 L1213.9 790.1 L1214.9 790.9 L1215.8 791.7 L1216.8 792.4 L1217.7 793.2 L1218.6 794 L1219.6 794.7 L1220.5 795.5 L1221.5 796.3 L1222.4 797 L1223.3 797.8 L1224.3 798.6 L1225.2 799.4 L1226.2 800.2 L1227.1 801.1 L1228 802 L1229 802.9 L1229.9 803.8 L1230.8 804.7 L1231.8 805.6 L1232.7 806.4 L1233.7 807.2 L1234.7 808.1 L1235.8 808.9 L1236.9 809.7 L1238 810.4 L1239 811.2 L1240.1 811.9 L1241.2 812.7 L1242.1 813.5 L1243.1 814.3 L1244 815.1 L1244.9 815.9 L1245.9 816.7 L1246.8 817.5 L1247.8 818.3 L1248.7 819 L1249.8 819.8 L1250.8 820.5 L1251.9 821.2 L1253 821.9 L1254.1 822.6 L1255.1 823.3 L1256.2 824 L1257.3 824.8 L1258.4 825.5 L1259.4 826.3 L1260.5 827.1 L1261.6 827.8 L1262.7 828.4 L1263.7 829 L1265 829.6 L1266.2 830.2 L1267.5 830.6 L1268.7 831 L1270 831.3 L1271.2 831.5 L1272.5 831.6 L1273.7 831.6 L1275 831.5 L1276.3 831.3 L1277.5 831.1 L1278.8 830.8 L1280 830.4 L1281.3 829.9 L1282.5 829.3 L1283.8 828.7 L1285 828.2 L1286.3 827.8 L1287.5 827.5 L1288.8 827.3 L1290 827.2 L1291.3 827.1 L1292.5 826.9 L1293.8 826.5 L1294.9 826.1 L1295.9 825.6 L1297 825.1 L1298.1 824.5 L1299.2 823.9 L1300.2 823.3 L1301.3 822.8 L1302.4 822.2 L1303.5 821.6 L1304.7 821.1 L1305.8 820.5 L1306.9 819.9 L1307.9 819.4 L1308.8 819 L1310.2 818.3 L1311.3 817.7 L1312.5 817.3 L1313.8 817.3 L1314.9 817.5 L1316.1 818.1 L1317.4 818.8 L1318.7 819.5 L1320.1 820 L1321.3 820.3 L1322.6 820.2 L1323.8 819.9 L1325.1 819.5 L1326.4 819 L1327.6 818.4 L1328.9 817.8 L1329.9 817.1 L1331 816.4 L1332.1 815.6 L1333.2 814.8 L1334.2 814 L1335.3 813.3 L1336.4 812.7 L1337.6 812.2 L1338.9 811.8 L1340.1 811.4 L1341.4 811.1 L1342.6 810.9 L1343.9 810.7 L1345.1 810.7 L1346.4 810.8 L1347.6 810.9 L1348.9 811 L1350.1 811 L1351.4 810.7 L1352.5 810.3 L1353.5 809.7 L1354.6 809.1 L1355.7 808.3 L1356.8 807.6 L1357.8 807 L1358.9 806.5 L1360.2 806.1 L1361.4 805.9 L1362.7 805.8 L1363.9 805.7 L1365.2 805.5 L1366.4 805.2 L1367.5 804.8 L1368.6 804.4 L1369.7 803.9 L1370.7 803.3 L1371.8 802.7 L1372.9 802.1 L1373.9 801.5 L1375 800.9 L1376.1 800.2 L1377.2 799.6 L1378.2 798.9 L1379.3 798.2 L1380.4 797.4 L1381.5 796.5 L1382.3 795.7 L1383.1 794.8 L1384 793.9 L1384.8 792.9 L1385.6 791.9 L1386.5 790.8 L1387.3 789.8 L1388.1 788.7 L1389 787.7 L1389.8 786.7 L1390.6 785.6 L1391.5 784.5 L1392.3 783.3 L1393.2 782.1 L1394 781 L1394.8 780 L1395.5 779.1 L1396 778.3 L1396.5 777.7 L1404 770.2 L1411.5 765.2 L1419 761.4 L1426.6 761.4 L1430 758.6 L1430.5 758 L1431 757.8 L1431.5 756.9 L1432 757.3 L1432.5 756.9 L1433 756.2 L1433.5 755.1 L1434 755.2 L1434.5 754.5 L1435 754 L1435.5 754.6 L1436 754.3 L1436.5 752.4 L1437 753.2 L1437.5 752.4 L1438 751.7 L1438.5 751.1 L1439 751.3 L1439.5 750.5 L1440 750.5 L1440.5 750 L1441 748.7 L1441.5 749.4 L1442 749.4 L1442.5 749.1 L1443 748.1 L1443.5 746.8 L1444 746.3 L1444.5 746.2 L1445 747.4 L1445.5 745.9 L1446 745.7 L1446.5 746.4 L1447 744.9 L1447.5 745 L1448 744.5 L1448.5 743.4 L1449 744.1 L1449.5 744.5 L1450 742.8 L1450.5 742.8 L1451 743 L1451.5 742 L1452 742.9 L1452.5 743.4 L1453 742.9 L1453.5 742.5 L1454 743.1 L1454.5 741.2 L1455 742 L1455.5 741.4 L1456 741.8 L1456.5 740.4 L1457 741.8 L1457.5 739.8 L1458 739.7 L1458.5 741.1 L1459 741.1 L1459.5 739.5 L1460 739.2 L1460.5 738.5 L1461 738.3 L1461.5 738.9 L1462 737.4 L1462.5 737 L1463 737.6 L1463.5 736.5 L1464 737.6 L1464.5 738.3 L1465 738.6 L1465.5 738.2 L1466 738.2 L1466.5 738.9 L1467 738.1 L1467.5 740.6 L1468 739.9 L1468.5 740.3 L1469 740 L1469.5 741.9 L1470 743.3 L1470.5 743.7 L1471 745.9 L1471.5 745.5 L1472 744.4 L1472.5 745.5 L1473 747 L1473.5 745.5 L1474 745.1 L1474.5 742.5 L1475 743.2 L1475.5 742.3 L1476 741.4 L1476.5 740.7 L1477 740.5 L1477.5 740.2 L1478 739.8 L1478.5 738.5 L1479 739.3 L1479.5 741 L1480 738.9 L1480.5 737.4 L1481 736.5 L1481.5 737 L1482 733.8 L1482.5 732.6 L1483 731.2 L1483.5 731.1 L1484 731.7 L1484.5 728.3 L1485 727.9 L1485.5 727.6 L1486 727.6 L1486.5 727.1 L1487 727.9 L1487.5 728.4 L1488 727.3 L1488.5 725.9 L1489 726.4 L1489.5 727.1 L1490 723.6 L1490.5 723.5 L1491 724.6 L1491.5 724.5 L1492 723.9 L1492.5 722 L1493 721.1 L1493.5 717.8 L1494 717.3 L1494.5 716.1 L1495 714.7 L1495.5 717.6 L1496 718.2 L1496.5 719.8 L1497 715.2 L1497.5 718 L1498 716.3 L1498.5 716.2 L1499 715.3 L1499.5 711.2 L1500 712.3 L1500.5 709.3 L1501 710.7 L1501.5 711.6 L1502 707.7 L1502.5 707.8 L1503 706 L1503.5 706 L1504 705.6 L1504.5 704.6 L1505 708.3 L1505.5 707.3 L1506 705 L1506.5 706.6 L1507 706.7 L1507.5 706.1 L1508 705.8 L1508.5 707.3 L1509 707 L1509.5 705.8 L1510 704.6 L1510.5 703.7 L1511 701.6 L1511.5 697.4 L1512 697.3 L1512.5 698.7 L1513 699.2 L1513.5 698.6 L1514 696.1 L1514.5 698.4 L1515 697.1 L1515.5 697.5 L1516 699 L1516.5 700.6 L1517 702.6 L1517.5 701.6 L1518 699.3 L1518.5 701 L1519 699.5 L1519.5 699 L1520 697.2 L1520.5 697.7 L1521 696.6 L1521.5 698.1 L1522 696.4 L1522.5 695.7 L1523 695.4 L1523.5 694.7 L1524 694.5 L1524.5 693.4 L1525 692.6 L1525.5 689.3 L1526 690 L1526.5 689.4 L1527 688 L1527.5 685.1 L1528 682.5 L1528.5 689.7 L1528.7 689.2 L1528.7 689.5" stroke="#1581e0" stroke-width="2.3"/>
<path d="M968.2 530 L1055.9 535 L1055.9 552 L1060.9 570.1 L1068.4 590.1 L1073.4 602.6 L1079.7 612.6 L1083.4 627.7 L1088.4 640.2 L1096 655.2 L1106 670.3 L1118.5 686.5 L1131 697.8 L1138.5 703.3 L1146.1 703.3 L1151 708.8 L1161 706.3 L1171 700 L1181.1 696.3 L1188.6 691.3 L1194.8 697.5 L1201.1 715.1 L1208.6 735.1 L1216.1 756.4 L1223.6 772.7 L1231.2 781.4 L1238.7 782.7 L1246.2 776.4 L1252.5 768.9 L1260 772.7 L1266.2 790.2 L1273.7 806.5 L1281.3 804 L1291.3 799 L1301.3 807.7 L1311.3 812.7 L1321.3 807.7 L1331.4 807.7 L1341.4 797.7 L1348.9 787.7 L1358.9 777.7 L1368.9 770.2 L1376.5 760.1 L1380 755.8 L1381 754.6 L1382 753.3 L1383 751.8 L1384 750.9 L1385 749.6 L1386 748.4 L1387 746.6 L1388 745.5 L1389 743.6 L1390 742.2 L1391 741 L1392 739.3 L1393 737.9 L1394 736.4 L1395 734 L1396 733.6 L1397 732.2 L1398 730 L1399 729.6 L1400 728.5 L1401 727.2 L1402 725.9 L1403 723.6 L1404 723.5 L1405 722.3 L1406 720.6 L1407 719.5 L1408 717.4 L1409 716.6 L1410 716.4 L1411 715.4 L1412 713.2 L1413 711.5 L1414 712.1 L1415 710 L1416 708.5 L1417 708.2 L1418 708.2 L1419 706.4 L1420 706 L1421 706.2 L1422 704.8 L1423 704.9 L1424 704.3 L1425 703.4 L1426 702.7 L1427 702.1 L1428 701.1 L1429 699.9 L1430 698.9 L1431 698.4 L1432 697.8 L1433 698.3 L1434 699.1 L1435 698.8 L1436 697.5 L1437 697.3 L1438 696.5 L1439 697.2 L1440 696.8 L1441 694.1 L1442 695.1 L1443 694.4 L1444 695.2 L1445 694.5 L1446 692.1 L1447 693 L1448 690.9 L1449 693.4 L1450 692.7 L1451 691 L1452 692.1 L1453 690.4 L1454 691.1 L1455 691.7 L1456 691.4 L1457 687.8 L1458 690.7 L1459 690.4 L1460 689.8 L1461 688.2 L1462 687.1 L1463 688.5 L1464 688.2 L1465 686.4 L1466 688.1 L1467 687.5 L1468 686.3 L1469 685.9 L1470 687 L1471 686.6 L1472 686.2 L1473 684 L1474 683.9 L1475 681.5 L1476 682.7 L1477 684.5 L1478 682.1 L1479 680.2 L1480 683.5 L1481 683.7 L1482 683 L1483 683 L1484 682.9 L1485 682.7 L1486 682.5 L1487 679 L1488 682 L1489 680.2 L1490 681.4 L1491 681.2 L1492 678.1 L1493 680.5 L1494 680.5 L1495 679.5 L1496 677.9 L1497 678.7 L1498 676.1 L1499 678.7 L1500 677.9 L1501 676.5 L1502 677.8 L1503 676.1 L1504 677.4 L1505 678.1 L1506 678 L1507 674.9 L1508 675 L1509 672.9 L1510 675.1 L1511 675.7 L1512 677 L1513 673.1 L1514 676.7 L1515 675.8 L1516 676.4 L1517 675.7 L1518 675.7 L1519 675.1 L1520 673.2 L1521 674.2 L1522 675.3 L1523 672 L1524 672.3 L1525 671.2 L1526 674.9 L1527 672.7 L1528 669.9 L1528.8 673 L1528.8 705 L1528 704 L1527 704.8 L1526 707.4 L1525 705 L1524 707.5 L1523 708.1 L1522 705.2 L1521 706.1 L1520 705.8 L1519 705.6 L1518 707.2 L1517 706.5 L1516 708.8 L1515 710.3 L1514 708.2 L1513 708.4 L1512 706.9 L1511 707.6 L1510 711.3 L1509 707.6 L1508 707.9 L1507 709.8 L1506 708.2 L1505 710.1 L1504 708.5 L1503 708.7 L1502 708.9 L1501 709.4 L1500 710.2 L1499 711.4 L1498 713.1 L1497 713.9 L1496 712.2 L1495 713.1 L1494 715.3 L1493 712.6 L1492 713.9 L1491 715.7 L1490 715.8 L1489 715.5 L1488 715.9 L1487 715 L1486 717.1 L1485 715.8 L1484 716.6 L1483 716.7 L1482 717.1 L1481 719.5 L1480 719.3 L1479 719 L1478 719.8 L1477 722.1 L1476 719.4 L1475 720.8 L1474 721.8 L1473 722 L1472 723.1 L1471 720.6 L1470 722.1 L1469 722.3 L1468 722.7 L1467 721.6 L1466 721.5 L1465 724.1 L1464 723.1 L1463 722.3 L1462 722.8 L1461 723.6 L1460 723.8 L1459 723.9 L1458 725.4 L1457 724.8 L1456 727.9 L1455 728 L1454 726.1 L1453 726.4 L1452 727.2 L1451 727.4 L1450 729.4 L1449 728.7 L1448 730.9 L1447 730.9 L1446 731.8 L1445 731 L1444 732.5 L1443 733.7 L1442 735 L1441 733.4 L1440 735.4 L1439 734.8 L1438 734.9 L1437 734.8 L1436 734.9 L1435 736.3 L1434 736.5 L1433 735.9 L1432 736.6 L1431 736 L1430 735.8 L1429 737.5 L1428 735.9 L1427 736.1 L1426 736.3 L1425 738.4 L1424 737.8 L1423 740.2 L1422 739.5 L1421 740.6 L1420 742.8 L1419 742.3 L1418 743.3 L1417 744.8 L1416 746.8 L1415 747.2 L1414 747.4 L1413 749.2 L1412 749.3 L1411 750.5 L1410 752.1 L1409 753.6 L1408 755.3 L1407 756.9 L1406 759.1 L1405 759.6 L1404 761.7 L1403 763.4 L1402 764.6 L1401 766.2 L1400 767.5 L1399 768.8 L1398 770.2 L1397 771.6 L1396 773.2 L1395 774.7 L1394 776.4 L1393 777.8 L1392 779.6 L1391 780.9 L1390 782.6 L1389 783.7 L1388 785.2 L1387 787 L1386 788.3 L1385 790.3 L1384 791.3 L1383 792.8 L1382 794.3 L1381 796.8 L1380 799.5 L1376.5 810.2 L1366.4 820.3 L1356.4 830.3 L1346.4 837.8 L1336.4 845.3 L1326.4 846.6 L1313.8 851.6 L1301.3 847.8 L1288.8 840.3 L1276.3 842.8 L1263.7 841.6 L1251.2 837.8 L1238.7 832.8 L1226.2 822.8 L1213.6 807.7 L1201.1 795.2 L1188.6 782.7 L1176.1 772.7 L1163.5 762.6 L1151 748.9 L1143.6 747.4 L1131 739.9 L1118.5 728.6 L1103.5 716.1 L1088.4 703.6 L1073.4 691 L1058.4 677.3 L1043.4 664.7 L1028.3 654.7 L1008.3 637.2 L993.3 624.7 L973.2 604.6 L955.7 587.6 L940.6 570.1 L918.1 563.8 L900.6 552 L893.1 540Z" fill="#f2b3bc" fill-opacity="0.45" stroke="none"/>
<path class="ln" d="M1043.9 535 L1043.9 535.7 L1043.9 536.6 L1044 537.6 L1044 538.8 L1044 540.1 L1044.1 541.4 L1044.1 542.8 L1044.2 544.3 L1044.3 545.7 L1044.3 547.1 L1044.4 548.5 L1044.5 549.8 L1044.5 551 L1044.6 552 L1044.7 553.6 L1044.9 555.1 L1045 556.3 L1045.2 557.6 L1045.3 558.7 L1045.5 559.9 L1045.7 561.2 L1045.9 562.5 L1046 563.7 L1046.2 565 L1046.4 566.2 L1046.6 567.5 L1046.8 568.8 L1047 570.1 L1047.2 571.4 L1047.4 572.7 L1047.6 573.9 L1047.9 575.1 L1048.1 576.4 L1048.4 577.7 L1048.7 579 L1049 580.2 L1049.4 581.4 L1049.7 582.6 L1050 583.8 L1050.4 585.1 L1050.7 586.3 L1051 587.5 L1051.4 588.7 L1051.7 589.9 L1052.1 591.2 L1052.5 592.4 L1052.9 593.7 L1053.4 595.1 L1053.8 596.1 L1054.2 597.2 L1054.6 598.4 L1055 599.5 L1055.5 600.7 L1056 601.9 L1056.5 603.1 L1057 604.2 L1057.4 605.4 L1057.9 606.5 L1058.4 607.6 L1058.9 608.8 L1059.4 610 L1059.9 611.1 L1060.4 612.2 L1060.9 613.3 L1061.4 614.4 L1061.9 615.6 L1062.4 616.7 L1062.9 617.8 L1063.4 618.9 L1063.9 620 L1064.4 621.2 L1064.9 622.3 L1065.4 623.5 L1065.9 624.6 L1066.4 625.8 L1066.9 626.9 L1067.4 628 L1067.9 629.1 L1068.4 630.2 L1069 631.3 L1069.5 632.5 L1070.1 633.6 L1070.6 634.8 L1071.2 635.9 L1071.7 637 L1072.3 638.1 L1072.9 639.1 L1073.4 640.2 L1074 641.3 L1074.7 642.4 L1075.3 643.5 L1075.9 644.6 L1076.5 645.6 L1077.2 646.7 L1077.8 647.8 L1078.4 649 L1079 650 L1079.5 651.1 L1080.1 652.3 L1080.6 653.4 L1081.2 654.5 L1081.8 655.7 L1082.3 656.8 L1082.9 657.9 L1083.4 659 L1084.1 660.1 L1084.7 661.3 L1085.3 662.4 L1085.9 663.5 L1086.6 664.6 L1087.2 665.7 L1087.8 666.7 L1088.4 667.7 L1089.2 668.9 L1089.9 670 L1090.6 671.1 L1091.3 672.2 L1092 673.2 L1092.7 674.3 L1093.5 675.3 L1094.3 676.4 L1095.1 677.4 L1096 678.5 L1096.8 679.5 L1097.6 680.5 L1098.5 681.5 L1099.3 682.6 L1100.1 683.6 L1101 684.7 L1101.8 685.8 L1102.6 686.8 L1103.5 687.8 L1104.3 688.8 L1105.1 689.7 L1106 690.6 L1106.8 691.5 L1107.6 692.4 L1108.5 693.3 L1109.5 694.3 L1110.5 695.3 L1111.5 696.3 L1112.5 697.3 L1113.5 698.3 L1114.5 699.3 L1115.5 700.3 L1116.5 701.3 L1117.5 702.3 L1118.5 703.3 L1119.3 704.2 L1120.2 705.2 L1121 706.2 L1121.8 707.1 L1122.7 708.1 L1123.5 709.1 L1124.3 710.1 L1125.2 711.1 L1126 712.1 L1126.9 713 L1127.7 714 L1128.5 714.8 L1129.5 715.8 L1130.5 716.7 L1131.5 717.5 L1132.5 718.3 L1133.5 719.1 L1134.5 719.9 L1135.5 720.7 L1136.5 721.5 L1137.5 722.2 L1138.5 722.9 L1139.8 723.5 L1141 724 L1142.3 724.4 L1143.6 724.9 L1144.9 725.3 L1146.2 725.8 L1147.5 726.2 L1148.6 726.6 L1149.6 727.3 L1151 728.1 L1152 728.4 L1153.1 728.8 L1154.4 729.2 L1155.8 729.6 L1157.2 729.9 L1158.5 730.1 L1159.8 730.1 L1161 730.1 L1162.3 729.9 L1163.5 729.8 L1164.8 729.6 L1166 729.6 L1167.3 729.6 L1168.5 729.6 L1169.8 729.7 L1171 729.8 L1172.3 729.9 L1173.5 730.1 L1174.8 730.3 L1176.1 730.5 L1177.3 730.8 L1178.6 731 L1179.8 731.2 L1181.1 731.3 L1182.3 731.3 L1183.7 731.1 L1185 730.9 L1186.3 730.7 L1187.5 730.5 L1188.6 730.6 L1190 730.8 L1191.2 731.3 L1192.4 732 L1193.6 733.1 L1194.2 733.8 L1194.8 734.7 L1195.5 735.6 L1196.1 736.7 L1196.7 737.8 L1197.3 738.9 L1198 740.1 L1198.6 741.4 L1199.1 742.4 L1199.6 743.4 L1200.1 744.5 L1200.6 745.6 L1201.1 746.7 L1201.6 747.9 L1202.1 749.1 L1202.6 750.2 L1203.1 751.4 L1203.6 752.6 L1204.1 753.7 L1204.5 754.8 L1205 756 L1205.4 757.1 L1205.9 758.3 L1206.3 759.5 L1206.8 760.6 L1207.2 761.8 L1207.7 762.9 L1208.2 764.1 L1208.6 765.2 L1209.1 766.3 L1209.6 767.5 L1210.1 768.7 L1210.6 769.8 L1211.1 770.9 L1211.6 772.1 L1212.1 773.2 L1212.6 774.3 L1213.1 775.4 L1213.6 776.4 L1214.2 777.6 L1214.7 778.8 L1215.3 779.9 L1215.9 781.1 L1216.4 782.2 L1217 783.3 L1217.5 784.4 L1218.1 785.4 L1218.6 786.4 L1219.4 787.7 L1220.1 788.8 L1220.8 789.9 L1221.5 791 L1222.2 792 L1222.9 793 L1223.6 794 L1224.5 795.1 L1225.3 796.2 L1226.2 797.3 L1227 798.4 L1227.8 799.3 L1228.7 800.2 L1229.7 801.2 L1230.7 802 L1231.7 802.8 L1232.7 803.5 L1233.7 804 L1234.9 804.4 L1236.2 804.7 L1237.4 804.8 L1238.7 804.7 L1239.9 804.6 L1241.2 804.2 L1242.4 803.8 L1243.7 803.2 L1244.7 802.6 L1245.7 801.9 L1246.8 801.1 L1247.8 800.4 L1248.7 799.7 L1250 798.8 L1251.2 798 L1252.5 797.7 L1253.7 798.1 L1255 799 L1256.2 799.7 L1257.5 799.8 L1258.7 799.7 L1260 800.2 L1260.6 800.9 L1261.2 801.8 L1261.8 802.9 L1262.4 804.1 L1263 805.3 L1263.7 806.5 L1264.4 807.5 L1265.1 808.6 L1265.8 809.7 L1266.5 810.8 L1267.3 811.9 L1268 813 L1268.7 814 L1269.6 815.1 L1270.4 816.3 L1271.2 817.4 L1272.1 818.4 L1272.9 819.4 L1273.7 820.3 L1274.7 821.3 L1275.7 822.2 L1276.8 823.1 L1277.8 823.7 L1278.8 824 L1280 823.8 L1281.3 823.2 L1282.5 822.3 L1283.8 821.5 L1285 820.8 L1286.3 820.2 L1287.5 819.5 L1288.8 819 L1290 818.5 L1291.3 818.1 L1292.5 817.9 L1293.8 818.3 L1294.6 818.8 L1295.5 819.7 L1296.3 820.7 L1297.1 821.8 L1298 823 L1298.8 824 L1299.6 825 L1300.5 826.1 L1301.3 827.2 L1302.1 828.3 L1303 829.3 L1303.8 830.3 L1304.8 831.5 L1305.8 832.6 L1306.8 833.7 L1307.8 834.7 L1308.8 835.3 L1310.1 835.6 L1311.3 835.6 L1312.6 835.3 L1313.8 834.8 L1314.8 834.1 L1315.8 833.2 L1316.8 832.2 L1317.8 831.2 L1318.8 830.3 L1320.1 829.3 L1321.3 828.5 L1322.6 827.7 L1323.8 827.3 L1325.1 827.1 L1326.4 827.3 L1327.6 827.5 L1328.9 827.8 L1330.1 828.1 L1331.4 828.5 L1332.7 828.9 L1333.9 829 L1335.2 829 L1336.4 828.7 L1337.6 827.8 L1338.2 827 L1338.8 826.1 L1339.4 825 L1340 823.9 L1340.7 822.7 L1341.4 821.5 L1342 820.5 L1342.7 819.5 L1343.4 818.4 L1344.2 817.3 L1344.9 816.2 L1345.7 815.1 L1346.4 814 L1347.1 812.9 L1347.8 811.8 L1348.5 810.6 L1349.3 809.5 L1350 808.4 L1350.7 807.4 L1351.4 806.5 L1352.4 805.3 L1353.4 804.4 L1354.4 803.4 L1355.4 802.5 L1356.4 801.5 L1357.2 800.5 L1358.1 799.3 L1358.9 798.2 L1359.8 797.1 L1360.6 796.1 L1361.4 795.2 L1362.7 794.3 L1363.9 793.8 L1365.2 793.3 L1366.4 792.7 L1367.4 792.1 L1368.4 791.5 L1369.4 790.8 L1370.4 790 L1371.4 788.9 L1372.2 788.1 L1372.9 787.1 L1373.6 786 L1374.3 784.9 L1375 783.7 L1375.7 782.5 L1376.5 781.4 L1377.2 780.4 L1377.9 779.3 L1378.6 778.3 L1379.3 777.2 L1380 776.2 L1380.7 775.1 L1381.5 773.9 L1382.1 772.9 L1382.7 771.8 L1383.3 770.7 L1384 769.5 L1384.6 768.4 L1385.2 767.3 L1385.8 766.2 L1386.5 765.2 L1387.2 764 L1387.9 762.9 L1388.6 761.8 L1389.3 760.7 L1390 759.7 L1390.8 758.6 L1391.5 757.6 L1392.3 756.5 L1393.2 755.5 L1394 754.4 L1394.8 753.4 L1395.7 752.4 L1396.5 751.4 L1397.3 750.3 L1398.2 749.3 L1399 748.2 L1399.8 747.2 L1400.7 746.2 L1401.5 745.1 L1402.3 744.1 L1403.2 743.1 L1404 742.1 L1404.8 741 L1405.7 740 L1406.5 738.8 L1407.2 737.8 L1407.9 736.8 L1408.7 735.6 L1409.4 734.5 L1410.1 733.4 L1410.8 732.4 L1411.5 731.3 L1412.4 730.2 L1413.2 729.1 L1414.1 728 L1415 726.9 L1415.8 725.9 L1416.5 725.1 L1417.6 723.9 L1418.6 722.9 L1419.4 722.1 L1420 721.6 L1420.5 720.9 L1421 720.1 L1421.5 720.6 L1422 719.6 L1422.5 720.4 L1423 721.1 L1423.5 720.1 L1424 720.9 L1424.5 721.2 L1425 720.5 L1425.5 721.2 L1426 721.4 L1426.5 720.5 L1427 720.4 L1427.5 719 L1428 718.7 L1428.5 717.9 L1429 718.1 L1429.5 718.3 L1430 717.4 L1430.5 717.3 L1431 716.3 L1431.5 716.5 L1432 715.1 L1432.5 715.3 L1433 715.9 L1433.5 715.9 L1434 715.3 L1434.5 714.6 L1435 714.8 L1435.5 714.6 L1436 713.9 L1436.5 713.6 L1437 711.1 L1437.5 711.1 L1438 710.9 L1438.5 710.9 L1439 713.2 L1439.5 715.1 L1440 715.8 L1440.5 716.7 L1441 717.6 L1441.5 715.6 L1442 716.5 L1442.5 715.2 L1443 716 L1443.5 716.4 L1444 714.1 L1444.5 713.1 L1445 712.7 L1445.5 713.2 L1446 711.3 L1446.5 710.9 L1447 711.3 L1447.5 712 L1448 710.3 L1448.5 709.8 L1449 710.1 L1449.5 708.2 L1450 709.1 L1450.5 707.6 L1451 708.7 L1451.5 709.9 L1452 707.7 L1452.5 709.3 L1453 709.7 L1453.5 708.6 L1454 709 L1454.5 711.3 L1455 711.4 L1455.5 709 L1456 710.5 L1456.5 710.7 L1457 708.1 L1457.5 708.7 L1458 706.5 L1458.5 707 L1459 707.4 L1459.5 706.7 L1460 707.5 L1460.5 705.6 L1461 706.7 L1461.5 708.6 L1462 707.9 L1462.5 707.7 L1463 707.8 L1463.5 709.7 L1464 708.1 L1464.5 706 L1465 708.4 L1465.5 706.5 L1466 706.7 L1466.5 705.6 L1467 706.2 L1467.5 705.1 L1468 703.7 L1468.5 705 L1469 702.5 L1469.5 704.3 L1470 702.8 L1470.5 706.8 L1471 708.1 L1471.5 708.2 L1472 710.3 L1472.5 707 L1473 707.2 L1473.5 704.4 L1474 702 L1474.5 703.2 L1475 701.2 L1475.5 701.3 L1476 703.4 L1476.5 701.6 L1477 703 L1477.5 701.2 L1478 703.5 L1478.5 700.4 L1479 698.9 L1479.5 702 L1480 698 L1480.5 700.5 L1481 700.6 L1481.5 699.6 L1482 697.7 L1482.5 698.5 L1483 699.8 L1483.5 700.7 L1484 701.1 L1484.5 702.2 L1485 699 L1485.5 697.6 L1486 699.6 L1486.5 698.9 L1487 699.7 L1487.5 703 L1488 704.7 L1488.5 702 L1489 702.3 L1489.5 702.1 L1490 701 L1490.5 697.9 L1491 699.6 L1491.5 696.8 L1492 699.8 L1492.5 700.6 L1493 701.6 L1493.5 699.8 L1494 697.2 L1494.5 696.3 L1495 697.9 L1495.5 695.4 L1496 697 L1496.5 693.8 L1497 698 L1497.5 696.1 L1498 695.8 L1498.5 697.4 L1499 699.6 L1499.5 700.9 L1500 697.6 L1500.5 693.4 L1501 692 L1501.5 691.4 L1502 686.3 L1502.5 691 L1503 689.8 L1503.5 698.3 L1504 700.7 L1504.5 696.5 L1505 694.1 L1505.5 691.8 L1506 693 L1506.5 690.3 L1507 695.3 L1507.5 696.6 L1508 697.2 L1508.5 700.3 L1509 698.9 L1509.5 694.1 L1510 696 L1510.5 693.3 L1511 692.5 L1511.5 693 L1512 689.5 L1512.5 692.3 L1513 690.8 L1513.5 694 L1514 691.8 L1514.5 696.6 L1515 697.6 L1515.5 698.5 L1516 700.5 L1516.5 694.5 L1517 696.2 L1517.5 695 L1518 693.9 L1518.5 691.8 L1519 691.3 L1519.5 693.2 L1520 696.9 L1520.5 695.8 L1521 696.4 L1521.5 699.3 L1522 699.6 L1522.5 699.6 L1523 696.5 L1523.5 699.9 L1524 695.8 L1524.5 696.7 L1525 690.7 L1525.5 694.9 L1526 692.4 L1526.5 694 L1527 693.6 L1527.5 693 L1528 689.5 L1528.5 691.5 L1528.7 692.6 L1528.7 692.6" stroke="#e03c4e" stroke-width="2.3"/>
</g>
<path class="ax" d="M873.2 551.6 V939 H1528.8 M873.2 822.4 h2.8 M873.2 754.2 h2.8 M873.2 705.8 h2.8 M873.2 668.3 h2.8 M873.2 637.6 h2.8 M873.2 611.7 h2.8 M873.2 589.2 h2.8 M873.2 569.4 h2.8 M873.2 551.6 h6.5 M951.4 939 v-3.3 M1006.9 939 v-3.3 M1049.9 939 v-3.3 M1085.1 939 v-3.3 M1114.8 939 v-3.3 M1140.6 939 v-3.3 M1163.3 939 v-3.3 M1183.6 939 v-7.7 M1317.3 939 v-3.3 M1395.4 939 v-3.3 M1450.9 939 v-3.3 M1493.9 939 v-3.3 M1529.1 939 v-3.3"/>
<text class="tk" transform="translate(863.9 560.2) scale(1 1.06)" text-anchor="end">10</text>
<text class="tk" transform="translate(863.9 946) scale(1 1.06)" text-anchor="end">1</text>
<text class="tk" transform="translate(1184 967.5) scale(1 1.06)" text-anchor="middle">1000</text>
<text class="al" x="1200.6" y="1009.2" text-anchor="middle">Frequency (Hz)</text>
<text class="al" transform="translate(823 744) rotate(-90)" text-anchor="middle">Impedance magnitude</text>
<text class="pl" x="760" y="555">D</text>
</g>
<g id="legend">
<line x1="1275.3" y1="550" x2="1333.1" y2="550" stroke="#9ea8af" stroke-width="4" stroke-linecap="round"/>
<text class="lg" x="1352.6" y="558.7">Pre</text>
<line x1="1275.3" y1="582.5" x2="1333.1" y2="582.5" stroke="#1581e0" stroke-width="4" stroke-linecap="round"/>
<text class="lg" x="1352.6" y="591.2">EH 7-day</text>
<line x1="1275.3" y1="615" x2="1333.1" y2="615" stroke="#e03c4e" stroke-width="4" stroke-linecap="round"/>
<text class="lg" x="1352.6" y="623.7">EH 14-day</text>
</g>
</svg>
</body></html>
